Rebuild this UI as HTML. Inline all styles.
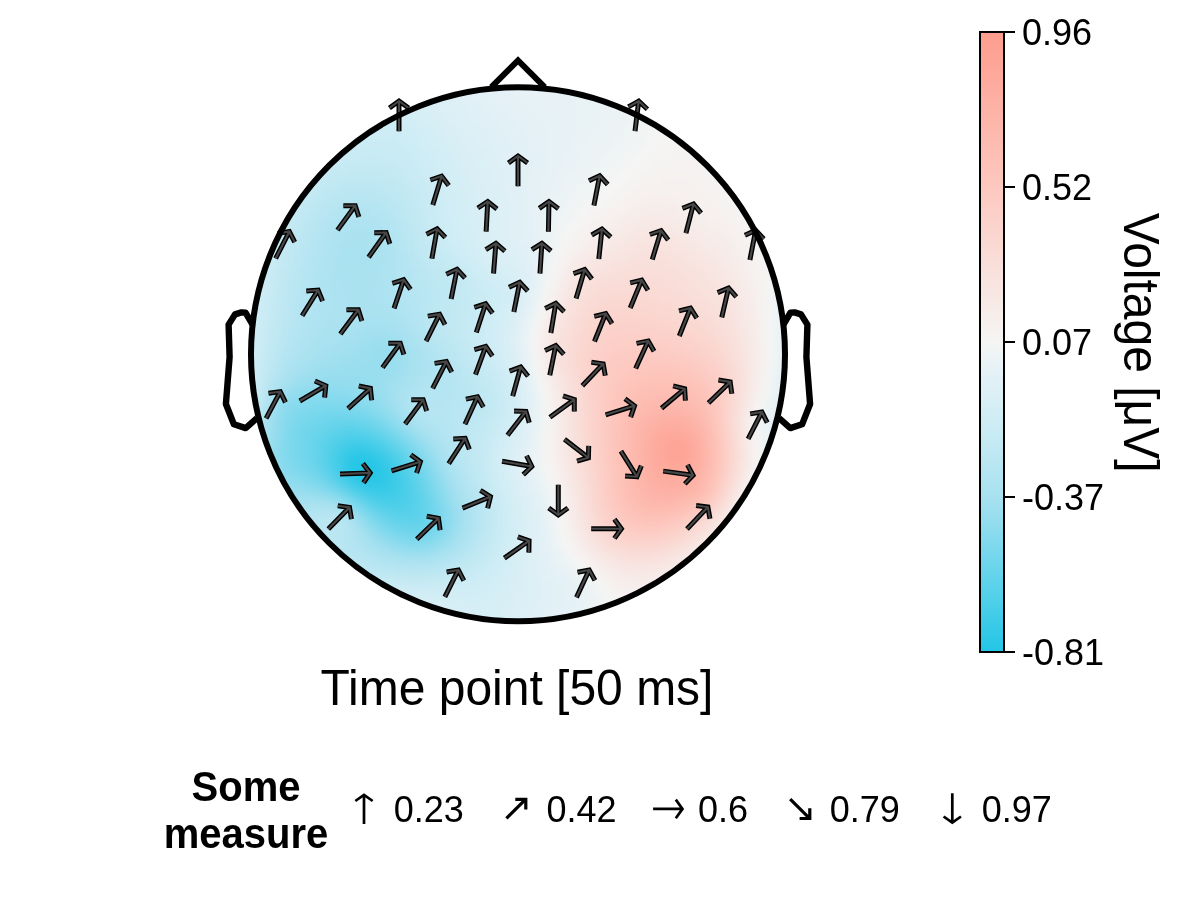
<!DOCTYPE html>
<html><head><meta charset="utf-8"><style>
html,body{margin:0;padding:0;background:#fff;width:1200px;height:900px;overflow:hidden}
#clip{position:absolute;left:251px;top:87.2px;width:534px;height:534px;border-radius:50%;overflow:hidden}
#field{position:absolute;left:-11px;top:-11.2px;width:570px;filter:blur(3px)}
svg{position:absolute;left:0;top:0;will-change:transform}
text{font-family:"Liberation Sans",sans-serif;fill:#000}
</style></head><body>
<div id="clip"><div id="field"><div style="height:6px;background:linear-gradient(90deg,#f5f4f3 3px,#f5f5f4 9px,#f2f4f4 15px,#f0f4f5 21px,#eef3f5 27px,#ecf3f5 33px,#eaf2f5 39px,#e8f2f5 45px,#e6f2f6 51px,#e5f1f6 57px,#e3f1f6 63px,#e2f1f6 69px,#e1f0f6 75px,#e0f0f6 81px,#dff0f6 87px,#def0f6 93px,#ddf0f6 99px,#dceff6 105px,#dceff6 111px,#dbeff6 117px,#daeff6 123px,#daeff6 129px,#daeff5 135px,#daeff5 141px,#daeff5 147px,#daeff5 153px,#daeff6 159px,#dbeff6 165px,#dbeff6 171px,#dceff6 177px,#ddf0f6 183px,#def0f6 189px,#def0f6 195px,#dff0f6 201px,#e0f0f6 207px,#e1f0f6 213px,#e2f1f6 219px,#e2f1f6 225px,#e3f1f6 231px,#e4f1f6 237px,#e4f1f6 243px,#e5f1f6 249px,#e6f1f6 255px,#e6f2f6 261px,#e7f2f6 267px,#e8f2f6 273px,#e8f2f6 279px,#e8f2f5 285px,#e9f2f5 291px,#e9f2f5 297px,#e9f2f5 303px,#e9f2f5 309px,#e9f2f5 315px,#e9f2f5 321px,#e9f2f5 327px,#e9f2f5 333px,#e9f2f5 339px,#e9f2f5 345px,#e9f2f5 351px,#e9f2f5 357px,#e9f2f5 363px,#eaf2f5 369px,#eaf2f5 375px,#eaf2f5 381px,#eaf3f5 387px,#ebf3f5 393px,#ebf3f5 399px,#ecf3f5 405px,#ecf3f5 411px,#ecf3f5 417px,#edf3f5 423px,#edf3f5 429px,#edf3f5 435px,#edf3f5 441px,#edf3f5 447px,#edf3f5 453px,#ecf3f5 459px,#ecf3f5 465px,#ebf3f5 471px,#eaf2f5 477px,#e9f2f5 483px,#e8f2f5 489px,#e7f2f6 495px,#e6f1f6 501px,#e4f1f6 507px,#e3f1f6 513px,#e2f1f6 519px,#e0f0f6 525px,#dff0f6 531px,#ddf0f6 537px,#dceff6 543px,#daeff5 549px,#d8eff5 555px,#d6eef5 561px,#d4eef5 567px)"></div><div style="height:6px;background:linear-gradient(90deg,#f5f5f4 3px,#f3f5f4 9px,#f1f4f4 15px,#eff4f5 21px,#edf3f5 27px,#ebf3f5 33px,#e9f2f5 39px,#e7f2f6 45px,#e5f1f6 51px,#e3f1f6 57px,#e2f1f6 63px,#e1f0f6 69px,#e0f0f6 75px,#dff0f6 81px,#def0f6 87px,#ddf0f6 93px,#dceff6 99px,#dbeff6 105px,#daeff6 111px,#daeff5 117px,#d9eff5 123px,#d9eff5 129px,#d8eff5 135px,#d8eff5 141px,#d8eff5 147px,#d8eff5 153px,#d9eff5 159px,#d9eff5 165px,#daeff5 171px,#dbeff6 177px,#dceff6 183px,#ddf0f6 189px,#ddf0f6 195px,#def0f6 201px,#dff0f6 207px,#e0f0f6 213px,#e1f0f6 219px,#e2f1f6 225px,#e2f1f6 231px,#e3f1f6 237px,#e4f1f6 243px,#e4f1f6 249px,#e5f1f6 255px,#e6f1f6 261px,#e7f2f6 267px,#e7f2f6 273px,#e8f2f6 279px,#e8f2f6 285px,#e8f2f6 291px,#e8f2f5 297px,#e9f2f5 303px,#e9f2f5 309px,#e9f2f5 315px,#e9f2f5 321px,#e9f2f5 327px,#e9f2f5 333px,#e9f2f5 339px,#e9f2f5 345px,#e9f2f5 351px,#e9f2f5 357px,#e9f2f5 363px,#eaf2f5 369px,#eaf2f5 375px,#eaf2f5 381px,#ebf3f5 387px,#ebf3f5 393px,#ecf3f5 399px,#ecf3f5 405px,#edf3f5 411px,#edf3f5 417px,#edf3f5 423px,#eef3f5 429px,#eef3f5 435px,#eef3f5 441px,#eef3f5 447px,#eef3f5 453px,#edf3f5 459px,#edf3f5 465px,#ecf3f5 471px,#ebf3f5 477px,#eaf2f5 483px,#e9f2f5 489px,#e8f2f6 495px,#e7f2f6 501px,#e5f1f6 507px,#e4f1f6 513px,#e2f1f6 519px,#e1f0f6 525px,#dff0f6 531px,#def0f6 537px,#dceff6 543px,#daeff6 549px,#d9eff5 555px,#d7eef5 561px,#d5eef5 567px)"></div><div style="height:6px;background:linear-gradient(90deg,#f4f5f4 3px,#f2f4f4 9px,#eff4f5 15px,#edf3f5 21px,#ebf3f5 27px,#e9f2f5 33px,#e7f2f6 39px,#e5f1f6 45px,#e3f1f6 51px,#e2f1f6 57px,#e1f0f6 63px,#e0f0f6 69px,#def0f6 75px,#ddf0f6 81px,#dceff6 87px,#dbeff6 93px,#daeff6 99px,#daeff5 105px,#d9eff5 111px,#d8eff5 117px,#d8eff5 123px,#d7eef5 129px,#d7eef5 135px,#d7eef5 141px,#d7eef5 147px,#d7eef5 153px,#d7eef5 159px,#d8eff5 165px,#d9eff5 171px,#daeff5 177px,#dbeff6 183px,#dceff6 189px,#ddf0f6 195px,#ddf0f6 201px,#def0f6 207px,#dff0f6 213px,#e0f0f6 219px,#e1f0f6 225px,#e2f1f6 231px,#e2f1f6 237px,#e3f1f6 243px,#e4f1f6 249px,#e4f1f6 255px,#e5f1f6 261px,#e6f1f6 267px,#e7f2f6 273px,#e7f2f6 279px,#e7f2f6 285px,#e8f2f6 291px,#e8f2f6 297px,#e8f2f6 303px,#e8f2f5 309px,#e8f2f5 315px,#e8f2f5 321px,#e9f2f5 327px,#e9f2f5 333px,#e9f2f5 339px,#e9f2f5 345px,#e9f2f5 351px,#e9f2f5 357px,#e9f2f5 363px,#eaf2f5 369px,#eaf2f5 375px,#eaf2f5 381px,#ebf3f5 387px,#ebf3f5 393px,#ecf3f5 399px,#edf3f5 405px,#edf3f5 411px,#eef3f5 417px,#eef3f5 423px,#eef3f5 429px,#eff4f5 435px,#eff4f5 441px,#eff4f5 447px,#eff3f5 453px,#eef3f5 459px,#eef3f5 465px,#edf3f5 471px,#ecf3f5 477px,#ebf3f5 483px,#eaf2f5 489px,#e9f2f5 495px,#e8f2f6 501px,#e6f1f6 507px,#e4f1f6 513px,#e3f1f6 519px,#e2f1f6 525px,#e0f0f6 531px,#def0f6 537px,#ddf0f6 543px,#dbeff6 549px,#d9eff5 555px,#d7eef5 561px,#d5eef5 567px)"></div><div style="height:6px;background:linear-gradient(90deg,#f3f4f4 3px,#f0f4f5 9px,#eef3f5 15px,#ecf3f5 21px,#eaf2f5 27px,#e7f2f6 33px,#e5f1f6 39px,#e4f1f6 45px,#e2f1f6 51px,#e1f0f6 57px,#dff0f6 63px,#def0f6 69px,#ddf0f6 75px,#dceff6 81px,#dbeff6 87px,#daeff5 93px,#d9eff5 99px,#d8eff5 105px,#d7eef5 111px,#d7eef5 117px,#d6eef5 123px,#d6eef5 129px,#d5eef5 135px,#d5eef5 141px,#d5eef5 147px,#d5eef5 153px,#d6eef5 159px,#d6eef5 165px,#d7eef5 171px,#d8eff5 177px,#d9eff5 183px,#dbeff6 189px,#dceff6 195px,#ddf0f6 201px,#ddf0f6 207px,#def0f6 213px,#dff0f6 219px,#e0f0f6 225px,#e1f0f6 231px,#e2f1f6 237px,#e2f1f6 243px,#e3f1f6 249px,#e4f1f6 255px,#e5f1f6 261px,#e5f1f6 267px,#e6f1f6 273px,#e7f2f6 279px,#e7f2f6 285px,#e7f2f6 291px,#e8f2f6 297px,#e8f2f6 303px,#e8f2f6 309px,#e8f2f6 315px,#e8f2f6 321px,#e8f2f5 327px,#e8f2f5 333px,#e9f2f5 339px,#e9f2f5 345px,#e9f2f5 351px,#e9f2f5 357px,#e9f2f5 363px,#eaf2f5 369px,#eaf2f5 375px,#ebf3f5 381px,#ebf3f5 387px,#ecf3f5 393px,#edf3f5 399px,#edf3f5 405px,#eef3f5 411px,#eef3f5 417px,#eff4f5 423px,#eff4f5 429px,#f0f4f5 435px,#f0f4f5 441px,#f0f4f5 447px,#f0f4f5 453px,#eff4f5 459px,#eff4f5 465px,#eef3f5 471px,#edf3f5 477px,#ecf3f5 483px,#ebf3f5 489px,#eaf2f5 495px,#e9f2f5 501px,#e7f2f6 507px,#e5f1f6 513px,#e4f1f6 519px,#e2f1f6 525px,#e1f0f6 531px,#dff0f6 537px,#ddf0f6 543px,#dbeff6 549px,#d9eff5 555px,#d8eff5 561px,#d6eef5 567px)"></div><div style="height:6px;background:linear-gradient(90deg,#f1f4f4 3px,#eff4f5 9px,#edf3f5 15px,#eaf2f5 21px,#e8f2f6 27px,#e6f1f6 33px,#e4f1f6 39px,#e2f1f6 45px,#e1f0f6 51px,#dff0f6 57px,#def0f6 63px,#ddf0f6 69px,#dceff6 75px,#dbeff6 81px,#daeff5 87px,#d9eff5 93px,#d8eff5 99px,#d7eef5 105px,#d6eef5 111px,#d5eef5 117px,#d5eef5 123px,#d4eef5 129px,#d4eef5 135px,#d4eef5 141px,#d4eef5 147px,#d4eef5 153px,#d4eef5 159px,#d5eef5 165px,#d6eef5 171px,#d7eef5 177px,#d8eff5 183px,#daeff5 189px,#dbeff6 195px,#dceff6 201px,#ddf0f6 207px,#ddf0f6 213px,#def0f6 219px,#dff0f6 225px,#e0f0f6 231px,#e1f0f6 237px,#e2f1f6 243px,#e2f1f6 249px,#e3f1f6 255px,#e4f1f6 261px,#e5f1f6 267px,#e5f1f6 273px,#e6f1f6 279px,#e6f2f6 285px,#e7f2f6 291px,#e7f2f6 297px,#e7f2f6 303px,#e8f2f6 309px,#e8f2f6 315px,#e8f2f6 321px,#e8f2f6 327px,#e8f2f5 333px,#e9f2f5 339px,#e9f2f5 345px,#e9f2f5 351px,#e9f2f5 357px,#e9f2f5 363px,#eaf2f5 369px,#eaf2f5 375px,#ebf3f5 381px,#ecf3f5 387px,#ecf3f5 393px,#edf3f5 399px,#eef3f5 405px,#eff3f5 411px,#eff4f5 417px,#f0f4f5 423px,#f0f4f5 429px,#f0f4f5 435px,#f1f4f5 441px,#f1f4f5 447px,#f1f4f5 453px,#f0f4f5 459px,#f0f4f5 465px,#eff4f5 471px,#eef3f5 477px,#edf3f5 483px,#ecf3f5 489px,#ebf3f5 495px,#e9f2f5 501px,#e8f2f6 507px,#e6f2f6 513px,#e4f1f6 519px,#e3f1f6 525px,#e1f0f6 531px,#dff0f6 537px,#def0f6 543px,#dceff6 549px,#daeff5 555px,#d8eff5 561px,#d6eef5 567px)"></div><div style="height:6px;background:linear-gradient(90deg,#f0f4f5 3px,#edf3f5 9px,#ebf3f5 15px,#e9f2f5 21px,#e6f2f6 27px,#e4f1f6 33px,#e3f1f6 39px,#e1f0f6 45px,#e0f0f6 51px,#def0f6 57px,#ddf0f6 63px,#dceff6 69px,#daeff6 75px,#d9eff5 81px,#d8eff5 87px,#d7eef5 93px,#d6eef5 99px,#d6eef5 105px,#d5eef5 111px,#d4eef5 117px,#d3eef5 123px,#d3eef5 129px,#d3eef5 135px,#d2edf5 141px,#d2edf5 147px,#d2edf5 153px,#d3eef5 159px,#d4eef5 165px,#d5eef5 171px,#d6eef5 177px,#d7eef5 183px,#d8eff5 189px,#daeff5 195px,#dbeff6 201px,#dceff6 207px,#ddf0f6 213px,#def0f6 219px,#def0f6 225px,#dff0f6 231px,#e0f0f6 237px,#e1f0f6 243px,#e2f1f6 249px,#e3f1f6 255px,#e3f1f6 261px,#e4f1f6 267px,#e5f1f6 273px,#e5f1f6 279px,#e6f1f6 285px,#e6f2f6 291px,#e7f2f6 297px,#e7f2f6 303px,#e7f2f6 309px,#e8f2f6 315px,#e8f2f6 321px,#e8f2f6 327px,#e8f2f5 333px,#e9f2f5 339px,#e9f2f5 345px,#e9f2f5 351px,#e9f2f5 357px,#eaf2f5 363px,#eaf2f5 369px,#ebf3f5 375px,#ebf3f5 381px,#ecf3f5 387px,#edf3f5 393px,#eef3f5 399px,#eff3f5 405px,#eff4f5 411px,#f0f4f5 417px,#f1f4f5 423px,#f1f4f4 429px,#f1f4f4 435px,#f2f4f4 441px,#f2f4f4 447px,#f2f4f4 453px,#f1f4f4 459px,#f1f4f4 465px,#f0f4f5 471px,#eff4f5 477px,#eef3f5 483px,#edf3f5 489px,#ecf3f5 495px,#eaf2f5 501px,#e9f2f5 507px,#e7f2f6 513px,#e5f1f6 519px,#e3f1f6 525px,#e2f1f6 531px,#e0f0f6 537px,#def0f6 543px,#dceff6 549px,#daeff6 555px,#d8eff5 561px,#d6eef5 567px)"></div><div style="height:6px;background:linear-gradient(90deg,#eff3f5 3px,#ecf3f5 9px,#eaf2f5 15px,#e7f2f6 21px,#e5f1f6 27px,#e3f1f6 33px,#e1f0f6 39px,#e0f0f6 45px,#def0f6 51px,#ddf0f6 57px,#dbeff6 63px,#daeff6 69px,#d9eff5 75px,#d8eff5 81px,#d7eef5 87px,#d6eef5 93px,#d5eef5 99px,#d4eef5 105px,#d4eef5 111px,#d3eef5 117px,#d2edf5 123px,#d2edf5 129px,#d1edf5 135px,#d1edf5 141px,#d1edf5 147px,#d1edf5 153px,#d1edf5 159px,#d2edf5 165px,#d3eef5 171px,#d5eef5 177px,#d6eef5 183px,#d7eef5 189px,#d8eff5 195px,#daeff5 201px,#dbeff6 207px,#dceff6 213px,#ddf0f6 219px,#def0f6 225px,#dff0f6 231px,#dff0f6 237px,#e0f0f6 243px,#e1f0f6 249px,#e2f1f6 255px,#e3f1f6 261px,#e3f1f6 267px,#e4f1f6 273px,#e5f1f6 279px,#e5f1f6 285px,#e6f1f6 291px,#e6f2f6 297px,#e7f2f6 303px,#e7f2f6 309px,#e7f2f6 315px,#e8f2f6 321px,#e8f2f6 327px,#e8f2f6 333px,#e9f2f5 339px,#e9f2f5 345px,#e9f2f5 351px,#eaf2f5 357px,#eaf2f5 363px,#ebf3f5 369px,#ebf3f5 375px,#ecf3f5 381px,#edf3f5 387px,#eef3f5 393px,#eef3f5 399px,#eff4f5 405px,#f0f4f5 411px,#f1f4f4 417px,#f1f4f4 423px,#f2f4f4 429px,#f2f4f4 435px,#f3f4f4 441px,#f3f4f4 447px,#f3f4f4 453px,#f2f4f4 459px,#f2f4f4 465px,#f1f4f4 471px,#f0f4f5 477px,#eff4f5 483px,#eef3f5 489px,#edf3f5 495px,#ebf3f5 501px,#eaf2f5 507px,#e8f2f6 513px,#e6f1f6 519px,#e4f1f6 525px,#e2f1f6 531px,#e0f0f6 537px,#dff0f6 543px,#ddf0f6 549px,#dbeff6 555px,#d9eff5 561px,#d7eef5 567px)"></div><div style="height:6px;background:linear-gradient(90deg,#edf3f5 3px,#ebf3f5 9px,#e8f2f6 15px,#e6f1f6 21px,#e3f1f6 27px,#e2f1f6 33px,#e0f0f6 39px,#def0f6 45px,#ddf0f6 51px,#dbeff6 57px,#daeff6 63px,#d9eff5 69px,#d8eff5 75px,#d7eef5 81px,#d6eef5 87px,#d5eef5 93px,#d4eef5 99px,#d3eef5 105px,#d2edf5 111px,#d2edf5 117px,#d1edf5 123px,#d0edf5 129px,#d0edf5 135px,#d0edf5 141px,#d0edf5 147px,#d0edf5 153px,#d0edf5 159px,#d1edf5 165px,#d2edf5 171px,#d3eef5 177px,#d5eef5 183px,#d6eef5 189px,#d7eef5 195px,#d8eff5 201px,#daeff5 207px,#dbeff6 213px,#dceff6 219px,#ddf0f6 225px,#def0f6 231px,#dff0f6 237px,#e0f0f6 243px,#e1f0f6 249px,#e1f0f6 255px,#e2f1f6 261px,#e3f1f6 267px,#e3f1f6 273px,#e4f1f6 279px,#e5f1f6 285px,#e5f1f6 291px,#e6f1f6 297px,#e6f2f6 303px,#e7f2f6 309px,#e7f2f6 315px,#e8f2f6 321px,#e8f2f6 327px,#e8f2f6 333px,#e9f2f5 339px,#e9f2f5 345px,#e9f2f5 351px,#eaf2f5 357px,#eaf3f5 363px,#ebf3f5 369px,#ecf3f5 375px,#ecf3f5 381px,#edf3f5 387px,#eef3f5 393px,#eff4f5 399px,#f0f4f5 405px,#f1f4f4 411px,#f2f4f4 417px,#f2f4f4 423px,#f3f5f4 429px,#f3f5f4 435px,#f4f5f4 441px,#f4f5f4 447px,#f4f5f4 453px,#f4f5f4 459px,#f3f5f4 465px,#f2f4f4 471px,#f1f4f4 477px,#f0f4f5 483px,#eff4f5 489px,#eef3f5 495px,#ecf3f5 501px,#eaf3f5 507px,#e9f2f5 513px,#e7f2f6 519px,#e5f1f6 525px,#e3f1f6 531px,#e1f0f6 537px,#dff0f6 543px,#ddf0f6 549px,#dbeff6 555px,#d9eff5 561px,#d7eef5 567px)"></div><div style="height:6px;background:linear-gradient(90deg,#ecf3f5 3px,#e9f2f5 9px,#e7f2f6 15px,#e4f1f6 21px,#e2f1f6 27px,#e0f0f6 33px,#dff0f6 39px,#ddf0f6 45px,#dceff6 51px,#daeff6 57px,#d9eff5 63px,#d8eff5 69px,#d6eef5 75px,#d5eef5 81px,#d4eef5 87px,#d3eef5 93px,#d3eef5 99px,#d2edf5 105px,#d1edf5 111px,#d0edf5 117px,#d0edf5 123px,#cfedf5 129px,#cfedf5 135px,#ceecf5 141px,#ceecf5 147px,#cfedf5 153px,#cfedf5 159px,#d0edf5 165px,#d1edf5 171px,#d2edf5 177px,#d4eef5 183px,#d5eef5 189px,#d6eef5 195px,#d7eef5 201px,#d9eff5 207px,#daeff5 213px,#dbeff6 219px,#dceff6 225px,#ddf0f6 231px,#def0f6 237px,#dff0f6 243px,#e0f0f6 249px,#e1f0f6 255px,#e2f1f6 261px,#e2f1f6 267px,#e3f1f6 273px,#e4f1f6 279px,#e4f1f6 285px,#e5f1f6 291px,#e5f1f6 297px,#e6f1f6 303px,#e7f2f6 309px,#e7f2f6 315px,#e7f2f6 321px,#e8f2f6 327px,#e8f2f5 333px,#e9f2f5 339px,#e9f2f5 345px,#eaf2f5 351px,#eaf2f5 357px,#ebf3f5 363px,#ecf3f5 369px,#ecf3f5 375px,#edf3f5 381px,#eef3f5 387px,#eff4f5 393px,#f0f4f5 399px,#f1f4f4 405px,#f2f4f4 411px,#f3f4f4 417px,#f3f5f4 423px,#f4f5f4 429px,#f4f5f4 435px,#f5f5f4 441px,#f5f5f4 447px,#f5f5f4 453px,#f5f5f4 459px,#f4f5f4 465px,#f3f5f4 471px,#f3f4f4 477px,#f1f4f4 483px,#f0f4f5 489px,#eff3f5 495px,#edf3f5 501px,#ebf3f5 507px,#e9f2f5 513px,#e7f2f6 519px,#e5f1f6 525px,#e3f1f6 531px,#e1f0f6 537px,#dff0f6 543px,#ddf0f6 549px,#dbeff6 555px,#d9eff5 561px,#d7eef5 567px)"></div><div style="height:6px;background:linear-gradient(90deg,#eaf3f5 3px,#e8f2f6 9px,#e5f1f6 15px,#e3f1f6 21px,#e1f0f6 27px,#dff0f6 33px,#ddf0f6 39px,#dceff6 45px,#daeff6 51px,#d9eff5 57px,#d7eef5 63px,#d6eef5 69px,#d5eef5 75px,#d4eef5 81px,#d3eef5 87px,#d2edf5 93px,#d1edf5 99px,#d0edf5 105px,#d0edf5 111px,#cfedf5 117px,#ceecf5 123px,#ceecf5 129px,#cdecf5 135px,#cdecf5 141px,#cdecf5 147px,#cdecf5 153px,#ceecf5 159px,#cfedf5 165px,#d0edf5 171px,#d1edf5 177px,#d2edf5 183px,#d4eef5 189px,#d5eef5 195px,#d6eef5 201px,#d8eff5 207px,#d9eff5 213px,#daeff6 219px,#dbeff6 225px,#dceff6 231px,#ddf0f6 237px,#def0f6 243px,#dff0f6 249px,#e0f0f6 255px,#e1f0f6 261px,#e2f1f6 267px,#e2f1f6 273px,#e3f1f6 279px,#e4f1f6 285px,#e4f1f6 291px,#e5f1f6 297px,#e6f1f6 303px,#e6f2f6 309px,#e7f2f6 315px,#e7f2f6 321px,#e8f2f6 327px,#e8f2f5 333px,#e9f2f5 339px,#e9f2f5 345px,#eaf2f5 351px,#ebf3f5 357px,#ebf3f5 363px,#ecf3f5 369px,#edf3f5 375px,#eef3f5 381px,#eff4f5 387px,#f0f4f5 393px,#f1f4f4 399px,#f2f4f4 405px,#f3f4f4 411px,#f3f5f4 417px,#f4f5f4 423px,#f5f5f4 429px,#f5f5f4 435px,#f5f5f4 441px,#f5f4f3 447px,#f5f4f3 453px,#f5f5f4 459px,#f5f5f4 465px,#f5f5f4 471px,#f4f5f4 477px,#f2f4f4 483px,#f1f4f4 489px,#eff4f5 495px,#eef3f5 501px,#ecf3f5 507px,#eaf2f5 513px,#e8f2f6 519px,#e6f1f6 525px,#e4f1f6 531px,#e2f1f6 537px,#e0f0f6 543px,#def0f6 549px,#dceff6 555px,#daeff5 561px,#d7eef5 567px)"></div><div style="height:6px;background:linear-gradient(90deg,#e9f2f5 3px,#e6f2f6 9px,#e4f1f6 15px,#e2f1f6 21px,#e0f0f6 27px,#def0f6 33px,#dceff6 39px,#daeff6 45px,#d9eff5 51px,#d7eef5 57px,#d6eef5 63px,#d5eef5 69px,#d3eef5 75px,#d2edf5 81px,#d1edf5 87px,#d1edf5 93px,#d0edf5 99px,#cfedf5 105px,#ceecf5 111px,#cdecf5 117px,#cdecf5 123px,#ccecf5 129px,#ccecf4 135px,#ccecf4 141px,#ccecf4 147px,#ccecf5 153px,#cdecf5 159px,#ceecf5 165px,#cfedf5 171px,#d0edf5 177px,#d2edf5 183px,#d3eef5 189px,#d4eef5 195px,#d5eef5 201px,#d7eef5 207px,#d8eff5 213px,#d9eff5 219px,#daeff6 225px,#dceff6 231px,#ddf0f6 237px,#def0f6 243px,#dff0f6 249px,#e0f0f6 255px,#e0f0f6 261px,#e1f0f6 267px,#e2f1f6 273px,#e3f1f6 279px,#e3f1f6 285px,#e4f1f6 291px,#e5f1f6 297px,#e6f1f6 303px,#e6f2f6 309px,#e7f2f6 315px,#e7f2f6 321px,#e8f2f6 327px,#e9f2f5 333px,#e9f2f5 339px,#eaf2f5 345px,#eaf3f5 351px,#ebf3f5 357px,#ecf3f5 363px,#edf3f5 369px,#eef3f5 375px,#eff3f5 381px,#f0f4f5 387px,#f1f4f5 393px,#f2f4f4 399px,#f3f4f4 405px,#f4f5f4 411px,#f4f5f4 417px,#f5f5f4 423px,#f5f5f4 429px,#f5f4f3 435px,#f5f4f3 441px,#f5f4f3 447px,#f5f4f3 453px,#f5f4f3 459px,#f5f4f3 465px,#f5f5f4 471px,#f4f5f4 477px,#f3f5f4 483px,#f2f4f4 489px,#f0f4f5 495px,#eef3f5 501px,#edf3f5 507px,#ebf3f5 513px,#e9f2f5 519px,#e6f2f6 525px,#e4f1f6 531px,#e2f1f6 537px,#e0f0f6 543px,#def0f6 549px,#dceff6 555px,#daeff5 561px,#d8eff5 567px)"></div><div style="height:6px;background:linear-gradient(90deg,#e8f2f6 3px,#e5f1f6 9px,#e3f1f6 15px,#e1f0f6 21px,#dff0f6 27px,#ddf0f6 33px,#dbeff6 39px,#d9eff5 45px,#d7eef5 51px,#d6eef5 57px,#d4eef5 63px,#d3eef5 69px,#d2edf5 75px,#d1edf5 81px,#d0edf5 87px,#cfedf5 93px,#ceecf5 99px,#cdecf5 105px,#cdecf5 111px,#ccecf4 117px,#cbecf4 123px,#cbebf4 129px,#caebf4 135px,#caebf4 141px,#caebf4 147px,#cbebf4 153px,#ccecf4 159px,#cdecf5 165px,#ceecf5 171px,#cfedf5 177px,#d1edf5 183px,#d2edf5 189px,#d3eef5 195px,#d5eef5 201px,#d6eef5 207px,#d7eef5 213px,#d8eff5 219px,#daeff5 225px,#dbeff6 231px,#dceff6 237px,#ddf0f6 243px,#def0f6 249px,#dff0f6 255px,#e0f0f6 261px,#e1f0f6 267px,#e2f1f6 273px,#e2f1f6 279px,#e3f1f6 285px,#e4f1f6 291px,#e5f1f6 297px,#e5f1f6 303px,#e6f2f6 309px,#e7f2f6 315px,#e7f2f6 321px,#e8f2f6 327px,#e9f2f5 333px,#e9f2f5 339px,#eaf2f5 345px,#ebf3f5 351px,#ecf3f5 357px,#ecf3f5 363px,#edf3f5 369px,#eef3f5 375px,#eff4f5 381px,#f0f4f5 387px,#f1f4f4 393px,#f2f4f4 399px,#f3f5f4 405px,#f4f5f4 411px,#f5f5f4 417px,#f5f4f3 423px,#f5f4f3 429px,#f5f4f3 435px,#f5f4f2 441px,#f5f3f2 447px,#f5f3f2 453px,#f5f4f2 459px,#f5f4f3 465px,#f5f4f3 471px,#f5f5f4 477px,#f4f5f4 483px,#f3f4f4 489px,#f1f4f4 495px,#eff4f5 501px,#edf3f5 507px,#ebf3f5 513px,#e9f2f5 519px,#e7f2f6 525px,#e5f1f6 531px,#e3f1f6 537px,#e1f0f6 543px,#dff0f6 549px,#dceff6 555px,#daeff6 561px,#d8eff5 567px)"></div><div style="height:6px;background:linear-gradient(90deg,#e6f2f6 3px,#e4f1f6 9px,#e1f0f6 15px,#dff0f6 21px,#ddf0f6 27px,#dbeff6 33px,#d9eff5 39px,#d8eff5 45px,#d6eef5 51px,#d4eef5 57px,#d3eef5 63px,#d2edf5 69px,#d0edf5 75px,#cfedf5 81px,#ceecf5 87px,#cdecf5 93px,#ccecf5 99px,#cbecf4 105px,#cbebf4 111px,#caebf4 117px,#c9ebf4 123px,#c9ebf4 129px,#c9ebf4 135px,#c9ebf4 141px,#c9ebf4 147px,#caebf4 153px,#caebf4 159px,#cbecf4 165px,#cdecf5 171px,#ceecf5 177px,#d0edf5 183px,#d1edf5 189px,#d2edf5 195px,#d4eef5 201px,#d5eef5 207px,#d6eef5 213px,#d8eff5 219px,#d9eff5 225px,#daeff6 231px,#dbeff6 237px,#dceff6 243px,#ddf0f6 249px,#dff0f6 255px,#dff0f6 261px,#e0f0f6 267px,#e1f0f6 273px,#e2f1f6 279px,#e3f1f6 285px,#e4f1f6 291px,#e5f1f6 297px,#e5f1f6 303px,#e6f2f6 309px,#e7f2f6 315px,#e8f2f6 321px,#e8f2f5 327px,#e9f2f5 333px,#eaf2f5 339px,#ebf3f5 345px,#ebf3f5 351px,#ecf3f5 357px,#edf3f5 363px,#eef3f5 369px,#eff4f5 375px,#f0f4f5 381px,#f1f4f4 387px,#f2f4f4 393px,#f3f5f4 399px,#f4f5f4 405px,#f5f5f4 411px,#f5f4f3 417px,#f5f4f3 423px,#f5f4f2 429px,#f5f3f2 435px,#f5f3f2 441px,#f5f3f2 447px,#f5f3f2 453px,#f5f3f2 459px,#f5f3f2 465px,#f5f4f3 471px,#f5f5f3 477px,#f5f5f4 483px,#f3f5f4 489px,#f2f4f4 495px,#f0f4f5 501px,#eef3f5 507px,#ecf3f5 513px,#eaf2f5 519px,#e8f2f6 525px,#e5f1f6 531px,#e3f1f6 537px,#e1f0f6 543px,#dff0f6 549px,#ddf0f6 555px,#daeff6 561px,#d8eff5 567px)"></div><div style="height:6px;background:linear-gradient(90deg,#e5f1f6 3px,#e3f1f6 9px,#e0f0f6 15px,#def0f6 21px,#dceff6 27px,#daeff6 33px,#d8eff5 39px,#d6eef5 45px,#d4eef5 51px,#d3eef5 57px,#d1edf5 63px,#d0edf5 69px,#ceedf5 75px,#cdecf5 81px,#ccecf4 87px,#cbebf4 93px,#caebf4 99px,#c9ebf4 105px,#c9ebf4 111px,#c8ebf4 117px,#c8eaf4 123px,#c7eaf4 129px,#c7eaf4 135px,#c7eaf4 141px,#c8eaf4 147px,#c8ebf4 153px,#c9ebf4 159px,#caebf4 165px,#ccecf4 171px,#cdecf5 177px,#cfedf5 183px,#d0edf5 189px,#d2edf5 195px,#d3eef5 201px,#d4eef5 207px,#d6eef5 213px,#d7eef5 219px,#d8eff5 225px,#daeff5 231px,#dbeff6 237px,#dceff6 243px,#ddf0f6 249px,#def0f6 255px,#dff0f6 261px,#e0f0f6 267px,#e1f0f6 273px,#e2f1f6 279px,#e3f1f6 285px,#e4f1f6 291px,#e4f1f6 297px,#e5f1f6 303px,#e6f2f6 309px,#e7f2f6 315px,#e8f2f6 321px,#e9f2f5 327px,#e9f2f5 333px,#eaf2f5 339px,#ebf3f5 345px,#ecf3f5 351px,#edf3f5 357px,#eef3f5 363px,#eff4f5 369px,#f0f4f5 375px,#f1f4f4 381px,#f2f4f4 387px,#f3f5f4 393px,#f4f5f4 399px,#f5f5f4 405px,#f5f4f3 411px,#f5f4f3 417px,#f5f4f2 423px,#f5f3f2 429px,#f5f3f2 435px,#f5f3f1 441px,#f5f3f1 447px,#f5f3f1 453px,#f5f3f1 459px,#f5f3f2 465px,#f5f4f2 471px,#f5f4f3 477px,#f5f5f4 483px,#f4f5f4 489px,#f2f4f4 495px,#f0f4f5 501px,#eef3f5 507px,#ecf3f5 513px,#eaf2f5 519px,#e8f2f6 525px,#e6f1f6 531px,#e3f1f6 537px,#e1f0f6 543px,#dff0f6 549px,#ddf0f6 555px,#dbeff6 561px,#d8eff5 567px)"></div><div style="height:6px;background:linear-gradient(90deg,#e4f1f6 3px,#e2f1f6 9px,#dff0f6 15px,#ddf0f6 21px,#dbeff6 27px,#d9eff5 33px,#d7eef5 39px,#d5eef5 45px,#d3eef5 51px,#d1edf5 57px,#d0edf5 63px,#ceecf5 69px,#ccecf5 75px,#cbecf4 81px,#caebf4 87px,#c9ebf4 93px,#c8ebf4 99px,#c7eaf4 105px,#c6eaf4 111px,#c6eaf4 117px,#c5eaf4 123px,#c5eaf4 129px,#c5eaf4 135px,#c5eaf4 141px,#c6eaf4 147px,#c7eaf4 153px,#c8ebf4 159px,#c9ebf4 165px,#caebf4 171px,#ccecf4 177px,#ceecf5 183px,#cfedf5 189px,#d1edf5 195px,#d2edf5 201px,#d4eef5 207px,#d5eef5 213px,#d6eef5 219px,#d8eff5 225px,#d9eff5 231px,#daeff6 237px,#dbeff6 243px,#ddf0f6 249px,#def0f6 255px,#dff0f6 261px,#e0f0f6 267px,#e1f0f6 273px,#e2f1f6 279px,#e3f1f6 285px,#e3f1f6 291px,#e4f1f6 297px,#e5f1f6 303px,#e6f2f6 309px,#e7f2f6 315px,#e8f2f6 321px,#e9f2f5 327px,#eaf2f5 333px,#ebf3f5 339px,#ecf3f5 345px,#ecf3f5 351px,#edf3f5 357px,#eef3f5 363px,#f0f4f5 369px,#f1f4f4 375px,#f2f4f4 381px,#f3f5f4 387px,#f4f5f4 393px,#f5f5f4 399px,#f5f4f3 405px,#f5f4f3 411px,#f5f3f2 417px,#f5f3f2 423px,#f5f3f1 429px,#f5f3f1 435px,#f5f2f1 441px,#f5f2f1 447px,#f5f2f1 453px,#f5f3f1 459px,#f5f3f2 465px,#f5f3f2 471px,#f5f4f3 477px,#f5f5f4 483px,#f4f5f4 489px,#f3f4f4 495px,#f1f4f4 501px,#eff4f5 507px,#edf3f5 513px,#ebf3f5 519px,#e9f2f5 525px,#e6f2f6 531px,#e4f1f6 537px,#e2f1f6 543px,#dff0f6 549px,#ddf0f6 555px,#dbeff6 561px,#d9eff5 567px)"></div><div style="height:6px;background:linear-gradient(90deg,#e3f1f6 3px,#e0f0f6 9px,#def0f6 15px,#dceff6 21px,#daeff5 27px,#d7eef5 33px,#d5eef5 39px,#d3eef5 45px,#d2edf5 51px,#d0edf5 57px,#ceecf5 63px,#ccecf5 69px,#caebf4 75px,#c9ebf4 81px,#c8eaf4 87px,#c6eaf4 93px,#c6eaf4 99px,#c5eaf4 105px,#c4e9f4 111px,#c4e9f3 117px,#c3e9f3 123px,#c3e9f3 129px,#c3e9f3 135px,#c4e9f3 141px,#c4e9f4 147px,#c5eaf4 153px,#c6eaf4 159px,#c8eaf4 165px,#c9ebf4 171px,#cbebf4 177px,#cdecf5 183px,#ceecf5 189px,#d0edf5 195px,#d2edf5 201px,#d3eef5 207px,#d4eef5 213px,#d6eef5 219px,#d7eef5 225px,#d8eff5 231px,#daeff5 237px,#dbeff6 243px,#dceff6 249px,#ddf0f6 255px,#def0f6 261px,#dff0f6 267px,#e0f0f6 273px,#e2f1f6 279px,#e3f1f6 285px,#e3f1f6 291px,#e5f1f6 297px,#e6f1f6 303px,#e7f2f6 309px,#e8f2f6 315px,#e9f2f5 321px,#e9f2f5 327px,#eaf2f5 333px,#ebf3f5 339px,#ecf3f5 345px,#edf3f5 351px,#eef3f5 357px,#eff4f5 363px,#f1f4f5 369px,#f2f4f4 375px,#f3f5f4 381px,#f4f5f4 387px,#f5f5f4 393px,#f5f4f3 399px,#f5f4f2 405px,#f5f3f2 411px,#f5f3f1 417px,#f5f3f1 423px,#f5f2f1 429px,#f6f2f1 435px,#f6f2f1 441px,#f6f2f1 447px,#f6f2f1 453px,#f5f2f1 459px,#f5f3f1 465px,#f5f3f2 471px,#f5f4f3 477px,#f5f4f3 483px,#f5f5f4 489px,#f3f5f4 495px,#f1f4f4 501px,#f0f4f5 507px,#eef3f5 513px,#ebf3f5 519px,#e9f2f5 525px,#e7f2f6 531px,#e4f1f6 537px,#e2f1f6 543px,#e0f0f6 549px,#ddf0f6 555px,#dbeff6 561px,#d9eff5 567px)"></div><div style="height:6px;background:linear-gradient(90deg,#e2f1f6 3px,#dff0f6 9px,#ddf0f6 15px,#dbeff6 21px,#d8eff5 27px,#d6eef5 33px,#d4eef5 39px,#d2edf5 45px,#d0edf5 51px,#ceecf5 57px,#ccecf4 63px,#caebf4 69px,#c8ebf4 75px,#c7eaf4 81px,#c5eaf4 87px,#c4e9f4 93px,#c3e9f3 99px,#c2e9f3 105px,#c2e9f3 111px,#c1e9f3 117px,#c1e9f3 123px,#c1e9f3 129px,#c1e9f3 135px,#c2e9f3 141px,#c3e9f3 147px,#c4e9f3 153px,#c5eaf4 159px,#c6eaf4 165px,#c8ebf4 171px,#caebf4 177px,#ccecf4 183px,#cdecf5 189px,#cfedf5 195px,#d1edf5 201px,#d2edf5 207px,#d4eef5 213px,#d5eef5 219px,#d7eef5 225px,#d8eff5 231px,#d9eff5 237px,#daeff6 243px,#dceff6 249px,#ddf0f6 255px,#def0f6 261px,#dff0f6 267px,#e0f0f6 273px,#e1f0f6 279px,#e2f1f6 285px,#e4f1f6 291px,#e5f1f6 297px,#e6f1f6 303px,#e7f2f6 309px,#e8f2f6 315px,#e9f2f5 321px,#eaf2f5 327px,#ebf3f5 333px,#ecf3f5 339px,#edf3f5 345px,#eef3f5 351px,#eff4f5 357px,#f0f4f5 363px,#f2f4f4 369px,#f3f4f4 375px,#f4f5f4 381px,#f5f5f4 387px,#f5f4f3 393px,#f5f4f2 399px,#f5f3f2 405px,#f5f3f1 411px,#f5f2f1 417px,#f6f2f0 423px,#f6f2f0 429px,#f6f2f0 435px,#f6f2f0 441px,#f6f2f0 447px,#f6f2f0 453px,#f6f2f1 459px,#f5f3f1 465px,#f5f3f2 471px,#f5f4f2 477px,#f5f4f3 483px,#f5f5f4 489px,#f4f5f4 495px,#f2f4f4 501px,#f0f4f5 507px,#eef3f5 513px,#ecf3f5 519px,#eaf2f5 525px,#e7f2f6 531px,#e4f1f6 537px,#e2f1f6 543px,#e0f0f6 549px,#def0f6 555px,#dbeff6 561px,#d9eff5 567px)"></div><div style="height:6px;background:linear-gradient(90deg,#e1f0f6 3px,#dff0f6 9px,#dceff6 15px,#daeff5 21px,#d7eef5 27px,#d5eef5 33px,#d3eef5 39px,#d1edf5 45px,#ceecf5 51px,#ccecf5 57px,#caebf4 63px,#c8ebf4 69px,#c6eaf4 75px,#c4eaf4 81px,#c3e9f3 87px,#c2e9f3 93px,#c1e8f3 99px,#c0e8f3 105px,#bfe8f3 111px,#bfe8f3 117px,#bfe8f3 123px,#bfe8f3 129px,#bfe8f3 135px,#c0e8f3 141px,#c1e8f3 147px,#c2e9f3 153px,#c3e9f3 159px,#c5eaf4 165px,#c7eaf4 171px,#c9ebf4 177px,#cbebf4 183px,#cdecf5 189px,#cfedf5 195px,#d0edf5 201px,#d2edf5 207px,#d3eef5 213px,#d5eef5 219px,#d6eef5 225px,#d8eff5 231px,#d9eff5 237px,#daeff6 243px,#dbeff6 249px,#ddf0f6 255px,#def0f6 261px,#dff0f6 267px,#e0f0f6 273px,#e1f0f6 279px,#e3f1f6 285px,#e4f1f6 291px,#e5f1f6 297px,#e6f2f6 303px,#e7f2f6 309px,#e9f2f5 315px,#eaf2f5 321px,#ebf3f5 327px,#ecf3f5 333px,#edf3f5 339px,#eef3f5 345px,#eff4f5 351px,#f0f4f5 357px,#f1f4f4 363px,#f3f4f4 369px,#f4f5f4 375px,#f5f5f4 381px,#f5f4f3 387px,#f5f3f2 393px,#f5f3f1 399px,#f5f2f1 405px,#f6f2f0 411px,#f6f2f0 417px,#f6f1f0 423px,#f6f1f0 429px,#f6f1f0 435px,#f6f1f0 441px,#f6f1f0 447px,#f6f2f0 453px,#f6f2f0 459px,#f5f2f1 465px,#f5f3f1 471px,#f5f3f2 477px,#f5f4f3 483px,#f5f5f4 489px,#f4f5f4 495px,#f3f4f4 501px,#f1f4f5 507px,#eff4f5 513px,#ecf3f5 519px,#eaf2f5 525px,#e8f2f6 531px,#e5f1f6 537px,#e3f1f6 543px,#e0f0f6 549px,#def0f6 555px,#dceff6 561px,#d9eff5 567px)"></div><div style="height:6px;background:linear-gradient(90deg,#e0f0f6 3px,#def0f6 9px,#dbeff6 15px,#d8eff5 21px,#d6eef5 27px,#d4eef5 33px,#d1edf5 39px,#cfedf5 45px,#cdecf5 51px,#caebf4 57px,#c8ebf4 63px,#c6eaf4 69px,#c4e9f3 75px,#c2e9f3 81px,#c1e8f3 87px,#bfe8f3 93px,#bee8f3 99px,#bde7f3 105px,#bde7f3 111px,#bce7f3 117px,#bce7f3 123px,#bce7f3 129px,#bde7f3 135px,#bee8f3 141px,#bfe8f3 147px,#c0e8f3 153px,#c2e9f3 159px,#c4e9f3 165px,#c5eaf4 171px,#c8eaf4 177px,#caebf4 183px,#ccecf4 189px,#ceecf5 195px,#d0edf5 201px,#d1edf5 207px,#d3eef5 213px,#d4eef5 219px,#d6eef5 225px,#d7eef5 231px,#d8eff5 237px,#daeff5 243px,#dbeff6 249px,#dceff6 255px,#def0f6 261px,#dff0f6 267px,#e0f0f6 273px,#e1f0f6 279px,#e3f1f6 285px,#e4f1f6 291px,#e5f1f6 297px,#e7f2f6 303px,#e8f2f6 309px,#e9f2f5 315px,#eaf2f5 321px,#ebf3f5 327px,#edf3f5 333px,#eef3f5 339px,#eff4f5 345px,#f0f4f5 351px,#f1f4f4 357px,#f3f4f4 363px,#f4f5f4 369px,#f5f5f4 375px,#f5f4f3 381px,#f5f3f2 387px,#f5f2f1 393px,#f6f2f0 399px,#f6f1f0 405px,#f6f1ef 411px,#f6f1ef 417px,#f6f1ef 423px,#f6f1ef 429px,#f6f1ef 435px,#f6f1ef 441px,#f6f1ef 447px,#f6f1f0 453px,#f6f2f0 459px,#f6f2f0 465px,#f5f2f1 471px,#f5f3f2 477px,#f5f4f2 483px,#f5f4f3 489px,#f5f5f4 495px,#f3f5f4 501px,#f1f4f4 507px,#eff4f5 513px,#edf3f5 519px,#ebf3f5 525px,#e8f2f6 531px,#e5f1f6 537px,#e3f1f6 543px,#e1f0f6 549px,#def0f6 555px,#dceff6 561px,#d9eff5 567px)"></div><div style="height:6px;background:linear-gradient(90deg,#dff0f6 3px,#ddf0f6 9px,#daeff6 15px,#d7eef5 21px,#d5eef5 27px,#d3eef5 33px,#d0edf5 39px,#cdecf5 45px,#cbebf4 51px,#c8ebf4 57px,#c6eaf4 63px,#c4e9f3 69px,#c2e9f3 75px,#c0e8f3 81px,#bee8f3 87px,#bde7f3 93px,#bce7f2 99px,#bbe7f2 105px,#bae6f2 111px,#bae6f2 117px,#bae6f2 123px,#bae6f2 129px,#bbe7f2 135px,#bce7f2 141px,#bde7f3 147px,#bee8f3 153px,#c0e8f3 159px,#c2e9f3 165px,#c4e9f4 171px,#c6eaf4 177px,#c9ebf4 183px,#cbebf4 189px,#cdecf5 195px,#cfedf5 201px,#d1edf5 207px,#d3eef5 213px,#d4eef5 219px,#d5eef5 225px,#d7eef5 231px,#d8eff5 237px,#d9eff5 243px,#dbeff6 249px,#dceff6 255px,#ddf0f6 261px,#dff0f6 267px,#e0f0f6 273px,#e1f0f6 279px,#e3f1f6 285px,#e4f1f6 291px,#e6f1f6 297px,#e7f2f6 303px,#e9f2f5 309px,#eaf2f5 315px,#ebf3f5 321px,#ecf3f5 327px,#eef3f5 333px,#eff4f5 339px,#f0f4f5 345px,#f1f4f4 351px,#f2f4f4 357px,#f4f5f4 363px,#f5f5f4 369px,#f5f4f3 375px,#f5f3f2 381px,#f5f2f1 387px,#f6f1f0 393px,#f6f1ef 399px,#f6f0ef 405px,#f6f0ee 411px,#f6f0ee 417px,#f6f0ee 423px,#f6f0ee 429px,#f6f0ee 435px,#f6f0ee 441px,#f6f1ef 447px,#f6f1ef 453px,#f6f1f0 459px,#f6f2f0 465px,#f6f2f1 471px,#f5f3f1 477px,#f5f3f2 483px,#f5f4f3 489px,#f5f5f4 495px,#f4f5f4 501px,#f2f4f4 507px,#f0f4f5 513px,#eef3f5 519px,#ebf3f5 525px,#e9f2f5 531px,#e6f1f6 537px,#e3f1f6 543px,#e1f0f6 549px,#def0f6 555px,#dceff6 561px,#d9eff5 567px)"></div><div style="height:6px;background:linear-gradient(90deg,#dff0f6 3px,#dceff6 9px,#d9eff5 15px,#d6eef5 21px,#d4eef5 27px,#d1edf5 33px,#cfedf5 39px,#ccecf4 45px,#c9ebf4 51px,#c7eaf4 57px,#c4e9f4 63px,#c2e9f3 69px,#c0e8f3 75px,#bee8f3 81px,#bce7f3 87px,#bbe7f2 93px,#bae6f2 99px,#b9e6f2 105px,#b8e6f2 111px,#b7e6f2 117px,#b7e6f2 123px,#b8e6f2 129px,#b9e6f2 135px,#bae6f2 141px,#bbe7f2 147px,#bde7f3 153px,#bfe8f3 159px,#c1e8f3 165px,#c3e9f3 171px,#c5eaf4 177px,#c8ebf4 183px,#caebf4 189px,#cdecf5 195px,#cfedf5 201px,#d1edf5 207px,#d2edf5 213px,#d4eef5 219px,#d5eef5 225px,#d6eef5 231px,#d8eff5 237px,#d9eff5 243px,#daeff6 249px,#dceff6 255px,#ddf0f6 261px,#dff0f6 267px,#e0f0f6 273px,#e1f0f6 279px,#e3f1f6 285px,#e4f1f6 291px,#e6f1f6 297px,#e8f2f6 303px,#e9f2f5 309px,#ebf3f5 315px,#ecf3f5 321px,#edf3f5 327px,#eff3f5 333px,#f0f4f5 339px,#f1f4f4 345px,#f3f4f4 351px,#f4f5f4 357px,#f5f5f4 363px,#f5f4f3 369px,#f5f3f1 375px,#f6f2f0 381px,#f6f1ef 387px,#f6f0ef 393px,#f6f0ee 399px,#f6efed 405px,#f6efed 411px,#f6efed 417px,#f6efed 423px,#f6efed 429px,#f6efed 435px,#f6f0ee 441px,#f6f0ee 447px,#f6f0ef 453px,#f6f1ef 459px,#f6f1f0 465px,#f6f2f0 471px,#f5f2f1 477px,#f5f3f1 483px,#f5f4f2 489px,#f5f4f3 495px,#f5f5f4 501px,#f3f4f4 507px,#f1f4f5 513px,#eef3f5 519px,#ecf3f5 525px,#e9f2f5 531px,#e6f2f6 537px,#e4f1f6 543px,#e1f0f6 549px,#dff0f6 555px,#dceff6 561px,#d9eff5 567px)"></div><div style="height:6px;background:linear-gradient(90deg,#def0f6 3px,#dbeff6 9px,#d8eff5 15px,#d6eef5 21px,#d3eef5 27px,#d0edf5 33px,#cdecf5 39px,#caebf4 45px,#c8ebf4 51px,#c5eaf4 57px,#c3e9f3 63px,#c0e8f3 69px,#bee8f3 75px,#bce7f2 81px,#bae6f2 87px,#b9e6f2 93px,#b7e6f2 99px,#b6e5f2 105px,#b5e5f2 111px,#b5e5f2 117px,#b5e5f2 123px,#b6e5f2 129px,#b6e5f2 135px,#b7e6f2 141px,#b9e6f2 147px,#bbe7f2 153px,#bde7f3 159px,#bfe8f3 165px,#c2e9f3 171px,#c4eaf4 177px,#c7eaf4 183px,#caebf4 189px,#ccecf4 195px,#ceecf5 201px,#d0edf5 207px,#d2edf5 213px,#d3eef5 219px,#d5eef5 225px,#d6eef5 231px,#d7eef5 237px,#d9eff5 243px,#daeff6 249px,#dceff6 255px,#ddf0f6 261px,#def0f6 267px,#e0f0f6 273px,#e1f0f6 279px,#e3f1f6 285px,#e4f1f6 291px,#e6f2f6 297px,#e8f2f6 303px,#eaf2f5 309px,#ebf3f5 315px,#edf3f5 321px,#eef3f5 327px,#f0f4f5 333px,#f1f4f4 339px,#f3f4f4 345px,#f4f5f4 351px,#f5f5f3 357px,#f5f4f2 363px,#f5f3f1 369px,#f6f2f0 375px,#f6f1ef 381px,#f6f0ee 387px,#f6efed 393px,#f6efec 399px,#f6eeec 405px,#f6eeeb 411px,#f6eeeb 417px,#f6eeeb 423px,#f6eeec 429px,#f6eeec 435px,#f6efed 441px,#f6efed 447px,#f6f0ee 453px,#f6f0ee 459px,#f6f1ef 465px,#f6f1ef 471px,#f6f2f0 477px,#f5f2f1 483px,#f5f3f2 489px,#f5f4f3 495px,#f5f5f4 501px,#f4f5f4 507px,#f1f4f4 513px,#eff4f5 519px,#ecf3f5 525px,#eaf2f5 531px,#e7f2f6 537px,#e4f1f6 543px,#e1f0f6 549px,#dff0f6 555px,#dceff6 561px,#d9eff5 567px)"></div><div style="height:6px;background:linear-gradient(90deg,#ddf0f6 3px,#daeff6 9px,#d7eef5 15px,#d5eef5 21px,#d2edf5 27px,#cfedf5 33px,#ccecf5 39px,#c9ebf4 45px,#c6eaf4 51px,#c4e9f3 57px,#c1e8f3 63px,#bee8f3 69px,#bce7f3 75px,#bae6f2 81px,#b8e6f2 87px,#b7e5f2 93px,#b5e5f2 99px,#b4e5f1 105px,#b3e4f1 111px,#b3e4f1 117px,#b3e4f1 123px,#b3e4f1 129px,#b4e5f2 135px,#b5e5f2 141px,#b7e6f2 147px,#b9e6f2 153px,#bbe7f2 159px,#bee8f3 165px,#c1e8f3 171px,#c3e9f3 177px,#c6eaf4 183px,#c9ebf4 189px,#cbecf4 195px,#ceecf5 201px,#d0edf5 207px,#d2edf5 213px,#d3eef5 219px,#d5eef5 225px,#d6eef5 231px,#d7eef5 237px,#d9eff5 243px,#daeff5 249px,#dbeff6 255px,#ddf0f6 261px,#def0f6 267px,#e0f0f6 273px,#e1f0f6 279px,#e3f1f6 285px,#e5f1f6 291px,#e7f2f6 297px,#e9f2f5 303px,#eaf3f5 309px,#ecf3f5 315px,#eef3f5 321px,#f0f4f5 327px,#f1f4f4 333px,#f3f4f4 339px,#f4f5f4 345px,#f5f4f3 351px,#f5f4f2 357px,#f5f3f1 363px,#f6f2f0 369px,#f6f1ef 375px,#f6f0ee 381px,#f6efed 387px,#f6eeec 393px,#f6edeb 399px,#f6edea 405px,#f7ecea 411px,#f7ecea 417px,#f7ecea 423px,#f6edea 429px,#f6edeb 435px,#f6eeec 441px,#f6efec 447px,#f6efed 453px,#f6f0ee 459px,#f6f0ee 465px,#f6f0ef 471px,#f6f1ef 477px,#f6f2f0 483px,#f5f2f1 489px,#f5f3f2 495px,#f5f4f3 501px,#f5f5f4 507px,#f2f4f4 513px,#f0f4f5 519px,#edf3f5 525px,#eaf3f5 531px,#e7f2f6 537px,#e4f1f6 543px,#e2f1f6 549px,#dff0f6 555px,#dceff6 561px,#daeff5 567px)"></div><div style="height:6px;background:linear-gradient(90deg,#ddf0f6 3px,#daeff5 9px,#d7eef5 15px,#d4eef5 21px,#d1edf5 27px,#ceecf5 33px,#cbebf4 39px,#c8ebf4 45px,#c5eaf4 51px,#c2e9f3 57px,#bfe8f3 63px,#bde7f3 69px,#bbe7f2 75px,#b8e6f2 81px,#b6e5f2 87px,#b5e5f2 93px,#b3e4f1 99px,#b2e4f1 105px,#b1e4f1 111px,#b1e4f1 117px,#b1e4f1 123px,#b1e4f1 129px,#b2e4f1 135px,#b3e4f1 141px,#b5e5f2 147px,#b7e6f2 153px,#bae6f2 159px,#bde7f3 165px,#c0e8f3 171px,#c3e9f3 177px,#c5eaf4 183px,#c8ebf4 189px,#cbebf4 195px,#cdecf5 201px,#d0edf5 207px,#d1edf5 213px,#d3eef5 219px,#d4eef5 225px,#d6eef5 231px,#d7eef5 237px,#d8eff5 243px,#daeff5 249px,#dbeff6 255px,#ddf0f6 261px,#def0f6 267px,#e0f0f6 273px,#e1f0f6 279px,#e3f1f6 285px,#e5f1f6 291px,#e7f2f6 297px,#e9f2f5 303px,#ebf3f5 309px,#edf3f5 315px,#eff4f5 321px,#f1f4f5 327px,#f2f4f4 333px,#f4f5f4 339px,#f5f4f3 345px,#f5f3f2 351px,#f5f2f1 357px,#f6f1f0 363px,#f6f0ef 369px,#f6efed 375px,#f6eeec 381px,#f6edeb 387px,#f7ecea 393px,#f7ece9 399px,#f7ebe8 405px,#f7ebe8 411px,#f7ebe8 417px,#f7ebe8 423px,#f7ebe9 429px,#f7ece9 435px,#f6edea 441px,#f6eeeb 447px,#f6eeec 453px,#f6efed 459px,#f6efed 465px,#f6f0ee 471px,#f6f0ee 477px,#f6f1ef 483px,#f6f2f0 489px,#f5f3f1 495px,#f5f4f2 501px,#f5f5f4 507px,#f3f5f4 513px,#f1f4f5 519px,#eef3f5 525px,#ebf3f5 531px,#e8f2f6 537px,#e5f1f6 543px,#e2f1f6 549px,#dff0f6 555px,#dceff6 561px,#daeff5 567px)"></div><div style="height:6px;background:linear-gradient(90deg,#dceff6 3px,#d9eff5 9px,#d6eef5 15px,#d3eef5 21px,#d0edf5 27px,#cdecf5 33px,#caebf4 39px,#c7eaf4 45px,#c4e9f3 51px,#c1e8f3 57px,#bee8f3 63px,#bce7f2 69px,#b9e6f2 75px,#b7e5f2 81px,#b5e5f2 87px,#b3e4f1 93px,#b1e4f1 99px,#b0e3f1 105px,#afe3f1 111px,#afe3f1 117px,#afe3f1 123px,#afe3f1 129px,#b0e3f1 135px,#b1e4f1 141px,#b3e4f1 147px,#b6e5f2 153px,#b8e6f2 159px,#bbe7f2 165px,#bfe8f3 171px,#c2e9f3 177px,#c5eaf4 183px,#c8ebf4 189px,#caebf4 195px,#cdecf5 201px,#cfedf5 207px,#d1edf5 213px,#d3eef5 219px,#d4eef5 225px,#d5eef5 231px,#d7eef5 237px,#d8eff5 243px,#daeff5 249px,#dbeff6 255px,#ddf0f6 261px,#def0f6 267px,#e0f0f6 273px,#e1f0f6 279px,#e3f1f6 285px,#e4f1f6 291px,#e7f2f6 297px,#e9f2f5 303px,#ebf3f5 309px,#eef3f5 315px,#f0f4f5 321px,#f2f4f4 327px,#f4f5f4 333px,#f5f5f3 339px,#f5f3f2 345px,#f5f2f1 351px,#f6f1f0 357px,#f6f0ee 363px,#f6efed 369px,#f6eeec 375px,#f6edea 381px,#f7ece9 387px,#f7ebe8 393px,#f7eae7 399px,#f7eae6 405px,#f7e9e6 411px,#f7e9e6 417px,#f7e9e6 423px,#f7eae7 429px,#f7ebe8 435px,#f7ebe9 441px,#f7ecea 447px,#f6edea 453px,#f6eeeb 459px,#f6eeec 465px,#f6efed 471px,#f6efed 477px,#f6f0ee 483px,#f6f1ef 489px,#f6f2f0 495px,#f5f3f2 501px,#f5f4f3 507px,#f4f5f4 513px,#f2f4f4 519px,#eff4f5 525px,#ecf3f5 531px,#e9f2f5 537px,#e5f1f6 543px,#e2f1f6 549px,#dff0f6 555px,#ddf0f6 561px,#daeff5 567px)"></div><div style="height:6px;background:linear-gradient(90deg,#dbeff6 3px,#d8eff5 9px,#d5eef5 15px,#d3eef5 21px,#d0edf5 27px,#ccecf5 33px,#c9ebf4 39px,#c6eaf4 45px,#c3e9f3 51px,#c0e8f3 57px,#bde7f3 63px,#bae6f2 69px,#b8e6f2 75px,#b5e5f2 81px,#b3e4f1 87px,#b2e4f1 93px,#b0e3f1 99px,#afe3f1 105px,#aee3f1 111px,#ade3f1 117px,#ade2f1 123px,#ade3f1 129px,#aee3f1 135px,#b0e3f1 141px,#b2e4f1 147px,#b4e5f2 153px,#b7e6f2 159px,#bae6f2 165px,#bde7f3 171px,#c1e8f3 177px,#c4e9f4 183px,#c7eaf4 189px,#caebf4 195px,#ccecf5 201px,#cfedf5 207px,#d1edf5 213px,#d2edf5 219px,#d4eef5 225px,#d5eef5 231px,#d7eef5 237px,#d8eff5 243px,#daeff5 249px,#dbeff6 255px,#ddf0f6 261px,#def0f6 267px,#e0f0f6 273px,#e1f0f6 279px,#e2f1f6 285px,#e4f1f6 291px,#e6f2f6 297px,#e9f2f5 303px,#ebf3f5 309px,#eef3f5 315px,#f1f4f5 321px,#f3f5f4 327px,#f5f5f4 333px,#f5f4f2 339px,#f5f2f1 345px,#f6f1f0 351px,#f6f0ee 357px,#f6efed 363px,#f6eeeb 369px,#f7edea 375px,#f7ebe9 381px,#f7eae7 387px,#f7e9e6 393px,#f7e8e5 399px,#f7e8e4 405px,#f7e7e4 411px,#f7e7e4 417px,#f7e8e4 423px,#f7e8e5 429px,#f7e9e6 435px,#f7eae7 441px,#f7ebe8 447px,#f7ebe9 453px,#f7ecea 459px,#f6edea 465px,#f6eeeb 471px,#f6eeec 477px,#f6efed 483px,#f6f0ee 489px,#f6f1ef 495px,#f6f2f1 501px,#f5f3f2 507px,#f5f5f4 513px,#f3f4f4 519px,#f0f4f5 525px,#ecf3f5 531px,#e9f2f5 537px,#e6f1f6 543px,#e2f1f6 549px,#e0f0f6 555px,#ddf0f6 561px,#daeff5 567px)"></div><div style="height:6px;background:linear-gradient(90deg,#dbeff6 3px,#d8eff5 9px,#d5eef5 15px,#d2edf5 21px,#cfedf5 27px,#cbecf4 33px,#c8ebf4 39px,#c5eaf4 45px,#c2e9f3 51px,#bfe8f3 57px,#bce7f2 63px,#b9e6f2 69px,#b7e5f2 75px,#b4e5f2 81px,#b2e4f1 87px,#b0e3f1 93px,#afe3f1 99px,#ade3f1 105px,#ace2f1 111px,#ace2f0 117px,#abe2f0 123px,#ace2f0 129px,#ace2f1 135px,#aee3f1 141px,#b0e3f1 147px,#b3e4f1 153px,#b6e5f2 159px,#b9e6f2 165px,#bce7f3 171px,#c0e8f3 177px,#c3e9f3 183px,#c6eaf4 189px,#c9ebf4 195px,#ccecf4 201px,#ceecf5 207px,#d0edf5 213px,#d2edf5 219px,#d3eef5 225px,#d5eef5 231px,#d6eef5 237px,#d8eff5 243px,#daeff5 249px,#dbeff6 255px,#ddf0f6 261px,#def0f6 267px,#dff0f6 273px,#e1f0f6 279px,#e2f1f6 285px,#e4f1f6 291px,#e6f1f6 297px,#e9f2f5 303px,#ecf3f5 309px,#eff4f5 315px,#f2f4f4 321px,#f5f5f4 327px,#f5f4f3 333px,#f5f2f1 339px,#f6f1ef 345px,#f6f0ee 351px,#f6efed 357px,#f6eeeb 363px,#f7ecea 369px,#f7ebe8 375px,#f7eae7 381px,#f7e9e5 387px,#f7e8e4 393px,#f8e7e3 399px,#f8e6e2 405px,#f8e6e2 411px,#f8e6e2 417px,#f8e6e2 423px,#f8e6e3 429px,#f7e7e4 435px,#f7e8e5 441px,#f7e9e6 447px,#f7eae7 453px,#f7ebe8 459px,#f7ece9 465px,#f7ecea 471px,#f6edeb 477px,#f6eeec 483px,#f6efed 489px,#f6f0ee 495px,#f6f1f0 501px,#f5f3f1 507px,#f5f4f3 513px,#f4f5f4 519px,#f1f4f5 525px,#edf3f5 531px,#eaf2f5 537px,#e6f1f6 543px,#e3f1f6 549px,#e0f0f6 555px,#ddf0f6 561px,#daeff5 567px)"></div><div style="height:6px;background:linear-gradient(90deg,#dbeff6 3px,#d7eef5 9px,#d4eef5 15px,#d1edf5 21px,#ceecf5 27px,#cbebf4 33px,#c7eaf4 39px,#c4e9f4 45px,#c1e8f3 51px,#bee8f3 57px,#bbe7f2 63px,#b8e6f2 69px,#b6e5f2 75px,#b3e4f1 81px,#b1e4f1 87px,#afe3f1 93px,#aee3f1 99px,#ace2f1 105px,#abe2f0 111px,#abe2f0 117px,#aae2f0 123px,#aae2f0 129px,#abe2f0 135px,#ade2f1 141px,#afe3f1 147px,#b2e4f1 153px,#b5e5f2 159px,#b8e6f2 165px,#bbe7f2 171px,#bfe8f3 177px,#c2e9f3 183px,#c6eaf4 189px,#c8ebf4 195px,#cbebf4 201px,#cdecf5 207px,#cfedf5 213px,#d1edf5 219px,#d2edf5 225px,#d4eef5 231px,#d6eef5 237px,#d8eff5 243px,#daeff5 249px,#dbeff6 255px,#dceff6 261px,#def0f6 267px,#dff0f6 273px,#e0f0f6 279px,#e2f1f6 285px,#e3f1f6 291px,#e6f1f6 297px,#e9f2f5 303px,#ecf3f5 309px,#eff4f5 315px,#f3f4f4 321px,#f5f4f3 327px,#f5f3f1 333px,#f6f1ef 339px,#f6f0ee 345px,#f6eeec 351px,#f6edeb 357px,#f7ece9 363px,#f7ebe8 369px,#f7e9e6 375px,#f7e8e5 381px,#f7e7e4 387px,#f8e6e2 393px,#f8e5e1 399px,#f8e4e0 405px,#f8e4e0 411px,#f8e4e0 417px,#f8e4e0 423px,#f8e5e1 429px,#f8e6e2 435px,#f8e7e3 441px,#f7e7e4 447px,#f7e8e5 453px,#f7e9e6 459px,#f7eae7 465px,#f7ebe8 471px,#f7ece9 477px,#f6edeb 483px,#f6eeec 489px,#f6efed 495px,#f6f1ef 501px,#f6f2f0 507px,#f5f4f2 513px,#f5f5f4 519px,#f1f4f4 525px,#eef3f5 531px,#eaf2f5 537px,#e7f2f6 543px,#e3f1f6 549px,#e0f0f6 555px,#ddf0f6 561px,#daeff5 567px)"></div><div style="height:6px;background:linear-gradient(90deg,#daeff6 3px,#d7eef5 9px,#d4eef5 15px,#d1edf5 21px,#ceecf5 27px,#caebf4 33px,#c7eaf4 39px,#c3e9f3 45px,#c0e8f3 51px,#bde7f3 57px,#bae6f2 63px,#b7e6f2 69px,#b5e5f2 75px,#b2e4f1 81px,#b0e4f1 87px,#afe3f1 93px,#ade2f1 99px,#ace2f0 105px,#abe2f0 111px,#aae2f0 117px,#aae1f0 123px,#aae2f0 129px,#aae2f0 135px,#ace2f0 141px,#aee3f1 147px,#b1e4f1 153px,#b4e5f1 159px,#b7e6f2 165px,#bae7f2 171px,#bee8f3 177px,#c1e9f3 183px,#c4e9f4 189px,#c7eaf4 195px,#c9ebf4 201px,#cbecf4 207px,#cdecf5 213px,#cfedf5 219px,#d1edf5 225px,#d3eef5 231px,#d5eef5 237px,#d7eef5 243px,#d9eff5 249px,#dbeff6 255px,#dceff6 261px,#ddf0f6 267px,#def0f6 273px,#e0f0f6 279px,#e1f0f6 285px,#e3f1f6 291px,#e5f1f6 297px,#e9f2f5 303px,#ecf3f5 309px,#f0f4f5 315px,#f4f5f4 321px,#f5f3f2 327px,#f6f1f0 333px,#f6f0ee 339px,#f6eeec 345px,#f6edea 351px,#f7ebe9 357px,#f7eae7 363px,#f7e9e6 369px,#f7e8e4 375px,#f8e6e3 381px,#f8e5e2 387px,#f8e4e0 393px,#f8e4df 399px,#f8e3df 405px,#f8e2de 411px,#f8e2de 417px,#f8e3de 423px,#f8e3df 429px,#f8e4e0 435px,#f8e5e1 441px,#f8e6e2 447px,#f7e7e3 453px,#f7e8e5 459px,#f7e9e6 465px,#f7eae7 471px,#f7ebe8 477px,#f7ece9 483px,#f6edeb 489px,#f6eeec 495px,#f6f0ee 501px,#f6f1f0 507px,#f5f3f2 513px,#f5f5f4 519px,#f2f4f4 525px,#eff3f5 531px,#ebf3f5 537px,#e7f2f6 543px,#e3f1f6 549px,#e0f0f6 555px,#ddf0f6 561px,#daeff5 567px)"></div><div style="height:6px;background:linear-gradient(90deg,#daeff5 3px,#d7eef5 9px,#d4eef5 15px,#d0edf5 21px,#cdecf5 27px,#c9ebf4 33px,#c6eaf4 39px,#c3e9f3 45px,#bfe8f3 51px,#bce7f3 57px,#b9e6f2 63px,#b7e5f2 69px,#b4e5f2 75px,#b2e4f1 81px,#b0e3f1 87px,#aee3f1 93px,#ace2f1 99px,#abe2f0 105px,#aae2f0 111px,#aae1f0 117px,#a9e1f0 123px,#a9e1f0 129px,#aae2f0 135px,#ace2f0 141px,#aee3f1 147px,#b0e3f1 153px,#b3e4f1 159px,#b6e5f2 165px,#b9e6f2 171px,#bde7f3 177px,#c0e8f3 183px,#c3e9f3 189px,#c5eaf4 195px,#c7eaf4 201px,#c9ebf4 207px,#ccecf4 213px,#ceecf5 219px,#d0edf5 225px,#d2edf5 231px,#d4eef5 237px,#d6eef5 243px,#d8eff5 249px,#daeff6 255px,#dbeff6 261px,#dceff6 267px,#ddf0f6 273px,#dff0f6 279px,#e0f0f6 285px,#e2f1f6 291px,#e5f1f6 297px,#e9f2f5 303px,#edf3f5 309px,#f2f4f4 315px,#f5f4f3 321px,#f6f2f1 327px,#f6f0ee 333px,#f6eeec 339px,#f7ecea 345px,#f7ebe8 351px,#f7e9e6 357px,#f7e8e5 363px,#f7e7e3 369px,#f8e6e2 375px,#f8e5e1 381px,#f8e4e0 387px,#f8e3df 393px,#f8e2de 399px,#f8e2dd 405px,#f9e1dd 411px,#f9e1dd 417px,#f8e1dd 423px,#f8e2de 429px,#f8e3df 435px,#f8e4e0 441px,#f8e5e1 447px,#f8e6e2 453px,#f8e7e3 459px,#f7e8e4 465px,#f7e9e5 471px,#f7eae7 477px,#f7ebe8 483px,#f7ecea 489px,#f6eeeb 495px,#f6efed 501px,#f6f1ef 507px,#f5f2f1 513px,#f5f4f3 519px,#f3f5f4 525px,#eff4f5 531px,#ebf3f5 537px,#e7f2f6 543px,#e3f1f6 549px,#e0f0f6 555px,#ddf0f6 561px,#d9eff5 567px)"></div><div style="height:6px;background:linear-gradient(90deg,#daeff5 3px,#d6eef5 9px,#d3eef5 15px,#d0edf5 21px,#ccecf5 27px,#c9ebf4 33px,#c5eaf4 39px,#c2e9f3 45px,#bfe8f3 51px,#bbe7f2 57px,#b9e6f2 63px,#b6e5f2 69px,#b3e4f1 75px,#b1e4f1 81px,#afe3f1 87px,#aee3f1 93px,#ace2f1 99px,#abe2f0 105px,#aae2f0 111px,#aae1f0 117px,#a9e1f0 123px,#aae1f0 129px,#aae2f0 135px,#ace2f0 141px,#aee3f1 147px,#b0e3f1 153px,#b3e4f1 159px,#b6e5f2 165px,#b8e6f2 171px,#bbe7f2 177px,#bee8f3 183px,#c1e8f3 189px,#c3e9f3 195px,#c5eaf4 201px,#c7eaf4 207px,#c9ebf4 213px,#ccecf4 219px,#ceecf5 225px,#d0edf5 231px,#d3eef5 237px,#d5eef5 243px,#d7eef5 249px,#d9eff5 255px,#daeff6 261px,#dbeff6 267px,#dceff6 273px,#def0f6 279px,#e0f0f6 285px,#e2f1f6 291px,#e5f1f6 297px,#e9f2f5 303px,#eef3f5 309px,#f3f5f4 315px,#f5f3f2 321px,#f6f1ef 327px,#f6eeec 333px,#f7ece9 339px,#f7eae7 345px,#f7e9e5 351px,#f7e7e4 357px,#f8e6e2 363px,#f8e5e1 369px,#f8e4e0 375px,#f8e3df 381px,#f8e2de 387px,#f8e1dd 393px,#f9e1dc 399px,#f9e0dc 405px,#f9e0db 411px,#f9e0db 417px,#f9e0dc 423px,#f9e1dc 429px,#f8e2dd 435px,#f8e2de 441px,#f8e3df 447px,#f8e4e0 453px,#f8e5e1 459px,#f8e6e3 465px,#f7e7e4 471px,#f7e9e5 477px,#f7eae7 483px,#f7ebe8 489px,#f6edea 495px,#f6eeec 501px,#f6f0ee 507px,#f6f2f0 513px,#f5f4f2 519px,#f4f5f4 525px,#f0f4f5 531px,#ecf3f5 537px,#e8f2f6 543px,#e3f1f6 549px,#e0f0f6 555px,#ddf0f6 561px,#d9eff5 567px)"></div><div style="height:6px;background:linear-gradient(90deg,#d9eff5 3px,#d6eef5 9px,#d3eef5 15px,#d0edf5 21px,#ccecf4 27px,#c8ebf4 33px,#c5eaf4 39px,#c1e9f3 45px,#bee8f3 51px,#bbe7f2 57px,#b8e6f2 63px,#b5e5f2 69px,#b3e4f1 75px,#b1e4f1 81px,#afe3f1 87px,#ade3f1 93px,#ace2f0 99px,#abe2f0 105px,#aae2f0 111px,#aae2f0 117px,#aae1f0 123px,#aae2f0 129px,#abe2f0 135px,#ace2f1 141px,#aee3f1 147px,#b0e3f1 153px,#b2e4f1 159px,#b5e5f2 165px,#b8e6f2 171px,#bae6f2 177px,#bde7f3 183px,#bfe8f3 189px,#c1e9f3 195px,#c3e9f3 201px,#c5eaf4 207px,#c7eaf4 213px,#c9ebf4 219px,#ccecf4 225px,#ceecf5 231px,#d1edf5 237px,#d3eef5 243px,#d5eef5 249px,#d7eef5 255px,#d8eff5 261px,#daeff5 267px,#dbeff6 273px,#ddf0f6 279px,#dff0f6 285px,#e2f1f6 291px,#e5f1f6 297px,#eaf2f5 303px,#eff4f5 309px,#f5f5f4 315px,#f6f2f0 321px,#f6efed 327px,#f7ecea 333px,#f7eae7 339px,#f7e8e5 345px,#f8e6e3 351px,#f8e5e1 357px,#f8e4e0 363px,#f8e3df 369px,#f8e2de 375px,#f9e1dd 381px,#f9e1dc 387px,#f9e0db 393px,#f9dfdb 399px,#f9dfda 405px,#f9dfda 411px,#f9dfda 417px,#f9dfda 423px,#f9e0db 429px,#f9e0dc 435px,#f9e1dd 441px,#f8e2de 447px,#f8e3df 453px,#f8e4e0 459px,#f8e5e1 465px,#f8e6e3 471px,#f7e7e4 477px,#f7e9e5 483px,#f7eae7 489px,#f7ece9 495px,#f6edeb 501px,#f6efed 507px,#f6f1ef 513px,#f5f3f2 519px,#f5f5f4 525px,#f0f4f5 531px,#ecf3f5 537px,#e8f2f6 543px,#e4f1f6 549px,#e0f0f6 555px,#ddf0f6 561px,#d9eff5 567px)"></div><div style="height:6px;background:linear-gradient(90deg,#d9eff5 3px,#d6eef5 9px,#d3eef5 15px,#cfedf5 21px,#cbecf4 27px,#c8eaf4 33px,#c4e9f3 39px,#c0e8f3 45px,#bde7f3 51px,#bae6f2 57px,#b7e6f2 63px,#b5e5f2 69px,#b2e4f1 75px,#b0e4f1 81px,#afe3f1 87px,#ade3f1 93px,#ace2f0 99px,#abe2f0 105px,#aae2f0 111px,#aae2f0 117px,#aae2f0 123px,#aae2f0 129px,#abe2f0 135px,#ace2f1 141px,#aee3f1 147px,#b0e3f1 153px,#b2e4f1 159px,#b5e5f2 165px,#b7e5f2 171px,#b9e6f2 177px,#bce7f2 183px,#bee7f3 189px,#c0e8f3 195px,#c1e9f3 201px,#c3e9f3 207px,#c5eaf4 213px,#c7eaf4 219px,#c9ebf4 225px,#ccecf5 231px,#cfedf5 237px,#d1edf5 243px,#d3eef5 249px,#d5eef5 255px,#d6eef5 261px,#d8eff5 267px,#d9eff5 273px,#dbeff6 279px,#def0f6 285px,#e1f0f6 291px,#e6f1f6 297px,#ebf3f5 303px,#f1f4f4 309px,#f5f4f2 315px,#f6f0ef 321px,#f6edeb 327px,#f7eae7 333px,#f7e8e4 339px,#f8e6e2 345px,#f8e4e0 351px,#f8e3df 357px,#f8e2dd 363px,#f9e1dc 369px,#f9e0dc 375px,#f9e0db 381px,#f9dfda 387px,#f9dfda 393px,#f9ded9 399px,#f9ded9 405px,#f9ded9 411px,#f9ded9 417px,#f9ded9 423px,#f9dfda 429px,#f9dfdb 435px,#f9e0db 441px,#f9e1dc 447px,#f8e2dd 453px,#f8e3df 459px,#f8e4e0 465px,#f8e5e1 471px,#f8e6e3 477px,#f7e8e4 483px,#f7e9e6 489px,#f7ebe8 495px,#f7edea 501px,#f6eeec 507px,#f6f0ef 513px,#f5f3f1 519px,#f5f5f4 525px,#f1f4f4 531px,#ecf3f5 537px,#e8f2f6 543px,#e4f1f6 549px,#e0f0f6 555px,#dceff6 561px,#d9eff5 567px)"></div><div style="height:6px;background:linear-gradient(90deg,#d9eff5 3px,#d6eef5 9px,#d2edf5 15px,#cfedf5 21px,#cbebf4 27px,#c7eaf4 33px,#c3e9f3 39px,#c0e8f3 45px,#bde7f3 51px,#b9e6f2 57px,#b7e5f2 63px,#b4e5f2 69px,#b2e4f1 75px,#b0e3f1 81px,#aee3f1 87px,#ade3f1 93px,#ace2f1 99px,#abe2f0 105px,#abe2f0 111px,#aae2f0 117px,#aae2f0 123px,#abe2f0 129px,#ace2f0 135px,#ade2f1 141px,#aee3f1 147px,#b0e3f1 153px,#b2e4f1 159px,#b4e5f2 165px,#b6e5f2 171px,#b9e6f2 177px,#bbe7f2 183px,#bce7f3 189px,#bee8f3 195px,#c0e8f3 201px,#c1e9f3 207px,#c3e9f3 213px,#c5eaf4 219px,#c7eaf4 225px,#caebf4 231px,#cdecf5 237px,#cfedf5 243px,#d1edf5 249px,#d3eef5 255px,#d4eef5 261px,#d6eef5 267px,#d8eff5 273px,#daeff6 279px,#ddf0f6 285px,#e1f0f6 291px,#e6f2f6 297px,#edf3f5 303px,#f3f5f4 309px,#f5f2f1 315px,#f6efed 321px,#f7ebe9 327px,#f7e8e5 333px,#f8e6e2 339px,#f8e4df 345px,#f8e2de 351px,#f9e1dc 357px,#f9e0db 363px,#f9dfda 369px,#f9ded9 375px,#f9ded9 381px,#f9ded8 387px,#f9ddd8 393px,#f9ddd8 399px,#f9ddd8 405px,#f9ddd8 411px,#f9ddd8 417px,#f9ddd8 423px,#f9ded9 429px,#f9ded9 435px,#f9dfda 441px,#f9e0db 447px,#f9e1dc 453px,#f8e2dd 459px,#f8e3df 465px,#f8e4e0 471px,#f8e5e1 477px,#f8e7e3 483px,#f7e8e5 489px,#f7eae7 495px,#f7ece9 501px,#f6eeeb 507px,#f6f0ee 513px,#f6f2f1 519px,#f5f5f3 525px,#f1f4f4 531px,#edf3f5 537px,#e8f2f6 543px,#e4f1f6 549px,#e0f0f6 555px,#dceff6 561px,#d9eff5 567px)"></div><div style="height:6px;background:linear-gradient(90deg,#d9eff5 3px,#d5eef5 9px,#d2edf5 15px,#ceecf5 21px,#caebf4 27px,#c7eaf4 33px,#c3e9f3 39px,#bfe8f3 45px,#bce7f2 51px,#b9e6f2 57px,#b6e5f2 63px,#b4e5f1 69px,#b2e4f1 75px,#b0e3f1 81px,#aee3f1 87px,#ade3f1 93px,#ace2f1 99px,#ace2f0 105px,#abe2f0 111px,#abe2f0 117px,#abe2f0 123px,#abe2f0 129px,#ace2f0 135px,#ade2f1 141px,#aee3f1 147px,#b0e3f1 153px,#b2e4f1 159px,#b4e5f1 165px,#b6e5f2 171px,#b8e6f2 177px,#bae6f2 183px,#bbe7f2 189px,#bde7f3 195px,#bee8f3 201px,#c0e8f3 207px,#c1e9f3 213px,#c3e9f3 219px,#c6eaf4 225px,#c8ebf4 231px,#cbebf4 237px,#cdecf5 243px,#cfedf5 249px,#d1edf5 255px,#d2edf5 261px,#d4eef5 267px,#d6eef5 273px,#d9eff5 279px,#ddf0f6 285px,#e1f0f6 291px,#e7f2f6 297px,#eef3f5 303px,#f5f5f4 309px,#f6f1ef 315px,#f6edeb 321px,#f7eae7 327px,#f8e7e3 333px,#f8e4e0 339px,#f8e2dd 345px,#f9e0db 351px,#f9dfda 357px,#f9ded9 363px,#f9ddd8 369px,#f9ddd8 375px,#f9dcd7 381px,#f9dcd7 387px,#f9dcd7 393px,#f9dcd6 399px,#f9dcd6 405px,#f9dcd7 411px,#f9dcd7 417px,#f9dcd7 423px,#f9ddd8 429px,#f9ded8 435px,#f9ded9 441px,#f9dfda 447px,#f9e0db 453px,#f9e1dc 459px,#f8e2dd 465px,#f8e3df 471px,#f8e4e0 477px,#f8e5e2 483px,#f7e7e4 489px,#f7e9e6 495px,#f7ebe8 501px,#f6edeb 507px,#f6efed 513px,#f6f2f0 519px,#f5f4f3 525px,#f2f4f4 531px,#edf3f5 537px,#e8f2f6 543px,#e3f1f6 549px,#e0f0f6 555px,#dceff6 561px,#d8eff5 567px)"></div><div style="height:6px;background:linear-gradient(90deg,#d9eff5 3px,#d5eef5 9px,#d2edf5 15px,#ceecf5 21px,#caebf4 27px,#c6eaf4 33px,#c2e9f3 39px,#bfe8f3 45px,#bbe7f2 51px,#b8e6f2 57px,#b6e5f2 63px,#b3e4f1 69px,#b1e4f1 75px,#b0e3f1 81px,#aee3f1 87px,#ade3f1 93px,#ace2f1 99px,#ace2f0 105px,#abe2f0 111px,#abe2f0 117px,#abe2f0 123px,#abe2f0 129px,#ace2f1 135px,#ade3f1 141px,#aee3f1 147px,#b0e3f1 153px,#b2e4f1 159px,#b4e4f1 165px,#b6e5f2 171px,#b7e6f2 177px,#b9e6f2 183px,#bbe7f2 189px,#bce7f3 195px,#bee8f3 201px,#bfe8f3 207px,#c1e8f3 213px,#c3e9f3 219px,#c5eaf4 225px,#c7eaf4 231px,#caebf4 237px,#ccecf4 243px,#ceecf5 249px,#cfedf5 255px,#d1edf5 261px,#d3eef5 267px,#d5eef5 273px,#d8eff5 279px,#ddf0f6 285px,#e2f1f6 291px,#e8f2f6 297px,#f0f4f5 303px,#f5f4f3 309px,#f6f0ee 315px,#f7ece9 321px,#f7e8e5 327px,#f8e5e1 333px,#f8e2de 339px,#f9e0db 345px,#f9ded9 351px,#f9ddd8 357px,#f9dcd7 363px,#f9dcd6 369px,#fadbd6 375px,#fadbd5 381px,#fadbd5 387px,#fadbd5 393px,#fadbd5 399px,#fadbd5 405px,#fadbd5 411px,#fadbd6 417px,#fadcd6 423px,#f9dcd7 429px,#f9ddd7 435px,#f9ddd8 441px,#f9ded9 447px,#f9dfda 453px,#f9e0db 459px,#f9e1dc 465px,#f8e2dd 471px,#f8e3df 477px,#f8e4e0 483px,#f8e6e2 489px,#f7e8e5 495px,#f7eae7 501px,#f7ecea 507px,#f6efed 513px,#f6f1f0 519px,#f5f4f3 525px,#f2f4f4 531px,#edf3f5 537px,#e8f2f6 543px,#e3f1f6 549px,#e0f0f6 555px,#dceff6 561px,#d8eff5 567px)"></div><div style="height:6px;background:linear-gradient(90deg,#d9eff5 3px,#d5eef5 9px,#d2edf5 15px,#ceecf5 21px,#caebf4 27px,#c6eaf4 33px,#c2e9f3 39px,#bee8f3 45px,#bbe7f2 51px,#b8e6f2 57px,#b5e5f2 63px,#b3e4f1 69px,#b1e4f1 75px,#afe3f1 81px,#aee3f1 87px,#ade3f1 93px,#ade2f1 99px,#ace2f1 105px,#ace2f0 111px,#abe2f0 117px,#abe2f0 123px,#ace2f0 129px,#ace2f1 135px,#ade2f1 141px,#aee3f1 147px,#b0e3f1 153px,#b1e4f1 159px,#b3e4f1 165px,#b5e5f2 171px,#b7e5f2 177px,#b9e6f2 183px,#bbe7f2 189px,#bce7f3 195px,#bee7f3 201px,#bfe8f3 207px,#c1e8f3 213px,#c2e9f3 219px,#c5eaf4 225px,#c7eaf4 231px,#c9ebf4 237px,#cbebf4 243px,#cdecf5 249px,#cfedf5 255px,#d0edf5 261px,#d2edf5 267px,#d5eef5 273px,#d8eff5 279px,#ddf0f6 285px,#e3f1f6 291px,#eaf2f5 297px,#f2f4f4 303px,#f5f2f1 309px,#f6eeec 315px,#f7eae8 321px,#f8e7e3 327px,#f8e4df 333px,#f9e1dc 339px,#f9dfda 345px,#f9ddd8 351px,#f9dcd6 357px,#fadbd5 363px,#fadad4 369px,#fadad4 375px,#fadad4 381px,#fad9d4 387px,#fadad4 393px,#fadad4 399px,#fadad4 405px,#fadad4 411px,#fadad4 417px,#fadbd5 423px,#fadbd5 429px,#fadcd6 435px,#f9dcd7 441px,#f9ddd8 447px,#f9ded9 453px,#f9dfda 459px,#f9e0db 465px,#f9e1dc 471px,#f8e2de 477px,#f8e3df 483px,#f8e5e1 489px,#f7e7e4 495px,#f7e9e6 501px,#f7ece9 507px,#f6eeec 513px,#f6f1ef 519px,#f5f4f2 525px,#f3f4f4 531px,#edf3f5 537px,#e8f2f6 543px,#e3f1f6 549px,#dff0f6 555px,#dceff6 561px,#d8eff5 567px)"></div><div style="height:6px;background:linear-gradient(90deg,#d9eff5 3px,#d5eef5 9px,#d1edf5 15px,#cdecf5 21px,#c9ebf4 27px,#c5eaf4 33px,#c1e9f3 39px,#bee8f3 45px,#bae6f2 51px,#b7e6f2 57px,#b5e5f2 63px,#b2e4f1 69px,#b0e4f1 75px,#afe3f1 81px,#aee3f1 87px,#ade3f1 93px,#ade2f1 99px,#ace2f1 105px,#ace2f0 111px,#ace2f0 117px,#abe2f0 123px,#abe2f0 129px,#ace2f0 135px,#ace2f1 141px,#aee3f1 147px,#afe3f1 153px,#b1e4f1 159px,#b3e4f1 165px,#b5e5f2 171px,#b7e5f2 177px,#b9e6f2 183px,#bae7f2 189px,#bce7f3 195px,#bee8f3 201px,#bfe8f3 207px,#c1e8f3 213px,#c3e9f3 219px,#c5eaf4 225px,#c7eaf4 231px,#c9ebf4 237px,#cbebf4 243px,#cdecf5 249px,#ceedf5 255px,#d0edf5 261px,#d2edf5 267px,#d5eef5 273px,#d9eff5 279px,#def0f6 285px,#e4f1f6 291px,#ecf3f5 297px,#f4f5f4 303px,#f6f1ef 309px,#f6edeb 315px,#f7e9e6 321px,#f8e5e2 327px,#f8e2de 333px,#f9e0db 339px,#f9ddd8 345px,#fadcd6 351px,#fadad5 357px,#fad9d3 363px,#fad9d3 369px,#fad8d2 375px,#fad8d2 381px,#fad8d2 387px,#fad8d2 393px,#fad8d2 399px,#fad8d2 405px,#fad9d3 411px,#fad9d3 417px,#fadad4 423px,#fadad4 429px,#fadbd5 435px,#fadbd6 441px,#f9dcd7 447px,#f9ddd8 453px,#f9ded9 459px,#f9dfda 465px,#f9e0db 471px,#f9e1dc 477px,#f8e2de 483px,#f8e4e0 489px,#f8e6e3 495px,#f7e9e5 501px,#f7ebe8 507px,#f6eeeb 513px,#f6f0ef 519px,#f5f3f2 525px,#f3f4f4 531px,#edf3f5 537px,#e8f2f6 543px,#e3f1f6 549px,#dff0f6 555px,#dbeff6 561px,#d7eef5 567px)"></div><div style="height:6px;background:linear-gradient(90deg,#d8eff5 3px,#d5eef5 9px,#d1edf5 15px,#cdecf5 21px,#c9ebf4 27px,#c5eaf4 33px,#c1e8f3 39px,#bde7f3 45px,#bae6f2 51px,#b7e5f2 57px,#b4e5f2 63px,#b2e4f1 69px,#b0e3f1 75px,#afe3f1 81px,#aee3f1 87px,#ade3f1 93px,#ade2f1 99px,#ace2f1 105px,#ace2f0 111px,#abe2f0 117px,#abe2f0 123px,#abe2f0 129px,#abe2f0 135px,#ace2f0 141px,#ade2f1 147px,#aee3f1 153px,#b0e3f1 159px,#b2e4f1 165px,#b4e5f1 171px,#b6e5f2 177px,#b8e6f2 183px,#bae7f2 189px,#bce7f3 195px,#bee8f3 201px,#c0e8f3 207px,#c1e9f3 213px,#c3e9f3 219px,#c5eaf4 225px,#c7eaf4 231px,#c9ebf4 237px,#cbebf4 243px,#cdecf5 249px,#cfedf5 255px,#d1edf5 261px,#d3eef5 267px,#d7eef5 273px,#dbeff6 279px,#e0f0f6 285px,#e6f1f6 291px,#eef3f5 297px,#f5f4f3 303px,#f6f0ee 309px,#f7ebe9 315px,#f7e8e4 321px,#f8e4e0 327px,#f9e1dc 333px,#f9ded9 339px,#f9dcd7 345px,#fadad5 351px,#fad9d3 357px,#fad8d2 363px,#fad7d1 369px,#fad7d1 375px,#fad7d0 381px,#fad7d0 387px,#fad7d0 393px,#fad7d1 399px,#fad7d1 405px,#fad7d1 411px,#fad8d2 417px,#fad8d2 423px,#fad9d3 429px,#fadad4 435px,#fadad5 441px,#fadbd6 447px,#f9dcd6 453px,#f9ddd7 459px,#f9ded8 465px,#f9dfda 471px,#f9e0db 477px,#f8e2dd 483px,#f8e3df 489px,#f8e6e2 495px,#f7e8e5 501px,#f7ebe8 507px,#f6edeb 513px,#f6f0ee 519px,#f5f3f2 525px,#f3f5f4 531px,#eef3f5 537px,#e8f2f6 543px,#e3f1f6 549px,#dff0f6 555px,#dbeff6 561px,#d7eef5 567px)"></div><div style="height:6px;background:linear-gradient(90deg,#d8eff5 3px,#d5eef5 9px,#d1edf5 15px,#ccecf5 21px,#c8ebf4 27px,#c4e9f4 33px,#c0e8f3 39px,#bde7f3 45px,#b9e6f2 51px,#b6e5f2 57px,#b4e5f1 63px,#b2e4f1 69px,#b0e3f1 75px,#afe3f1 81px,#aee3f1 87px,#ade3f1 93px,#ade2f1 99px,#ace2f1 105px,#ace2f0 111px,#abe2f0 117px,#abe2f0 123px,#aae2f0 129px,#aae2f0 135px,#abe2f0 141px,#abe2f0 147px,#ade2f1 153px,#aee3f1 159px,#b0e4f1 165px,#b3e4f1 171px,#b5e5f2 177px,#b8e6f2 183px,#bae7f2 189px,#bde7f3 195px,#bee8f3 201px,#c0e8f3 207px,#c2e9f3 213px,#c3e9f3 219px,#c5eaf4 225px,#c7eaf4 231px,#c9ebf4 237px,#cbecf4 243px,#ceecf5 249px,#d0edf5 255px,#d2edf5 261px,#d5eef5 267px,#d8eff5 273px,#dceff6 279px,#e2f1f6 285px,#e9f2f5 291px,#f1f4f4 297px,#f5f3f1 303px,#f6eeec 309px,#f7eae7 315px,#f8e6e3 321px,#f8e3df 327px,#f9e0db 333px,#f9ddd8 339px,#fadbd5 345px,#fad9d3 351px,#fad8d2 357px,#fad7d0 363px,#fad6d0 369px,#fbd6cf 375px,#fbd5cf 381px,#fbd5cf 387px,#fbd5cf 393px,#fbd6cf 399px,#fbd6cf 405px,#fad6d0 411px,#fad7d0 417px,#fad7d1 423px,#fad8d2 429px,#fad9d2 435px,#fad9d3 441px,#fadad4 447px,#fadbd5 453px,#fadcd6 459px,#f9ddd7 465px,#f9ded9 471px,#f9dfda 477px,#f9e1dc 483px,#f8e3de 489px,#f8e5e1 495px,#f7e7e4 501px,#f7eae7 507px,#f6edea 513px,#f6f0ee 519px,#f5f3f1 525px,#f4f5f4 531px,#eef3f5 537px,#e8f2f6 543px,#e3f1f6 549px,#dff0f6 555px,#dbeff6 561px,#d6eef5 567px)"></div><div style="height:6px;background:linear-gradient(90deg,#d8eff5 3px,#d4eef5 9px,#d0edf5 15px,#ccecf5 21px,#c8ebf4 27px,#c4e9f3 33px,#c0e8f3 39px,#bce7f2 45px,#b9e6f2 51px,#b6e5f2 57px,#b3e4f1 63px,#b1e4f1 69px,#afe3f1 75px,#aee3f1 81px,#ade3f1 87px,#ade2f1 93px,#ace2f1 99px,#ace2f0 105px,#abe2f0 111px,#abe2f0 117px,#aae2f0 123px,#a9e1f0 129px,#a9e1f0 135px,#a9e1f0 141px,#aae2f0 147px,#abe2f0 153px,#ade2f1 159px,#afe3f1 165px,#b2e4f1 171px,#b4e5f2 177px,#b7e6f2 183px,#bae6f2 189px,#bde7f3 195px,#bee8f3 201px,#c0e8f3 207px,#c2e9f3 213px,#c4e9f3 219px,#c6eaf4 225px,#c8eaf4 231px,#caebf4 237px,#ccecf4 243px,#ceecf5 249px,#d1edf5 255px,#d3eef5 261px,#d6eef5 267px,#daeff5 273px,#def0f6 279px,#e4f1f6 285px,#ebf3f5 291px,#f3f5f4 297px,#f6f1f0 303px,#f6edeb 309px,#f7e9e6 315px,#f8e5e1 321px,#f8e2dd 327px,#f9dfda 333px,#f9dcd7 339px,#fadad4 345px,#fad8d2 351px,#fad7d0 357px,#fbd6cf 363px,#fbd5ce 369px,#fbd4ce 375px,#fbd4cd 381px,#fbd4cd 387px,#fbd4cd 393px,#fbd4cd 399px,#fbd4ce 405px,#fbd5ce 411px,#fbd5cf 417px,#fbd6cf 423px,#fad6d0 429px,#fad7d1 435px,#fad8d2 441px,#fad9d3 447px,#fadad4 453px,#fadad5 459px,#fadbd6 465px,#f9ddd7 471px,#f9ded9 477px,#f9e0db 483px,#f8e2dd 489px,#f8e4e0 495px,#f8e7e3 501px,#f7eae6 507px,#f7ecea 513px,#f6efed 519px,#f5f3f1 525px,#f4f5f4 531px,#eef3f5 537px,#e8f2f6 543px,#e3f1f6 549px,#def0f6 555px,#daeff6 561px,#d6eef5 567px)"></div><div style="height:6px;background:linear-gradient(90deg,#d8eff5 3px,#d4eef5 9px,#d0edf5 15px,#ccecf4 21px,#c7eaf4 27px,#c3e9f3 33px,#bfe8f3 39px,#bbe7f2 45px,#b8e6f2 51px,#b5e5f2 57px,#b3e4f1 63px,#b0e4f1 69px,#afe3f1 75px,#aee3f1 81px,#ade2f1 87px,#ace2f0 93px,#abe2f0 99px,#abe2f0 105px,#aae2f0 111px,#a9e1f0 117px,#a8e1f0 123px,#a7e1f0 129px,#a7e1f0 135px,#a7e1f0 141px,#a8e1f0 147px,#a9e1f0 153px,#abe2f0 159px,#ade3f1 165px,#b0e3f1 171px,#b3e4f1 177px,#b6e5f2 183px,#b9e6f2 189px,#bce7f3 195px,#bee8f3 201px,#c0e8f3 207px,#c2e9f3 213px,#c3e9f3 219px,#c5eaf4 225px,#c8eaf4 231px,#caebf4 237px,#ccecf5 243px,#cfedf5 249px,#d1edf5 255px,#d4eef5 261px,#d7eef5 267px,#dbeff6 273px,#e0f0f6 279px,#e6f1f6 285px,#edf3f5 291px,#f5f5f4 297px,#f6f0ee 303px,#f7ece9 309px,#f7e8e4 315px,#f8e4e0 321px,#f9e1dc 327px,#f9ded8 333px,#fadbd5 339px,#fad9d3 345px,#fad7d1 351px,#fbd6cf 357px,#fbd4ce 363px,#fbd4cd 369px,#fbd3cc 375px,#fbd3cc 381px,#fbd3cc 387px,#fbd3cc 393px,#fbd3cc 399px,#fbd3cc 405px,#fbd3cc 411px,#fbd4cd 417px,#fbd4ce 423px,#fbd5ce 429px,#fbd6cf 435px,#fad7d0 441px,#fad7d1 447px,#fad8d2 453px,#fad9d3 459px,#fadad4 465px,#fadbd6 471px,#f9ddd8 477px,#f9dfda 483px,#f9e1dc 489px,#f8e3df 495px,#f8e6e2 501px,#f7e9e6 507px,#f7ece9 513px,#f6efed 519px,#f5f2f1 525px,#f4f5f4 531px,#eef3f5 537px,#e8f2f6 543px,#e3f1f6 549px,#def0f6 555px,#daeff5 561px,#d6eef5 567px)"></div><div style="height:6px;background:linear-gradient(90deg,#d8eff5 3px,#d4eef5 9px,#d0edf5 15px,#cbecf4 21px,#c6eaf4 27px,#c2e9f3 33px,#bee8f3 39px,#bae7f2 45px,#b7e6f2 51px,#b4e5f2 57px,#b2e4f1 63px,#b0e3f1 69px,#aee3f1 75px,#ade2f1 81px,#ace2f0 87px,#abe2f0 93px,#aae2f0 99px,#aae1f0 105px,#a9e1f0 111px,#a8e1f0 117px,#a6e1f0 123px,#a4e0f0 129px,#a3e0f0 135px,#a3e0f0 141px,#a4e0f0 147px,#a6e1f0 153px,#a9e1f0 159px,#abe2f0 165px,#aee3f1 171px,#b1e4f1 177px,#b5e5f2 183px,#b8e6f2 189px,#bbe7f2 195px,#bde7f3 201px,#bfe8f3 207px,#c1e8f3 213px,#c3e9f3 219px,#c5eaf4 225px,#c7eaf4 231px,#caebf4 237px,#ccecf5 243px,#cfedf5 249px,#d2edf5 255px,#d5eef5 261px,#d8eff5 267px,#dceff6 273px,#e1f0f6 279px,#e7f2f6 285px,#eff4f5 291px,#f5f4f3 297px,#f6efed 303px,#f7ebe8 309px,#f8e7e3 315px,#f8e3df 321px,#f9e0db 327px,#f9ddd7 333px,#fadad4 339px,#fad8d2 345px,#fbd6cf 351px,#fbd4ce 357px,#fbd3cc 363px,#fbd2cb 369px,#fbd2cb 375px,#fbd1ca 381px,#fbd1ca 387px,#fbd1ca 393px,#fbd1ca 399px,#fbd2ca 405px,#fbd2cb 411px,#fbd2cb 417px,#fbd3cc 423px,#fbd3cc 429px,#fbd4cd 435px,#fbd5ce 441px,#fbd6cf 447px,#fad7d0 453px,#fad8d1 459px,#fad9d3 465px,#fadad4 471px,#f9dcd6 477px,#f9ded9 483px,#f9e0db 489px,#f8e3de 495px,#f8e5e2 501px,#f7e8e5 507px,#f7ece9 513px,#f6efed 519px,#f6f2f1 525px,#f4f5f4 531px,#eef3f5 537px,#e8f2f6 543px,#e2f1f6 549px,#def0f6 555px,#d9eff5 561px,#d5eef5 567px)"></div><div style="height:6px;background:linear-gradient(90deg,#d8eff5 3px,#d4eef5 9px,#cfedf5 15px,#cbebf4 21px,#c6eaf4 27px,#c1e9f3 33px,#bde7f3 39px,#b9e6f2 45px,#b6e5f2 51px,#b3e4f1 57px,#b1e4f1 63px,#afe3f1 69px,#ade2f1 75px,#ace2f0 81px,#aae2f0 87px,#aae1f0 93px,#a9e1f0 99px,#a8e1f0 105px,#a6e1f0 111px,#a5e0f0 117px,#a3e0f0 123px,#a1e0ef 129px,#a0dfef 135px,#a0dfef 141px,#a0dfef 147px,#a2e0f0 153px,#a5e0f0 159px,#a9e1f0 165px,#ace2f0 171px,#afe3f1 177px,#b3e4f1 183px,#b6e5f2 189px,#b9e6f2 195px,#bbe7f2 201px,#bee7f3 207px,#c0e8f3 213px,#c2e9f3 219px,#c4eaf4 225px,#c7eaf4 231px,#c9ebf4 237px,#ccecf5 243px,#cfedf5 249px,#d2edf5 255px,#d5eef5 261px,#d8eff5 267px,#ddf0f6 273px,#e2f1f6 279px,#e8f2f5 285px,#f0f4f5 291px,#f5f3f2 297px,#f6efed 303px,#f7eae7 309px,#f8e6e2 315px,#f8e2de 321px,#f9dfda 327px,#f9dcd6 333px,#fad9d3 339px,#fad7d1 345px,#fbd5ce 351px,#fbd3cd 357px,#fbd2cb 363px,#fbd1ca 369px,#fbd1c9 375px,#fcd0c9 381px,#fcd0c8 387px,#fcd0c8 393px,#fcd0c8 399px,#fcd0c8 405px,#fcd0c9 411px,#fbd1c9 417px,#fbd1ca 423px,#fbd2ca 429px,#fbd2cb 435px,#fbd3cc 441px,#fbd4cd 447px,#fbd5ce 453px,#fbd6cf 459px,#fad7d1 465px,#fad9d3 471px,#fadbd5 477px,#f9ddd7 483px,#f9dfda 489px,#f8e2dd 495px,#f8e5e1 501px,#f7e8e5 507px,#f7ebe8 513px,#f6efec 519px,#f6f2f0 525px,#f4f5f4 531px,#eef3f5 537px,#e8f2f6 543px,#e2f1f6 549px,#ddf0f6 555px,#d9eff5 561px,#d4eef5 567px)"></div><div style="height:6px;background:linear-gradient(90deg,#d8eff5 3px,#d4eef5 9px,#cfedf5 15px,#caebf4 21px,#c5eaf4 27px,#c0e8f3 33px,#bce7f3 39px,#b8e6f2 45px,#b5e5f2 51px,#b2e4f1 57px,#afe3f1 63px,#ade3f1 69px,#ace2f0 75px,#aae2f0 81px,#a9e1f0 87px,#a8e1f0 93px,#a7e1f0 99px,#a5e0f0 105px,#a4e0f0 111px,#a2e0f0 117px,#a0dfef 123px,#9edfef 129px,#9ddfef 135px,#9cdfef 141px,#9cdfef 147px,#9edfef 153px,#a1e0ef 159px,#a6e1f0 165px,#aae2f0 171px,#ade3f1 177px,#b1e4f1 183px,#b4e5f1 189px,#b7e5f2 195px,#b9e6f2 201px,#bce7f2 207px,#bee8f3 213px,#c1e8f3 219px,#c3e9f3 225px,#c6eaf4 231px,#c9ebf4 237px,#ccecf4 243px,#cfedf5 249px,#d2edf5 255px,#d5eef5 261px,#d8eff5 267px,#ddf0f6 273px,#e2f1f6 279px,#e9f2f5 285px,#f1f4f5 291px,#f5f3f1 297px,#f6eeec 303px,#f7eae7 309px,#f8e5e2 315px,#f8e2dd 321px,#f9ded9 327px,#fadbd6 333px,#fad8d2 339px,#fad6d0 345px,#fbd4cd 351px,#fbd3cb 357px,#fbd1ca 363px,#fcd0c9 369px,#fccfc8 375px,#fccfc7 381px,#fccfc7 387px,#fccec7 393px,#fccec7 399px,#fccec7 405px,#fccfc7 411px,#fccfc7 417px,#fccfc8 423px,#fcd0c8 429px,#fcd0c9 435px,#fbd1ca 441px,#fbd2cb 447px,#fbd3cc 453px,#fbd4cd 459px,#fbd5cf 465px,#fad7d1 471px,#fad9d3 477px,#fadbd6 483px,#f9ded9 489px,#f9e1dc 495px,#f8e4e0 501px,#f7e7e4 507px,#f7ebe8 513px,#f6eeec 519px,#f6f2f0 525px,#f4f5f4 531px,#eef3f5 537px,#e7f2f6 543px,#e2f1f6 549px,#ddf0f6 555px,#d8eff5 561px,#d4eef5 567px)"></div><div style="height:6px;background:linear-gradient(90deg,#d8eff5 3px,#d4eef5 9px,#cfedf5 15px,#caebf4 21px,#c4eaf4 27px,#bfe8f3 33px,#bbe7f2 39px,#b7e5f2 45px,#b3e4f1 51px,#b0e3f1 57px,#aee3f1 63px,#ace2f0 69px,#aae2f0 75px,#a9e1f0 81px,#a7e1f0 87px,#a6e0f0 93px,#a4e0f0 99px,#a3e0f0 105px,#a1e0ef 111px,#9fdfef 117px,#9edfef 123px,#9cdfef 129px,#9adeef 135px,#99deef 141px,#99deef 147px,#9bdeef 153px,#9edfef 159px,#a3e0f0 165px,#a8e1f0 171px,#abe2f0 177px,#afe3f1 183px,#b2e4f1 189px,#b5e5f2 195px,#b7e6f2 201px,#bae6f2 207px,#bde7f3 213px,#bfe8f3 219px,#c2e9f3 225px,#c5eaf4 231px,#c8ebf4 237px,#cbebf4 243px,#ceecf5 249px,#d1edf5 255px,#d4eef5 261px,#d8eff5 267px,#dceff6 273px,#e1f0f6 279px,#e8f2f6 285px,#f0f4f5 291px,#f5f3f1 297px,#f6eeec 303px,#f7e9e6 309px,#f8e5e1 315px,#f9e1dd 321px,#f9ded9 327px,#fadbd5 333px,#fad8d2 339px,#fbd6cf 345px,#fbd3cc 351px,#fbd2ca 357px,#fcd0c9 363px,#fccfc7 369px,#fccec6 375px,#fccec6 381px,#fccdc5 387px,#fccdc5 393px,#fccdc5 399px,#fccdc5 405px,#fccdc5 411px,#fccdc5 417px,#fccdc5 423px,#fccec6 429px,#fccec6 435px,#fccfc7 441px,#fcd0c8 447px,#fbd1c9 453px,#fbd2cb 459px,#fbd4cd 465px,#fbd5cf 471px,#fad7d1 477px,#fadad4 483px,#f9ddd8 489px,#f9e0db 495px,#f8e3df 501px,#f8e7e3 507px,#f7eae8 513px,#f6eeec 519px,#f6f2f0 525px,#f4f5f4 531px,#edf3f5 537px,#e7f2f6 543px,#e1f0f6 549px,#dceff6 555px,#d8eff5 561px,#d3eef5 567px)"></div><div style="height:6px;background:linear-gradient(90deg,#d9eff5 3px,#d4eef5 9px,#cfedf5 15px,#c9ebf4 21px,#c4e9f3 27px,#bee8f3 33px,#bae6f2 39px,#b5e5f2 45px,#b2e4f1 51px,#aee3f1 57px,#ace2f0 63px,#aae2f0 69px,#a8e1f0 75px,#a6e1f0 81px,#a4e0f0 87px,#a3e0f0 93px,#a1e0f0 99px,#a0dfef 105px,#9fdfef 111px,#9ddfef 117px,#9cdeef 123px,#9adeef 129px,#99deef 135px,#98deef 141px,#97deef 147px,#99deef 153px,#9cdfef 159px,#a1e0ef 165px,#a6e1f0 171px,#aae2f0 177px,#ade3f1 183px,#b0e3f1 189px,#b3e4f1 195px,#b6e5f2 201px,#b8e6f2 207px,#bbe7f2 213px,#bee8f3 219px,#c1e8f3 225px,#c4e9f3 231px,#c7eaf4 237px,#caebf4 243px,#cdecf5 249px,#d0edf5 255px,#d3eef5 261px,#d7eef5 267px,#dbeff6 273px,#e0f0f6 279px,#e7f2f6 285px,#f0f4f5 291px,#f5f3f2 297px,#f6eeec 303px,#f7e9e6 309px,#f8e5e1 315px,#f9e1dd 321px,#f9ded8 327px,#fadad5 333px,#fad8d1 339px,#fbd5ce 345px,#fbd3cc 351px,#fbd1ca 357px,#fccfc8 363px,#fccec6 369px,#fccdc5 375px,#fcccc4 381px,#fcccc4 387px,#fccbc3 393px,#fccbc3 399px,#fccbc3 405px,#fccbc3 411px,#fccbc3 417px,#fccbc3 423px,#fcccc3 429px,#fcccc4 435px,#fccdc5 441px,#fccec6 447px,#fccfc7 453px,#fcd0c8 459px,#fbd2ca 465px,#fbd3cd 471px,#fbd6cf 477px,#fad9d2 483px,#fadcd6 489px,#f9dfda 495px,#f8e3de 501px,#f8e6e3 507px,#f7eae7 513px,#f6eeec 519px,#f6f2f0 525px,#f4f5f4 531px,#edf3f5 537px,#e6f1f6 543px,#e1f0f6 549px,#dceff6 555px,#d7eef5 561px,#d3eef5 567px)"></div><div style="height:6px;background:linear-gradient(90deg,#d9eff5 3px,#d4eef5 9px,#cfedf5 15px,#c9ebf4 21px,#c3e9f3 27px,#bde7f3 33px,#b8e6f2 39px,#b3e4f1 45px,#afe3f1 51px,#ace2f1 57px,#aae2f0 63px,#a8e1f0 69px,#a5e0f0 75px,#a3e0f0 81px,#a1e0ef 87px,#a0dfef 93px,#9fdfef 99px,#9edfef 105px,#9ddfef 111px,#9bdeef 117px,#9adeef 123px,#99deef 129px,#98deef 135px,#97deef 141px,#97deef 147px,#99deef 153px,#9ddfef 159px,#a1e0ef 165px,#a6e1f0 171px,#aae1f0 177px,#ace2f1 183px,#afe3f1 189px,#b1e4f1 195px,#b4e5f1 201px,#b7e5f2 207px,#b9e6f2 213px,#bce7f3 219px,#bfe8f3 225px,#c2e9f3 231px,#c6eaf4 237px,#c9ebf4 243px,#cbecf4 249px,#ceedf5 255px,#d2edf5 261px,#d5eef5 267px,#daeff5 273px,#dff0f6 279px,#e5f1f6 285px,#eef3f5 291px,#f5f4f3 297px,#f6efed 303px,#f7eae7 309px,#f8e5e2 315px,#f8e1dd 321px,#f9ded9 327px,#fadbd5 333px,#fad8d1 339px,#fbd5ce 345px,#fbd2cb 351px,#fcd0c9 357px,#fccfc7 363px,#fccdc5 369px,#fcccc4 375px,#fccbc3 381px,#fdcac2 387px,#fdcac1 393px,#fdcac1 399px,#fdc9c1 405px,#fdc9c0 411px,#fdc9c0 417px,#fdc9c1 423px,#fdcac1 429px,#fdcac1 435px,#fdcbc2 441px,#fccbc3 447px,#fcccc4 453px,#fccec6 459px,#fccfc8 465px,#fbd2ca 471px,#fbd4cd 477px,#fad7d1 483px,#fadad5 489px,#f9ded9 495px,#f8e2dd 501px,#f8e6e2 507px,#f7eae7 513px,#f6eeec 519px,#f6f2f0 525px,#f3f5f4 531px,#ecf3f5 537px,#e5f1f6 543px,#e0f0f6 549px,#dbeff6 555px,#d6eef5 561px,#d2edf5 567px)"></div><div style="height:6px;background:linear-gradient(90deg,#daeff5 3px,#d4eef5 9px,#cfedf5 15px,#c8ebf4 21px,#c1e9f3 27px,#bbe7f2 33px,#b6e5f2 39px,#b1e4f1 45px,#ade2f1 51px,#aae2f0 57px,#a7e1f0 63px,#a4e0f0 69px,#a1e0ef 75px,#9fdfef 81px,#9edfef 87px,#9ddfef 93px,#9cdfef 99px,#9bdeef 105px,#9adeef 111px,#9adeef 117px,#99deef 123px,#98deef 129px,#98deef 135px,#98deef 141px,#99deef 147px,#9bdeef 153px,#9edfef 159px,#a2e0f0 165px,#a7e1f0 171px,#aae2f0 177px,#ace2f1 183px,#aee3f1 189px,#b0e4f1 195px,#b3e4f1 201px,#b5e5f2 207px,#b8e6f2 213px,#bbe7f2 219px,#bee8f3 225px,#c1e8f3 231px,#c4e9f3 237px,#c7eaf4 243px,#c9ebf4 249px,#cdecf5 255px,#d0edf5 261px,#d4eef5 267px,#d8eff5 273px,#ddf0f6 279px,#e3f1f6 285px,#ecf3f5 291px,#f5f5f4 297px,#f6f0ee 303px,#f7ebe8 309px,#f8e6e3 315px,#f8e2de 321px,#f9ded9 327px,#fadbd5 333px,#fad8d2 339px,#fbd5ce 345px,#fbd2cb 351px,#fcd0c8 357px,#fccec6 363px,#fcccc4 369px,#fccbc3 375px,#fdcac1 381px,#fdc9c0 387px,#fdc8bf 393px,#fdc8bf 399px,#fdc8be 405px,#fdc7be 411px,#fdc7be 417px,#fdc7be 423px,#fdc7be 429px,#fdc8bf 435px,#fdc8bf 441px,#fdc9c0 447px,#fdcac2 453px,#fcccc3 459px,#fccdc5 465px,#fcd0c8 471px,#fbd2cb 477px,#fbd5cf 483px,#fad9d3 489px,#f9ddd8 495px,#f9e1dd 501px,#f8e6e2 507px,#f7eae7 513px,#f6eeec 519px,#f6f2f1 525px,#f3f4f4 531px,#ecf3f5 537px,#e5f1f6 543px,#dff0f6 549px,#dbeff6 555px,#d6eef5 561px,#d1edf5 567px)"></div><div style="height:6px;background:linear-gradient(90deg,#daeff6 3px,#d5eef5 9px,#cfedf5 15px,#c7eaf4 21px,#c0e8f3 27px,#b9e6f2 33px,#b3e4f1 39px,#aee3f1 45px,#aae2f0 51px,#a6e1f0 57px,#a2e0f0 63px,#9fdfef 69px,#9ddfef 75px,#9cdeef 81px,#9bdeef 87px,#9adeef 93px,#99deef 99px,#99deef 105px,#98deef 111px,#98deef 117px,#98deef 123px,#98deef 129px,#98deef 135px,#99deef 141px,#9bdeef 147px,#9ddfef 153px,#a1dfef 159px,#a5e0f0 165px,#a8e1f0 171px,#abe2f0 177px,#ade2f1 183px,#afe3f1 189px,#b0e3f1 195px,#b2e4f1 201px,#b4e5f2 207px,#b7e5f2 213px,#bae6f2 219px,#bce7f3 225px,#bfe8f3 231px,#c2e9f3 237px,#c5eaf4 243px,#c7eaf4 249px,#caebf4 255px,#ceecf5 261px,#d2edf5 267px,#d6eef5 273px,#dbeff6 279px,#e1f0f6 285px,#e9f2f5 291px,#f2f4f4 297px,#f6f1f0 303px,#f7ecea 309px,#f7e8e4 315px,#f8e3df 321px,#f9dfdb 327px,#fadcd6 333px,#fad8d2 339px,#fbd5ce 345px,#fbd2cb 351px,#fcd0c8 357px,#fccdc5 363px,#fcccc3 369px,#fdcac1 375px,#fdc9c0 381px,#fdc8bf 387px,#fdc7be 393px,#fdc6bd 399px,#fdc6bc 405px,#fdc5bc 411px,#fdc5bc 417px,#fdc5bc 423px,#fdc5bc 429px,#fdc6bc 435px,#fdc6bd 441px,#fdc7be 447px,#fdc8bf 453px,#fdc9c1 459px,#fccbc3 465px,#fccec5 471px,#fcd0c9 477px,#fbd4cd 483px,#fad8d2 489px,#f9dcd7 495px,#f9e1dc 501px,#f8e5e2 507px,#f7eae7 513px,#f6eeec 519px,#f5f3f1 525px,#f2f4f4 531px,#ebf3f5 537px,#e4f1f6 543px,#dff0f6 549px,#daeff5 555px,#d5eef5 561px,#d1edf5 567px)"></div><div style="height:6px;background:linear-gradient(90deg,#daeff6 3px,#d5eef5 9px,#ceedf5 15px,#c6eaf4 21px,#bee8f3 27px,#b7e5f2 33px,#b0e3f1 39px,#abe2f0 45px,#a6e1f0 51px,#a1e0ef 57px,#9ddfef 63px,#9bdeef 69px,#99deef 75px,#98deef 81px,#97ddef 87px,#96ddef 93px,#96ddef 99px,#96ddef 105px,#96ddef 111px,#97ddef 117px,#97deef 123px,#98deef 129px,#99deef 135px,#9adeef 141px,#9ddfef 147px,#a0dfef 153px,#a3e0f0 159px,#a7e1f0 165px,#aae2f0 171px,#ace2f1 177px,#aee3f1 183px,#b0e3f1 189px,#b1e4f1 195px,#b2e4f1 201px,#b4e5f2 207px,#b6e5f2 213px,#b9e6f2 219px,#bbe7f2 225px,#bee7f3 231px,#c0e8f3 237px,#c3e9f3 243px,#c6eaf4 249px,#c9ebf4 255px,#ccecf4 261px,#d0edf5 267px,#d4eef5 273px,#d9eff5 279px,#dff0f6 285px,#e7f2f6 291px,#f0f4f5 297px,#f5f3f1 303px,#f6eeec 309px,#f7e9e6 315px,#f8e5e1 321px,#f9e0dc 327px,#f9ddd7 333px,#fad9d3 339px,#fbd5cf 345px,#fbd2cb 351px,#fcd0c8 357px,#fccdc5 363px,#fccbc3 369px,#fdc9c0 375px,#fdc8bf 381px,#fdc6bd 387px,#fdc5bc 393px,#fdc4bb 399px,#fdc4ba 405px,#fdc3ba 411px,#fdc3b9 417px,#fdc3b9 423px,#fdc3ba 429px,#fdc4ba 435px,#fdc4ba 441px,#fdc5bb 447px,#fdc6bc 453px,#fdc7be 459px,#fdc9c0 465px,#fccbc3 471px,#fccfc7 477px,#fbd2cb 483px,#fad7d0 489px,#fadbd6 495px,#f9e0dc 501px,#f8e5e2 507px,#f7eae7 513px,#f6efed 519px,#f5f3f2 525px,#f1f4f4 531px,#eaf2f5 537px,#e3f1f6 543px,#def0f6 549px,#d9eff5 555px,#d4eef5 561px,#d0edf5 567px)"></div><div style="height:6px;background:linear-gradient(90deg,#dbeff6 3px,#d5eef5 9px,#ceecf5 15px,#c5eaf4 21px,#bce7f2 27px,#b3e4f1 33px,#ace2f1 39px,#a6e1f0 45px,#a0dfef 51px,#9bdeef 57px,#98deef 63px,#96ddef 69px,#94ddee 75px,#93ddee 81px,#92ddee 87px,#92dcee 93px,#92ddee 99px,#93ddee 105px,#93ddee 111px,#94ddef 117px,#96ddef 123px,#97ddef 129px,#98deef 135px,#9bdeef 141px,#9edfef 147px,#a2e0f0 153px,#a6e1f0 159px,#a9e1f0 165px,#ace2f0 171px,#aee3f1 177px,#b0e3f1 183px,#b1e4f1 189px,#b2e4f1 195px,#b3e4f1 201px,#b5e5f2 207px,#b6e5f2 213px,#b8e6f2 219px,#bae6f2 225px,#bce7f3 231px,#bfe8f3 237px,#c1e9f3 243px,#c4e9f3 249px,#c7eaf4 255px,#caebf4 261px,#ceedf5 267px,#d3eef5 273px,#d8eff5 279px,#def0f6 285px,#e5f1f6 291px,#eef3f5 297px,#f5f4f3 303px,#f6efed 309px,#f7eae8 315px,#f8e6e2 321px,#f8e2dd 327px,#f9ddd8 333px,#fadad4 339px,#fbd6cf 345px,#fbd3cc 351px,#fcd0c8 357px,#fccdc5 363px,#fdcbc2 369px,#fdc8c0 375px,#fdc7bd 381px,#fdc5bc 387px,#fdc4ba 393px,#fdc3b9 399px,#fdc2b8 405px,#fdc1b7 411px,#fdc1b7 417px,#fdc1b7 423px,#fdc1b7 429px,#fdc1b7 435px,#fdc2b8 441px,#fdc2b9 447px,#fdc3ba 453px,#fdc5bc 459px,#fdc7be 465px,#fdcac1 471px,#fccdc5 477px,#fbd1ca 483px,#fbd6cf 489px,#fadbd5 495px,#f9e0dc 501px,#f8e6e2 507px,#f7ebe8 513px,#f6efed 519px,#f5f4f3 525px,#f0f4f5 531px,#e9f2f5 537px,#e2f1f6 543px,#ddf0f6 549px,#d8eff5 555px,#d4eef5 561px,#cfedf5 567px)"></div><div style="height:6px;background:linear-gradient(90deg,#daeff6 3px,#d5eef5 9px,#cdecf5 15px,#c3e9f3 21px,#b9e6f2 27px,#b0e3f1 33px,#a8e1f0 39px,#9fdfef 45px,#99deef 51px,#95ddef 57px,#92dcee 63px,#90dcee 69px,#8fdcee 75px,#8edcee 81px,#8ddcee 87px,#8ddbee 93px,#8ddcee 99px,#8edcee 105px,#90dcee 111px,#91dcee 117px,#93ddee 123px,#95ddef 129px,#97deef 135px,#9adeef 141px,#9edfef 147px,#a3e0f0 153px,#a8e1f0 159px,#abe2f0 165px,#aee3f1 171px,#b0e3f1 177px,#b2e4f1 183px,#b3e4f1 189px,#b4e4f1 195px,#b4e5f2 201px,#b5e5f2 207px,#b7e5f2 213px,#b8e6f2 219px,#bae6f2 225px,#bce7f2 231px,#bee8f3 237px,#c0e8f3 243px,#c3e9f3 249px,#c6eaf4 255px,#c9ebf4 261px,#ceecf5 267px,#d2edf5 273px,#d7eef5 279px,#ddf0f6 285px,#e3f1f6 291px,#ecf3f5 297px,#f5f5f4 303px,#f6f0ef 309px,#f7ece9 315px,#f7e7e4 321px,#f8e3df 327px,#f9ded9 333px,#fadad5 339px,#fad7d0 345px,#fbd3cc 351px,#fcd0c8 357px,#fccdc5 363px,#fdcac1 369px,#fdc8bf 375px,#fdc6bc 381px,#fdc4ba 387px,#fdc2b9 393px,#fdc1b7 399px,#fdc0b6 405px,#fdbfb5 411px,#fdbfb4 417px,#fdbfb4 423px,#fdbfb4 429px,#fdbfb5 435px,#fdbfb5 441px,#fdc0b6 447px,#fdc1b7 453px,#fdc3b9 459px,#fdc5bc 465px,#fdc8bf 471px,#fccbc3 477px,#fcd0c8 483px,#fbd5cf 489px,#fadbd5 495px,#f9e1dc 501px,#f8e6e3 507px,#f7ece9 513px,#f6f0ee 519px,#f5f5f4 525px,#eef3f5 531px,#e7f2f6 537px,#e1f0f6 543px,#dceff6 549px,#d8eff5 555px,#d3eef5 561px,#ceecf5 567px)"></div><div style="height:6px;background:linear-gradient(90deg,#daeff5 3px,#d4eef5 9px,#ccecf5 15px,#c1e9f3 21px,#b5e5f2 27px,#abe2f0 33px,#a0dfef 39px,#98deef 45px,#92ddee 51px,#8edcee 57px,#8cdbee 63px,#8adbee 69px,#89dbee 75px,#88daee 81px,#88daee 87px,#87daee 93px,#88daee 99px,#89dbee 105px,#8bdbee 111px,#8ddcee 117px,#8fdcee 123px,#92dcee 129px,#94ddef 135px,#98deef 141px,#9ddfef 147px,#a2e0f0 153px,#a8e1f0 159px,#ace2f0 165px,#afe3f1 171px,#b2e4f1 177px,#b3e4f1 183px,#b4e5f2 189px,#b5e5f2 195px,#b6e5f2 201px,#b6e5f2 207px,#b7e6f2 213px,#b8e6f2 219px,#b9e6f2 225px,#bbe7f2 231px,#bde7f3 237px,#bfe8f3 243px,#c2e9f3 249px,#c5eaf4 255px,#c9ebf4 261px,#cdecf5 267px,#d2edf5 273px,#d7eef5 279px,#dceff6 285px,#e2f1f6 291px,#eaf2f5 297px,#f3f4f4 303px,#f6f2f0 309px,#f6edea 315px,#f7e8e5 321px,#f8e4e0 327px,#f9dfdb 333px,#fadbd6 339px,#fad7d1 345px,#fbd3cc 351px,#fcd0c8 357px,#fccdc5 363px,#fdcac1 369px,#fdc7be 375px,#fdc5bb 381px,#fdc3b9 387px,#fdc1b7 393px,#fdbfb5 399px,#fdbeb4 405px,#fdbdb2 411px,#fdbcb2 417px,#fdbcb1 423px,#fdbcb1 429px,#fdbcb2 435px,#fdbdb2 441px,#fdbeb3 447px,#fdbfb5 453px,#fdc1b7 459px,#fdc3ba 465px,#fdc6bd 471px,#fdcac2 477px,#fccfc8 483px,#fbd5ce 489px,#fadbd6 495px,#f8e1dd 501px,#f7e7e4 507px,#f6edea 513px,#f6f1f0 519px,#f4f5f4 525px,#ecf3f5 531px,#e6f1f6 537px,#e0f0f6 543px,#dceff6 549px,#d7eef5 555px,#d2edf5 561px,#cdecf5 567px)"></div><div style="height:6px;background:linear-gradient(90deg,#d8eff5 3px,#d2edf5 9px,#c9ebf4 15px,#bee8f3 21px,#b2e4f1 27px,#a6e0f0 33px,#99deef 39px,#91dcee 45px,#8cdbee 51px,#88dbee 57px,#86daed 63px,#84daed 69px,#83d9ed 75px,#82d9ed 81px,#81d9ed 87px,#81d9ed 93px,#82d9ed 99px,#83d9ed 105px,#84daed 111px,#87daed 117px,#89dbee 123px,#8cdbee 129px,#90dcee 135px,#94ddef 141px,#9adeef 147px,#a1dfef 153px,#a8e1f0 159px,#ace2f1 165px,#b0e3f1 171px,#b3e4f1 177px,#b5e5f2 183px,#b5e5f2 189px,#b6e5f2 195px,#b6e5f2 201px,#b7e5f2 207px,#b8e6f2 213px,#b8e6f2 219px,#b9e6f2 225px,#bbe7f2 231px,#bde7f3 237px,#bfe8f3 243px,#c2e9f3 249px,#c5eaf4 255px,#c9ebf4 261px,#cdecf5 267px,#d2edf5 273px,#d6eef5 279px,#dceff6 285px,#e2f1f6 291px,#e9f2f5 297px,#f2f4f4 303px,#f5f2f1 309px,#f6eeec 315px,#f7e9e6 321px,#f8e5e1 327px,#f9e0dc 333px,#f9dcd6 339px,#fad8d2 345px,#fbd4cd 351px,#fcd0c8 357px,#fccdc4 363px,#fdc9c1 369px,#fdc6bd 375px,#fdc4ba 381px,#fdc1b8 387px,#fdbfb5 393px,#fdbdb3 399px,#fdbcb1 405px,#fdbbb0 411px,#fdbaaf 417px,#fdb9ae 423px,#fdb9ae 429px,#fdb9ae 435px,#fdbaaf 441px,#fdbbb0 447px,#fdbcb2 453px,#fdbfb4 459px,#fdc2b8 465px,#fdc5bc 471px,#fdcac1 477px,#fccfc7 483px,#fbd5cf 489px,#f9dcd6 495px,#f8e2de 501px,#f7e8e5 507px,#f6eeec 513px,#f5f3f1 519px,#f1f4f4 525px,#ebf3f5 531px,#e4f1f6 537px,#e0f0f6 543px,#dbeff6 549px,#d6eef5 555px,#d2edf5 561px,#ccecf5 567px)"></div><div style="height:6px;background:linear-gradient(90deg,#d5eef5 3px,#ceecf5 9px,#c5eaf4 15px,#bae6f2 21px,#aee3f1 27px,#a1e0ef 33px,#95ddef 39px,#8ddbee 45px,#87daee 51px,#83d9ed 57px,#80d9ed 63px,#7ed9ed 69px,#7dd8ed 75px,#7cd8ed 81px,#7bd8ed 87px,#7ad8ed 93px,#7ad8ed 99px,#7bd8ed 105px,#7cd8ed 111px,#7fd9ed 117px,#81d9ed 123px,#85daed 129px,#89dbee 135px,#8fdcee 141px,#95ddef 147px,#9cdfef 153px,#a5e0f0 159px,#abe2f0 165px,#b0e3f1 171px,#b3e4f1 177px,#b5e5f2 183px,#b6e5f2 189px,#b6e5f2 195px,#b7e5f2 201px,#b7e6f2 207px,#b8e6f2 213px,#b9e6f2 219px,#bae6f2 225px,#bbe7f2 231px,#bde7f3 237px,#c0e8f3 243px,#c2e9f3 249px,#c6eaf4 255px,#c9ebf4 261px,#ceecf5 267px,#d2edf5 273px,#d7eef5 279px,#dceff6 285px,#e2f1f6 291px,#e9f2f5 297px,#f1f4f4 303px,#f5f3f1 309px,#f6eeec 315px,#f7eae7 321px,#f8e5e2 327px,#f9e1dc 333px,#f9dcd7 339px,#fad8d2 345px,#fbd4cd 351px,#fcd0c9 357px,#fcccc4 363px,#fdc9c0 369px,#fdc6bd 375px,#fdc3b9 381px,#fdc0b6 387px,#fdbeb4 393px,#fdbcb1 399px,#fdbaaf 405px,#fdb8ad 411px,#fdb7ac 417px,#fdb6ab 423px,#fdb6ab 429px,#fdb6ab 435px,#fdb7ab 441px,#fdb8ad 447px,#fdbaaf 453px,#fdbcb2 459px,#fdc0b6 465px,#fdc4ba 471px,#fdc9c0 477px,#fccfc7 483px,#fbd6cf 489px,#f9dcd7 495px,#f8e3df 501px,#f7eae7 507px,#f6f0ee 513px,#f5f4f3 519px,#eff4f5 525px,#e9f2f5 531px,#e3f1f6 537px,#dff0f6 543px,#daeff6 549px,#d6eef5 555px,#d1edf5 561px,#cbecf4 567px)"></div><div style="height:6px;background:linear-gradient(90deg,#d1edf5 3px,#caebf4 9px,#c1e8f3 15px,#b6e5f2 21px,#ace2f0 27px,#9fdfef 33px,#93ddee 39px,#8adbee 45px,#84daed 51px,#7fd9ed 57px,#7cd8ed 63px,#79d7ec 69px,#77d7ec 75px,#75d7ec 81px,#74d6ec 87px,#73d6ec 93px,#72d6ec 99px,#72d6ec 105px,#73d6ec 111px,#75d7ec 117px,#78d7ec 123px,#7cd8ed 129px,#81d9ed 135px,#87daed 141px,#8edcee 147px,#96ddef 153px,#9fdfef 159px,#a8e1f0 165px,#ade3f1 171px,#b1e4f1 177px,#b3e4f1 183px,#b5e5f2 189px,#b6e5f2 195px,#b6e5f2 201px,#b7e6f2 207px,#b8e6f2 213px,#b9e6f2 219px,#bae6f2 225px,#bce7f2 231px,#bee8f3 237px,#c0e8f3 243px,#c3e9f3 249px,#c7eaf4 255px,#caebf4 261px,#ceecf5 267px,#d2edf5 273px,#d7eef5 279px,#dceff6 285px,#e2f1f6 291px,#e9f2f5 297px,#f0f4f5 303px,#f5f3f2 309px,#f6efed 315px,#f7eae7 321px,#f8e6e2 327px,#f8e1dd 333px,#f9ddd8 339px,#fad9d2 345px,#fbd4cd 351px,#fcd0c9 357px,#fcccc4 363px,#fdc9c0 369px,#fdc5bc 375px,#fdc2b8 381px,#fdbfb5 387px,#fdbdb2 393px,#fdbaaf 399px,#fdb8ad 405px,#fdb6aa 411px,#fdb4a9 417px,#fdb3a7 423px,#fdb3a7 429px,#fdb3a7 435px,#fdb3a8 441px,#fdb5a9 447px,#fdb7ac 453px,#fdbaaf 459px,#fdbeb4 465px,#fdc3b9 471px,#fdc8bf 477px,#fccfc7 483px,#fbd6cf 489px,#f9ddd8 495px,#f8e4e0 501px,#f7ebe8 507px,#f6f1ef 513px,#f4f5f4 519px,#edf3f5 525px,#e8f2f6 531px,#e3f1f6 537px,#def0f6 543px,#daeff5 549px,#d5eef5 555px,#d0edf5 561px,#caebf4 567px)"></div><div style="height:6px;background:linear-gradient(90deg,#ceecf5 3px,#c6eaf4 9px,#bde7f3 15px,#b3e4f1 21px,#aae2f0 27px,#9ddfef 33px,#91dcee 39px,#88daee 45px,#81d9ed 51px,#7cd8ed 57px,#78d7ec 63px,#75d7ec 69px,#72d6ec 75px,#70d5ec 81px,#6dd5ec 87px,#6bd5eb 93px,#6ad4eb 99px,#69d4eb 105px,#6ad4eb 111px,#6bd5eb 117px,#6ed5ec 123px,#72d6ec 129px,#77d7ec 135px,#7dd8ed 141px,#85daed 147px,#8edcee 153px,#97ddef 159px,#a0dfef 165px,#a8e1f0 171px,#ade2f1 177px,#b0e3f1 183px,#b2e4f1 189px,#b4e5f1 195px,#b6e5f2 201px,#b7e5f2 207px,#b8e6f2 213px,#bae6f2 219px,#bbe7f2 225px,#bde7f3 231px,#bfe8f3 237px,#c2e9f3 243px,#c4eaf4 249px,#c8ebf4 255px,#cbecf4 261px,#cfedf5 267px,#d3eef5 273px,#d8eff5 279px,#ddf0f6 285px,#e2f1f6 291px,#e9f2f5 297px,#f1f4f5 303px,#f5f3f2 309px,#f6efed 315px,#f7ebe8 321px,#f8e6e2 327px,#f8e2dd 333px,#f9ddd8 339px,#fad9d3 345px,#fbd4ce 351px,#fcd0c9 357px,#fcccc4 363px,#fdc9c0 369px,#fdc5bc 375px,#fdc2b8 381px,#fdbeb4 387px,#fdbbb1 393px,#fdb8ad 399px,#fdb6aa 405px,#fdb4a8 411px,#fdb2a6 417px,#fdb0a4 423px,#fdb0a3 429px,#fdafa3 435px,#fdb0a4 441px,#fdb2a6 447px,#fdb4a9 453px,#fdb8ac 459px,#fdbcb1 465px,#fdc1b7 471px,#fdc7be 477px,#fccec6 483px,#fbd6cf 489px,#f9ddd8 495px,#f8e5e1 501px,#f7ece9 507px,#f5f2f1 513px,#f1f4f4 519px,#ecf3f5 525px,#e7f2f6 531px,#e3f1f6 537px,#def0f6 543px,#d9eff5 549px,#d4eef5 555px,#cfedf5 561px,#c9ebf4 567px)"></div><div style="height:6px;background:linear-gradient(90deg,#caebf4 3px,#c2e9f3 9px,#b9e6f2 15px,#b1e4f1 21px,#a8e1f0 27px,#9bdeef 33px,#8fdcee 39px,#86daed 45px,#7fd9ed 51px,#7ad8ec 57px,#75d7ec 63px,#72d6ec 69px,#6ed5ec 75px,#6bd4eb 81px,#67d4eb 87px,#64d3eb 93px,#62d3eb 99px,#60d2eb 105px,#5fd2eb 111px,#60d2eb 117px,#62d3eb 123px,#66d4eb 129px,#6cd5eb 135px,#72d6ec 141px,#7ad8ed 147px,#83daed 153px,#8ddbee 159px,#97ddef 165px,#a0dfef 171px,#a7e1f0 177px,#ace2f0 183px,#afe3f1 189px,#b2e4f1 195px,#b4e5f2 201px,#b6e5f2 207px,#b8e6f2 213px,#bae6f2 219px,#bce7f3 225px,#bee8f3 231px,#c0e8f3 237px,#c3e9f3 243px,#c6eaf4 249px,#c9ebf4 255px,#cdecf5 261px,#d1edf5 267px,#d5eef5 273px,#d9eff5 279px,#def0f6 285px,#e3f1f6 291px,#eaf2f5 297px,#f1f4f4 303px,#f5f3f2 309px,#f6efed 315px,#f7ebe8 321px,#f8e6e3 327px,#f8e2dd 333px,#f9ddd8 339px,#fad9d3 345px,#fbd5ce 351px,#fcd0c9 357px,#fcccc4 363px,#fdc8bf 369px,#fdc5bb 375px,#fdc1b7 381px,#fdbeb3 387px,#fdbaaf 393px,#fdb7ac 399px,#fdb4a8 405px,#fdb2a5 411px,#fdafa3 417px,#fdaea1 423px,#fdada0 429px,#fdac9f 435px,#fdada0 441px,#fdafa2 447px,#fdb1a5 453px,#fdb5aa 459px,#fdbaaf 465px,#fdc0b6 471px,#fdc6bd 477px,#fccec5 483px,#fbd5cf 489px,#f9ddd8 495px,#f8e5e1 501px,#f7ecea 507px,#f5f3f1 513px,#f1f4f4 519px,#ebf3f5 525px,#e7f2f6 531px,#e3f1f6 537px,#def0f6 543px,#d9eff5 549px,#d4eef5 555px,#ceecf5 561px,#c8ebf4 567px)"></div><div style="height:6px;background:linear-gradient(90deg,#c7eaf4 3px,#bfe8f3 9px,#b6e5f2 15px,#aee3f1 21px,#a5e0f0 27px,#99deef 33px,#8edcee 39px,#85daed 45px,#7ed8ed 51px,#78d7ec 57px,#73d6ec 63px,#6fd5ec 69px,#6bd4eb 75px,#66d4eb 81px,#62d3eb 87px,#5dd2ea 93px,#59d1ea 99px,#57d0ea 105px,#55d0ea 111px,#55d0ea 117px,#57d0ea 123px,#5ad1ea 129px,#60d2eb 135px,#66d4eb 141px,#6fd5ec 147px,#78d7ec 153px,#82d9ed 159px,#8cdbee 165px,#95ddef 171px,#9edfef 177px,#a6e1f0 183px,#abe2f0 189px,#afe3f1 195px,#b2e4f1 201px,#b5e5f2 207px,#b8e6f2 213px,#bae6f2 219px,#bde7f3 225px,#bfe8f3 231px,#c2e9f3 237px,#c4eaf4 243px,#c7eaf4 249px,#cbebf4 255px,#cfedf5 261px,#d2edf5 267px,#d6eef5 273px,#daeff6 279px,#dff0f6 285px,#e4f1f6 291px,#eaf3f5 297px,#f2f4f4 303px,#f5f3f2 309px,#f6efed 315px,#f7ebe8 321px,#f8e6e3 327px,#f8e2de 333px,#f9ded8 339px,#fad9d3 345px,#fbd5ce 351px,#fbd1c9 357px,#fcccc4 363px,#fdc8bf 369px,#fdc4bb 375px,#fdc1b7 381px,#fdbdb2 387px,#fdb9ae 393px,#fdb6aa 399px,#fdb3a7 405px,#fdb0a3 411px,#fdada0 417px,#fdab9e 423px,#fdaa9d 429px,#fda99c 435px,#fdaa9d 441px,#fdac9f 447px,#fdafa2 453px,#fdb3a7 459px,#fdb8ad 465px,#fdbeb4 471px,#fdc5bc 477px,#fccdc4 483px,#fbd5ce 489px,#f9dcd7 495px,#f8e4e0 501px,#f7ece9 507px,#f6f2f0 513px,#f2f4f4 519px,#ecf3f5 525px,#e7f2f6 531px,#e2f1f6 537px,#ddf0f6 543px,#d8eff5 549px,#d3eef5 555px,#cdecf5 561px,#c7eaf4 567px)"></div><div style="height:6px;background:linear-gradient(90deg,#c4e9f3 3px,#bce7f2 9px,#b4e5f2 15px,#ace2f1 21px,#a2e0f0 27px,#97deef 33px,#8ddbee 39px,#84daed 45px,#7dd8ed 51px,#77d7ec 57px,#72d6ec 63px,#6dd5ec 69px,#68d4eb 75px,#63d3eb 81px,#5dd2ea 87px,#57d0ea 93px,#52cfe9 99px,#4dcee9 105px,#4acee9 111px,#49cee9 117px,#4bcee9 123px,#4ecfe9 129px,#53d0ea 135px,#5ad1ea 141px,#63d3eb 147px,#6cd5eb 153px,#76d7ec 159px,#81d9ed 165px,#8bdbee 171px,#95ddef 177px,#9edfef 183px,#a6e1f0 189px,#abe2f0 195px,#b0e3f1 201px,#b3e4f1 207px,#b7e6f2 213px,#bae6f2 219px,#bde7f3 225px,#c0e8f3 231px,#c3e9f3 237px,#c6eaf4 243px,#c9ebf4 249px,#ccecf5 255px,#d0edf5 261px,#d4eef5 267px,#d8eff5 273px,#dceff6 279px,#e0f0f6 285px,#e5f1f6 291px,#ebf3f5 297px,#f2f4f4 303px,#f5f3f1 309px,#f6efed 315px,#f7ebe8 321px,#f8e6e3 327px,#f8e2de 333px,#f9ded9 339px,#fad9d3 345px,#fbd5ce 351px,#fbd1c9 357px,#fcccc4 363px,#fdc8bf 369px,#fdc4bb 375px,#fdc1b6 381px,#fdbdb2 387px,#fdb9ae 393px,#fdb5aa 399px,#fdb2a6 405px,#fdaea2 411px,#fdac9f 417px,#fda99c 423px,#fda79a 429px,#fda799 435px,#fda79a 441px,#fda99c 447px,#fdada0 453px,#fdb1a5 459px,#fdb7ab 465px,#fdbdb3 471px,#fdc4bb 477px,#fcccc3 483px,#fbd4cd 489px,#f9dcd6 495px,#f8e3df 501px,#f7ebe8 507px,#f6f1ef 513px,#f4f5f4 519px,#ecf3f5 525px,#e6f2f6 531px,#e1f0f6 537px,#dceff6 543px,#d7eef5 549px,#d1edf5 555px,#cbecf4 561px,#c5eaf4 567px)"></div><div style="height:6px;background:linear-gradient(90deg,#c1e9f3 3px,#bae6f2 9px,#b2e4f1 15px,#abe2f0 21px,#a0dfef 27px,#96ddef 33px,#8cdbee 39px,#84daed 45px,#7dd8ed 51px,#77d7ec 57px,#72d6ec 63px,#6cd5eb 69px,#67d4eb 75px,#61d2eb 81px,#59d1ea 87px,#52cfe9 93px,#4bcee9 99px,#45cde8 105px,#40cce8 111px,#3ecbe8 117px,#3fcbe8 123px,#42cce8 129px,#47cde9 135px,#4ecfe9 141px,#57d0ea 147px,#60d2eb 153px,#6bd4eb 159px,#75d7ec 165px,#80d9ed 171px,#8bdbee 177px,#95ddef 183px,#9edfef 189px,#a7e1f0 195px,#ade2f1 201px,#b2e4f1 207px,#b6e5f2 213px,#bae6f2 219px,#bde7f3 225px,#c0e8f3 231px,#c3e9f3 237px,#c7eaf4 243px,#caebf4 249px,#ceecf5 255px,#d2edf5 261px,#d5eef5 267px,#d9eff5 273px,#ddf0f6 279px,#e1f0f6 285px,#e6f2f6 291px,#ecf3f5 297px,#f3f4f4 303px,#f5f3f1 309px,#f6efed 315px,#f7ebe8 321px,#f8e7e3 327px,#f8e2de 333px,#f9ded9 339px,#fadad4 345px,#fbd5cf 351px,#fbd1ca 357px,#fccdc5 363px,#fdc8c0 369px,#fdc4bb 375px,#fdc1b6 381px,#fdbdb2 387px,#fdb9ae 393px,#fdb5a9 399px,#fdb1a5 405px,#fdaea1 411px,#fdaa9d 417px,#fda89a 423px,#fda698 429px,#fda597 435px,#fda597 441px,#fda799 447px,#fdab9e 453px,#fdb0a3 459px,#fdb5aa 465px,#fdbcb1 471px,#fdc3ba 477px,#fccbc2 483px,#fbd3cc 489px,#fadbd5 495px,#f8e3de 501px,#f7eae7 507px,#f6f0ee 513px,#f5f5f4 519px,#ecf3f5 525px,#e5f1f6 531px,#e0f0f6 537px,#daeff6 543px,#d5eef5 549px,#cfedf5 555px,#c9ebf4 561px,#c3e9f3 567px)"></div><div style="height:6px;background:linear-gradient(90deg,#bfe8f3 3px,#b8e6f2 9px,#b1e4f1 15px,#a9e1f0 21px,#9fdfef 27px,#95ddef 33px,#8bdbee 39px,#83daed 45px,#7dd8ed 51px,#77d7ec 57px,#72d6ec 63px,#6dd5eb 69px,#67d4eb 75px,#5fd2eb 81px,#57d0ea 87px,#4ecfe9 93px,#45cde8 99px,#3dcbe8 105px,#37cae7 111px,#34c9e7 117px,#34c9e7 123px,#37cae7 129px,#3ccbe8 135px,#43cce8 141px,#4bcee9 147px,#55d0ea 153px,#60d2eb 159px,#6bd4eb 165px,#76d7ec 171px,#81d9ed 177px,#8cdbee 183px,#97deef 189px,#a1e0ef 195px,#aae2f0 201px,#afe3f1 207px,#b4e5f2 213px,#b9e6f2 219px,#bde7f3 225px,#c0e8f3 231px,#c4e9f3 237px,#c7eaf4 243px,#cbebf4 249px,#cfedf5 255px,#d3eef5 261px,#d6eef5 267px,#daeff6 273px,#def0f6 279px,#e2f1f6 285px,#e7f2f6 291px,#edf3f5 297px,#f3f4f4 303px,#f5f3f1 309px,#f6efed 315px,#f7ebe8 321px,#f7e7e3 327px,#f8e3de 333px,#f9ded9 339px,#fadad4 345px,#fbd6cf 351px,#fbd1ca 357px,#fccdc5 363px,#fdc9c0 369px,#fdc5bb 375px,#fdc1b7 381px,#fdbdb2 387px,#fdb9ae 393px,#fdb5a9 399px,#fdb1a5 405px,#fdada0 411px,#fdaa9d 417px,#fda79a 423px,#fda597 429px,#fda496 435px,#fda496 441px,#fda698 447px,#fdaa9d 453px,#fdafa2 459px,#fdb5a9 465px,#fdbbb1 471px,#fdc3b9 477px,#fdcac2 483px,#fbd3cb 489px,#fadad5 495px,#f8e2de 501px,#f7e9e6 507px,#f6f0ee 513px,#f5f5f4 519px,#ecf3f5 525px,#e4f1f6 531px,#def0f6 537px,#d9eff5 543px,#d3eef5 549px,#cdecf5 555px,#c7eaf4 561px,#c0e8f3 567px)"></div><div style="height:6px;background:linear-gradient(90deg,#bee8f3 3px,#b7e5f2 9px,#b0e3f1 15px,#a9e1f0 21px,#9edfef 27px,#94ddee 33px,#8bdbee 39px,#84daed 45px,#7ed8ed 51px,#78d7ec 57px,#73d6ec 63px,#6dd5ec 69px,#67d4eb 75px,#5fd2ea 81px,#56d0ea 87px,#4bcee9 93px,#41cce8 99px,#37cae7 105px,#30c8e7 111px,#2bc7e7 117px,#2ac7e6 123px,#2dc8e7 129px,#32c9e7 135px,#39cae8 141px,#42cce8 147px,#4bcee9 153px,#56d0ea 159px,#61d2eb 165px,#6dd5eb 171px,#78d7ec 177px,#84daed 183px,#90dcee 189px,#9bdeef 195px,#a6e1f0 201px,#ade2f1 207px,#b2e4f1 213px,#b7e6f2 219px,#bbe7f2 225px,#bfe8f3 231px,#c3e9f3 237px,#c7eaf4 243px,#cbecf4 249px,#cfedf5 255px,#d3eef5 261px,#d7eef5 267px,#dbeff6 273px,#dff0f6 279px,#e3f1f6 285px,#e8f2f6 291px,#edf3f5 297px,#f3f4f4 303px,#f5f3f2 309px,#f6efed 315px,#f7ece9 321px,#f7e7e4 327px,#f8e3df 333px,#f9dfda 339px,#fadad5 345px,#fbd6d0 351px,#fbd2ca 357px,#fccdc5 363px,#fdc9c0 369px,#fdc5bc 375px,#fdc1b7 381px,#fdbdb3 387px,#fdb9ae 393px,#fdb5a9 399px,#fdb1a5 405px,#fdada1 411px,#fdaa9d 417px,#fda89a 423px,#fda698 429px,#fda496 435px,#fda597 441px,#fda699 447px,#fdaa9d 453px,#fdafa2 459px,#fdb5a9 465px,#fdbbb1 471px,#fdc3b9 477px,#fdcac2 483px,#fbd2cb 489px,#fadad5 495px,#f8e2de 501px,#f7e9e6 507px,#f6f0ee 513px,#f4f5f4 519px,#ebf3f5 525px,#e3f1f6 531px,#dceff6 537px,#d7eef5 543px,#d1edf5 549px,#cbebf4 555px,#c4e9f4 561px,#bee8f3 567px)"></div><div style="height:6px;background:linear-gradient(90deg,#bde7f3 3px,#b6e5f2 9px,#afe3f1 15px,#a8e1f0 21px,#9edfef 27px,#95ddef 33px,#8cdbee 39px,#85daed 45px,#80d9ed 51px,#7ad8ed 57px,#75d7ec 63px,#70d5ec 69px,#69d4eb 75px,#60d2eb 81px,#56d0ea 87px,#4bcee9 93px,#3fcce8 99px,#34c9e7 105px,#2bc7e7 111px,#25c6e6 117px,#24c6e6 123px,#26c6e6 129px,#2bc7e7 135px,#32c9e7 141px,#3acae8 147px,#43cce8 153px,#4ecfe9 159px,#59d1ea 165px,#64d3eb 171px,#70d6ec 177px,#7dd8ed 183px,#89dbee 189px,#95ddef 195px,#a0dfef 201px,#aae2f0 207px,#b0e3f1 213px,#b5e5f2 219px,#bae6f2 225px,#bee8f3 231px,#c2e9f3 237px,#c7eaf4 243px,#cbebf4 249px,#cfedf5 255px,#d3eef5 261px,#d7eef5 267px,#dbeff6 273px,#dff0f6 279px,#e3f1f6 285px,#e7f2f6 291px,#ecf3f5 297px,#f2f4f4 303px,#f5f3f2 309px,#f6f0ee 315px,#f7ecea 321px,#f7e8e5 327px,#f8e4e0 333px,#f9dfdb 339px,#fadbd5 345px,#fad7d0 351px,#fbd2cb 357px,#fccec6 363px,#fdc9c1 369px,#fdc5bc 375px,#fdc1b7 381px,#fdbeb3 387px,#fdb9ae 393px,#fdb5aa 399px,#fdb1a5 405px,#fdaea1 411px,#fdab9e 417px,#fda99b 423px,#fda799 429px,#fda698 435px,#fda799 441px,#fda89b 447px,#fdab9e 453px,#fdb0a3 459px,#fdb5aa 465px,#fdbcb1 471px,#fdc3b9 477px,#fdcbc2 483px,#fbd3cc 489px,#fadbd5 495px,#f8e3de 501px,#f7eae7 507px,#f6f0ee 513px,#f3f5f4 519px,#e9f2f5 525px,#e1f0f6 531px,#daeff6 537px,#d4eef5 543px,#ceedf5 549px,#c8ebf4 555px,#c1e9f3 561px,#bbe7f2 567px)"></div><div style="height:6px;background:linear-gradient(90deg,#bce7f3 3px,#b6e5f2 9px,#afe3f1 15px,#a9e1f0 21px,#a0dfef 27px,#96ddef 33px,#8edcee 39px,#88daee 45px,#83d9ed 51px,#7ed8ed 57px,#79d7ec 63px,#74d6ec 69px,#6dd5ec 75px,#64d3eb 81px,#5ad1ea 87px,#4ecfe9 93px,#42cce8 99px,#35c9e7 105px,#29c7e6 111px,#24c6e6 117px,#24c6e6 123px,#24c6e6 129px,#27c7e6 135px,#2dc8e7 141px,#35c9e7 147px,#3ecbe8 153px,#47cde9 159px,#52cfe9 165px,#5ed2ea 171px,#6ad4eb 177px,#76d7ec 183px,#83d9ed 189px,#8fdcee 195px,#9bdeef 201px,#a6e1f0 207px,#ade3f1 213px,#b3e4f1 219px,#b8e6f2 225px,#bde7f3 231px,#c1e9f3 237px,#c6eaf4 243px,#caebf4 249px,#cfedf5 255px,#d3eef5 261px,#d7eef5 267px,#dbeff6 273px,#dff0f6 279px,#e2f1f6 285px,#e7f2f6 291px,#ebf3f5 297px,#f1f4f4 303px,#f5f4f3 309px,#f6f1ef 315px,#f6edeb 321px,#f7e9e6 327px,#f8e5e1 333px,#f9e0dc 339px,#f9dcd6 345px,#fad7d1 351px,#fbd3cb 357px,#fccec6 363px,#fdcac1 369px,#fdc6bc 375px,#fdc2b8 381px,#fdbeb3 387px,#fdbaaf 393px,#fdb6aa 399px,#fdb2a6 405px,#fdafa2 411px,#fdac9f 417px,#fdaa9d 423px,#fda99b 429px,#fda99b 435px,#fda99c 441px,#fdaa9d 447px,#fdada0 453px,#fdb1a5 459px,#fdb6ab 465px,#fdbdb2 471px,#fdc4ba 477px,#fcccc3 483px,#fbd4cd 489px,#f9dcd6 495px,#f8e3df 501px,#f7ebe8 507px,#f6f1f0 513px,#f1f4f5 519px,#e7f2f6 525px,#dff0f6 531px,#d8eff5 537px,#d2edf5 543px,#ccecf4 549px,#c5eaf4 555px,#bfe8f3 561px,#b8e6f2 567px)"></div><div style="height:6px;background:linear-gradient(90deg,#bde7f3 3px,#b6e5f2 9px,#b0e3f1 15px,#aae2f0 21px,#a2e0f0 27px,#9adeef 33px,#92ddee 39px,#8ddbee 45px,#88daee 51px,#84daed 57px,#7fd9ed 63px,#7ad8ec 69px,#73d6ec 75px,#6bd5eb 81px,#61d2eb 87px,#55d0ea 93px,#49cde9 99px,#3bcbe8 105px,#2ec8e7 111px,#25c6e6 117px,#24c6e6 123px,#24c6e6 129px,#27c7e6 135px,#2cc8e7 141px,#32c9e7 147px,#3acbe8 153px,#43cce8 159px,#4dcee9 165px,#58d1ea 171px,#64d3eb 177px,#71d6ec 183px,#7dd8ed 189px,#8adbee 195px,#96ddef 201px,#a2e0f0 207px,#abe2f0 213px,#b1e4f1 219px,#b6e5f2 225px,#bbe7f2 231px,#c0e8f3 237px,#c4eaf4 243px,#c9ebf4 249px,#ceecf5 255px,#d2edf5 261px,#d6eef5 267px,#daeff6 273px,#def0f6 279px,#e1f0f6 285px,#e5f1f6 291px,#eaf2f5 297px,#eff4f5 303px,#f5f5f4 309px,#f6f2f0 315px,#f6eeec 321px,#f7eae7 327px,#f8e6e2 333px,#f9e1dd 339px,#f9dcd7 345px,#fad8d2 351px,#fbd3cc 357px,#fccfc7 363px,#fdcac1 369px,#fdc6bd 375px,#fdc2b8 381px,#fdbeb3 387px,#fdbaaf 393px,#fdb6ab 399px,#fdb3a7 405px,#fdb0a3 411px,#fdada1 417px,#fdac9f 423px,#fdab9e 429px,#fdab9e 435px,#fdac9f 441px,#fdada0 447px,#fdafa3 453px,#fdb3a7 459px,#fdb8ad 465px,#fdbeb4 471px,#fdc5bc 477px,#fccdc5 483px,#fbd5cf 489px,#f9ddd8 495px,#f8e5e1 501px,#f7ecea 507px,#f5f3f2 513px,#eef3f5 519px,#e4f1f6 525px,#dceff6 531px,#d6eef5 537px,#cfedf5 543px,#c9ebf4 549px,#c2e9f3 555px,#bce7f2 561px,#b5e5f2 567px)"></div><div style="height:6px;background:linear-gradient(90deg,#bde7f3 3px,#b7e6f2 9px,#b2e4f1 15px,#ace2f1 21px,#a6e1f0 27px,#9fdfef 33px,#98deef 39px,#93ddee 45px,#8edcee 51px,#8bdbee 57px,#86daed 63px,#82d9ed 69px,#7cd8ed 75px,#75d6ec 81px,#6cd5eb 87px,#61d2eb 93px,#54d0ea 99px,#47cde9 105px,#3acbe8 111px,#31c9e7 117px,#2bc8e7 123px,#2ac7e6 129px,#2bc7e7 135px,#2ec8e7 141px,#33c9e7 147px,#3acae8 153px,#41cce8 159px,#4bcee9 165px,#55d0ea 171px,#60d2eb 177px,#6cd5eb 183px,#78d7ec 189px,#85daed 195px,#92dcee 201px,#9ddfef 207px,#a8e1f0 213px,#aee3f1 219px,#b4e5f1 225px,#b9e6f2 231px,#bee8f3 237px,#c3e9f3 243px,#c8ebf4 249px,#cdecf5 255px,#d1edf5 261px,#d5eef5 267px,#d9eff5 273px,#dceff6 279px,#e0f0f6 285px,#e4f1f6 291px,#e8f2f6 297px,#edf3f5 303px,#f3f4f4 309px,#f5f3f2 315px,#f6efed 321px,#f7ebe8 327px,#f8e7e3 333px,#f8e2de 339px,#f9ddd8 345px,#fad8d2 351px,#fbd4cd 357px,#fccfc7 363px,#fdcac2 369px,#fdc6bd 375px,#fdc2b8 381px,#fdbeb4 387px,#fdbaaf 393px,#fdb7ab 399px,#fdb4a8 405px,#fdb1a5 411px,#fdafa2 417px,#fdaea1 423px,#fdada0 429px,#fdada0 435px,#fdaea1 441px,#fdafa2 447px,#fdb1a5 453px,#fdb5a9 459px,#fdbaaf 465px,#fdc0b6 471px,#fdc7be 477px,#fccfc7 483px,#fad7d1 489px,#f9dfdb 495px,#f7e7e4 501px,#f6eeec 507px,#f5f5f4 513px,#eaf2f5 519px,#e1f0f6 525px,#daeff5 531px,#d3eef5 537px,#ccecf5 543px,#c5eaf4 549px,#bfe8f3 555px,#b9e6f2 561px,#b2e4f1 567px)"></div><div style="height:6px;background:linear-gradient(90deg,#bee8f3 3px,#b9e6f2 9px,#b4e4f1 15px,#afe3f1 21px,#aae2f0 27px,#a5e0f0 33px,#9fdfef 39px,#9adeef 45px,#96ddef 51px,#93ddee 57px,#8fdcee 63px,#8cdbee 69px,#87daed 75px,#81d9ed 81px,#79d7ec 87px,#70d5ec 93px,#64d3eb 99px,#58d1ea 105px,#4bcee9 111px,#41cce8 117px,#39cae8 123px,#34c9e7 129px,#33c9e7 135px,#33c9e7 141px,#36cae7 147px,#3bcbe8 153px,#42cce8 159px,#4acee9 165px,#53d0ea 171px,#5dd2ea 177px,#68d4eb 183px,#74d6ec 189px,#81d9ed 195px,#8ddcee 201px,#9adeef 207px,#a5e0f0 213px,#ace2f0 219px,#b2e4f1 225px,#b7e5f2 231px,#bce7f3 237px,#c1e9f3 243px,#c6eaf4 249px,#cbecf4 255px,#d0edf5 261px,#d4eef5 267px,#d7eef5 273px,#dbeff6 279px,#dff0f6 285px,#e2f1f6 291px,#e6f1f6 297px,#ebf3f5 303px,#f0f4f5 309px,#f5f4f3 315px,#f6f0ef 321px,#f7ecea 327px,#f7e8e4 333px,#f8e3df 339px,#f9ded9 345px,#fad9d3 351px,#fbd4cd 357px,#fccfc8 363px,#fccbc2 369px,#fdc6bd 375px,#fdc2b9 381px,#fdbfb4 387px,#fdbbb0 393px,#fdb8ac 399px,#fdb5a9 405px,#fdb2a6 411px,#fdb1a4 417px,#fdb0a3 423px,#fdafa3 429px,#fdafa3 435px,#fdb0a4 441px,#fdb1a5 447px,#fdb4a8 453px,#fdb7ac 459px,#fdbcb1 465px,#fdc2b9 471px,#fdcac1 477px,#fbd2cb 483px,#fadad4 489px,#f8e2de 495px,#f7eae7 501px,#f6f1ef 507px,#f1f4f5 513px,#e6f1f6 519px,#def0f6 525px,#d7eef5 531px,#d0edf5 537px,#c9ebf4 543px,#c2e9f3 549px,#bce7f2 555px,#b5e5f2 561px,#afe3f1 567px)"></div><div style="height:6px;background:linear-gradient(90deg,#c0e8f3 3px,#bbe7f2 9px,#b6e5f2 15px,#b1e4f1 21px,#ade3f1 27px,#aae1f0 33px,#a6e1f0 39px,#a2e0f0 45px,#9edfef 51px,#9cdeef 57px,#99deef 63px,#97ddef 69px,#93ddee 75px,#8fdcee 81px,#89dbee 87px,#81d9ed 93px,#77d7ec 99px,#6bd5eb 105px,#5fd2ea 111px,#53d0ea 117px,#49cee9 123px,#42cce8 129px,#3dcbe8 135px,#3bcbe8 141px,#3ccbe8 147px,#3fcce8 153px,#44cde8 159px,#4acee9 165px,#52cfe9 171px,#5bd1ea 177px,#65d3eb 183px,#70d6ec 189px,#7dd8ed 195px,#89dbee 201px,#95ddef 207px,#a0dfef 213px,#aae1f0 219px,#afe3f1 225px,#b5e5f2 231px,#bae6f2 237px,#bfe8f3 243px,#c5eaf4 249px,#c9ebf4 255px,#ceecf5 261px,#d2edf5 267px,#d6eef5 273px,#daeff5 279px,#ddf0f6 285px,#e1f0f6 291px,#e4f1f6 297px,#e9f2f5 303px,#eef3f5 309px,#f4f5f4 315px,#f6f2f0 321px,#f6edeb 327px,#f7e9e6 333px,#f8e4e0 339px,#f9dfda 345px,#fadad4 351px,#fbd5ce 357px,#fcd0c8 363px,#fccbc3 369px,#fdc7be 375px,#fdc3b9 381px,#fdbfb5 387px,#fdbcb1 393px,#fdb9ae 399px,#fdb6aa 405px,#fdb4a8 411px,#fdb3a7 417px,#fdb2a6 423px,#fdb2a6 429px,#fdb2a6 435px,#fdb3a7 441px,#fdb5a9 447px,#fdb7ab 453px,#fdbaaf 459px,#fdbfb5 465px,#fdc6bc 471px,#fccdc5 477px,#fbd5ce 483px,#f9ddd8 489px,#f8e5e1 495px,#f6edea 501px,#f5f4f3 507px,#ecf3f5 513px,#e2f1f6 519px,#dbeff6 525px,#d4eef5 531px,#cdecf5 537px,#c6eaf4 543px,#bfe8f3 549px,#b9e6f2 555px,#b2e4f1 561px,#ade2f1 567px)"></div><div style="height:6px;background:linear-gradient(90deg,#c1e9f3 3px,#bde7f3 9px,#b8e6f2 15px,#b4e5f2 21px,#b1e4f1 27px,#aee3f1 33px,#abe2f0 39px,#a9e1f0 45px,#a7e1f0 51px,#a5e0f0 57px,#a3e0f0 63px,#a2e0f0 69px,#a0dfef 75px,#9edfef 81px,#9adeef 87px,#94ddee 93px,#8cdbee 99px,#81d9ed 105px,#74d6ec 111px,#67d4eb 117px,#5bd1ea 123px,#51cfe9 129px,#4acee9 135px,#45cde9 141px,#44cde8 147px,#45cde8 153px,#48cde9 159px,#4ccee9 165px,#52cfea 171px,#5ad1ea 177px,#63d3eb 183px,#6dd5ec 189px,#79d7ec 195px,#85daed 201px,#91dcee 207px,#9cdfef 213px,#a7e1f0 219px,#ade3f1 225px,#b3e4f1 231px,#b8e6f2 237px,#bee8f3 243px,#c3e9f3 249px,#c8ebf4 255px,#cdecf5 261px,#d1edf5 267px,#d5eef5 273px,#d8eff5 279px,#dceff6 285px,#dff0f6 291px,#e3f1f6 297px,#e7f2f6 303px,#ecf3f5 309px,#f2f4f4 315px,#f5f3f2 321px,#f6eeec 327px,#f7eae7 333px,#f8e5e1 339px,#f9e0db 345px,#fadad5 351px,#fbd5cf 357px,#fbd1c9 363px,#fcccc4 369px,#fdc8bf 375px,#fdc4ba 381px,#fdc0b6 387px,#fdbdb3 393px,#fdbaaf 399px,#fdb8ad 405px,#fdb6ab 411px,#fdb5aa 417px,#fdb5a9 423px,#fdb5aa 429px,#fdb6ab 435px,#fdb7ac 441px,#fdb9ae 447px,#fdbbb0 453px,#fdbfb4 459px,#fdc4ba 465px,#fdcac1 471px,#fbd1ca 477px,#fad9d3 483px,#f9e1dc 489px,#f7e8e5 495px,#f6f0ee 501px,#f2f4f4 507px,#e7f2f6 513px,#def0f6 519px,#d7eef5 525px,#d1edf5 531px,#c9ebf4 537px,#c2e9f3 543px,#bce7f2 549px,#b5e5f2 555px,#afe3f1 561px,#aae1f0 567px)"></div><div style="height:6px;background:linear-gradient(90deg,#c3e9f3 3px,#bfe8f3 9px,#bbe7f2 15px,#b7e6f2 21px,#b4e5f2 27px,#b1e4f1 33px,#afe3f1 39px,#ade3f1 45px,#ace2f1 51px,#abe2f0 57px,#abe2f0 63px,#abe2f0 69px,#abe2f0 75px,#aae2f0 81px,#aae1f0 87px,#a7e1f0 93px,#a0dfef 99px,#96ddef 105px,#88dbee 111px,#7ad8ed 117px,#6dd5ec 123px,#61d2eb 129px,#57d1ea 135px,#51cfe9 141px,#4ecfe9 147px,#4ccee9 153px,#4dcee9 159px,#50cfe9 165px,#54d0ea 171px,#5ad1ea 177px,#62d3eb 183px,#6bd4eb 189px,#75d7ec 195px,#81d9ed 201px,#8ddbee 207px,#98deef 213px,#a3e0f0 219px,#abe2f0 225px,#b1e4f1 231px,#b7e5f2 237px,#bce7f3 243px,#c2e9f3 249px,#c7eaf4 255px,#ccecf4 261px,#d0edf5 267px,#d4eef5 273px,#d7eef5 279px,#dbeff6 285px,#def0f6 291px,#e2f1f6 297px,#e6f1f6 303px,#ebf3f5 309px,#f1f4f5 315px,#f5f4f2 321px,#f6efed 327px,#f7eae8 333px,#f8e5e2 339px,#f9e0dc 345px,#fadbd6 351px,#fad6d0 357px,#fbd1ca 363px,#fccdc5 369px,#fdc9c0 375px,#fdc5bc 381px,#fdc2b8 387px,#fdbfb5 393px,#fdbdb2 399px,#fdbab0 405px,#fdb9ae 411px,#fdb9ad 417px,#fdb9ad 423px,#fdb9ae 429px,#fdbaaf 435px,#fdbcb1 441px,#fdbeb4 447px,#fdc1b7 453px,#fdc5bb 459px,#fdc9c1 465px,#fccfc8 471px,#fbd6cf 477px,#f9ddd8 483px,#f8e4e0 489px,#f7ece9 495px,#f5f3f1 501px,#edf3f5 507px,#e3f1f6 513px,#dbeff6 519px,#d4eef5 525px,#cdecf5 531px,#c6eaf4 537px,#bfe8f3 543px,#b9e6f2 549px,#b2e4f1 555px,#ace2f1 561px,#a6e1f0 567px)"></div><div style="height:6px;background:linear-gradient(90deg,#c5eaf4 3px,#c1e9f3 9px,#bee8f3 15px,#bae7f2 21px,#b7e6f2 27px,#b5e5f2 33px,#b3e4f1 39px,#b2e4f1 45px,#b1e4f1 51px,#b0e3f1 57px,#b0e3f1 63px,#b1e4f1 69px,#b1e4f1 75px,#b2e4f1 81px,#b2e4f1 87px,#b2e4f1 93px,#afe3f1 99px,#a9e1f0 105px,#9bdeef 111px,#8cdbee 117px,#7dd8ed 123px,#70d6ec 129px,#66d3eb 135px,#5ed2ea 141px,#58d1ea 147px,#55d0ea 153px,#54d0ea 159px,#55d0ea 165px,#57d0ea 171px,#5bd1ea 177px,#61d3eb 183px,#69d4eb 189px,#73d6ec 195px,#7ed8ed 201px,#8adbee 207px,#95ddef 213px,#a0dfef 219px,#aae2f0 225px,#b0e3f1 231px,#b6e5f2 237px,#bbe7f2 243px,#c1e8f3 249px,#c6eaf4 255px,#cbebf4 261px,#cfedf5 267px,#d3eef5 273px,#d7eef5 279px,#daeff6 285px,#def0f6 291px,#e1f0f6 297px,#e5f1f6 303px,#eaf2f5 309px,#f0f4f5 315px,#f5f4f3 321px,#f6f0ee 327px,#f7ebe8 333px,#f8e6e3 339px,#f9e1dd 345px,#f9dcd7 351px,#fad7d1 357px,#fbd3cb 363px,#fccec6 369px,#fdcac2 375px,#fdc7be 381px,#fdc4ba 387px,#fdc1b7 393px,#fdbfb5 399px,#fdbeb3 405px,#fdbdb2 411px,#fdbcb2 417px,#fdbdb2 423px,#fdbeb3 429px,#fdbfb5 435px,#fdc1b7 441px,#fdc4ba 447px,#fdc7be 453px,#fccbc2 459px,#fcd0c8 465px,#fbd5ce 471px,#fadbd5 477px,#f8e2dd 483px,#f7e8e5 489px,#f6efed 495px,#f4f5f4 501px,#e9f2f5 507px,#dff0f6 513px,#d8eff5 519px,#d1edf5 525px,#caebf4 531px,#c3e9f3 537px,#bce7f2 543px,#b6e5f2 549px,#afe3f1 555px,#aae1f0 561px,#a1e0ef 567px)"></div><div style="height:6px;background:linear-gradient(90deg,#c8eaf4 3px,#c4e9f3 9px,#c0e8f3 15px,#bde7f3 21px,#bbe7f2 27px,#b8e6f2 33px,#b7e5f2 39px,#b5e5f2 45px,#b5e5f2 51px,#b4e5f2 57px,#b4e5f2 63px,#b5e5f2 69px,#b6e5f2 75px,#b7e6f2 81px,#b9e6f2 87px,#b9e6f2 93px,#b8e6f2 99px,#b2e4f1 105px,#a9e1f0 111px,#9bdeef 117px,#8cdbee 123px,#7fd9ed 129px,#73d6ec 135px,#6ad4eb 141px,#64d3eb 147px,#5fd2ea 153px,#5cd1ea 159px,#5bd1ea 165px,#5cd1ea 171px,#5ed2ea 177px,#63d3eb 183px,#69d4eb 189px,#72d6ec 195px,#7dd8ed 201px,#88dbee 207px,#94ddee 213px,#9fdfef 219px,#a9e1f0 225px,#afe3f1 231px,#b5e5f2 237px,#bbe7f2 243px,#c0e8f3 249px,#c5eaf4 255px,#caebf4 261px,#cfedf5 267px,#d3eef5 273px,#d6eef5 279px,#daeff5 285px,#ddf0f6 291px,#e1f0f6 297px,#e4f1f6 303px,#eaf2f5 309px,#f0f4f5 315px,#f5f4f3 321px,#f6f0ee 327px,#f7ece9 333px,#f7e7e4 339px,#f8e2de 345px,#f9ddd8 351px,#fad8d2 357px,#fbd4cd 363px,#fcd0c8 369px,#fcccc4 375px,#fdc9c0 381px,#fdc6bd 387px,#fdc4bb 393px,#fdc2b9 399px,#fdc1b7 405px,#fdc1b7 411px,#fdc1b7 417px,#fdc1b7 423px,#fdc2b9 429px,#fdc4bb 435px,#fdc6bd 441px,#fdc9c1 447px,#fccdc5 453px,#fbd1ca 459px,#fbd6cf 465px,#fadbd5 471px,#f9e0db 477px,#f8e6e2 483px,#f7ece9 489px,#f5f2f1 495px,#eff4f5 501px,#e4f1f6 507px,#dceff6 513px,#d5eef5 519px,#ceecf5 525px,#c7eaf4 531px,#c0e8f3 537px,#b9e6f2 543px,#b3e4f1 549px,#ade2f1 555px,#a6e1f0 561px,#9ddfef 567px)"></div><div style="height:6px;background:linear-gradient(90deg,#caebf4 3px,#c6eaf4 9px,#c3e9f3 15px,#c0e8f3 21px,#bee8f3 27px,#bce7f2 33px,#bae6f2 39px,#b9e6f2 45px,#b8e6f2 51px,#b8e6f2 57px,#b8e6f2 63px,#b8e6f2 69px,#b9e6f2 75px,#bae7f2 81px,#bce7f2 87px,#bce7f3 93px,#bbe7f2 99px,#b6e5f2 105px,#afe3f1 111px,#a5e0f0 117px,#98deef 123px,#8bdbee 129px,#80d9ed 135px,#76d7ec 141px,#6fd5ec 147px,#69d4eb 153px,#65d3eb 159px,#63d3eb 165px,#62d3eb 171px,#63d3eb 177px,#66d3eb 183px,#6bd5eb 189px,#73d6ec 195px,#7ed8ed 201px,#89dbee 207px,#94ddef 213px,#a0dfef 219px,#a9e1f0 225px,#b0e3f1 231px,#b5e5f2 237px,#bbe7f2 243px,#c0e8f3 249px,#c5eaf4 255px,#caebf4 261px,#cfedf5 267px,#d3eef5 273px,#d6eef5 279px,#d9eff5 285px,#ddf0f6 291px,#e0f0f6 297px,#e4f1f6 303px,#e9f2f5 309px,#eff4f5 315px,#f5f5f4 321px,#f6f1ef 327px,#f6edea 333px,#f7e8e5 339px,#f8e3df 345px,#f9dfda 351px,#fadad4 357px,#fbd5cf 363px,#fbd1ca 369px,#fccec6 375px,#fccbc3 381px,#fdc9c0 387px,#fdc7be 393px,#fdc6bd 399px,#fdc5bc 405px,#fdc5bb 411px,#fdc5bc 417px,#fdc6bd 423px,#fdc7be 429px,#fdc9c0 435px,#fcccc3 441px,#fccfc7 447px,#fbd3cc 453px,#fad7d1 459px,#fadbd6 465px,#f9e0db 471px,#f8e5e1 477px,#f7eae7 483px,#f6f0ee 489px,#f4f5f4 495px,#eaf2f5 501px,#e1f0f6 507px,#d9eff5 513px,#d2edf5 519px,#cbebf4 525px,#c4e9f3 531px,#bde7f3 537px,#b6e5f2 543px,#b0e3f1 549px,#aae2f0 555px,#a2e0f0 561px,#99deef 567px)"></div><div style="height:6px;background:linear-gradient(90deg,#ccecf4 3px,#c9ebf4 9px,#c6eaf4 15px,#c3e9f3 21px,#c1e8f3 27px,#bfe8f3 33px,#bde7f3 39px,#bce7f2 45px,#bbe7f2 51px,#bae6f2 57px,#bae6f2 63px,#bae6f2 69px,#bbe7f2 75px,#bbe7f2 81px,#bce7f3 87px,#bce7f3 93px,#bbe7f2 99px,#b7e6f2 105px,#b2e4f1 111px,#abe2f0 117px,#a1e0ef 123px,#96ddef 129px,#8bdbee 135px,#82d9ed 141px,#7ad8ed 147px,#74d6ec 153px,#6fd5ec 159px,#6cd5eb 165px,#6ad4eb 171px,#6ad4eb 177px,#6cd5eb 183px,#70d5ec 189px,#78d7ec 195px,#81d9ed 201px,#8cdbee 207px,#97deef 213px,#a2e0f0 219px,#aae2f0 225px,#b0e4f1 231px,#b6e5f2 237px,#bce7f2 243px,#c1e8f3 249px,#c6eaf4 255px,#cbebf4 261px,#cfedf5 267px,#d3eef5 273px,#d6eef5 279px,#d9eff5 285px,#ddf0f6 291px,#e0f0f6 297px,#e4f1f6 303px,#e9f2f5 309px,#eef3f5 315px,#f5f5f4 321px,#f6f2f0 327px,#f6eeeb 333px,#f7e9e6 339px,#f8e5e1 345px,#f9e0dc 351px,#f9dcd6 357px,#fad8d1 363px,#fbd4cd 369px,#fbd1c9 375px,#fccec7 381px,#fccdc4 387px,#fccbc3 393px,#fdcac1 399px,#fdc9c1 405px,#fdc9c0 411px,#fdcac1 417px,#fdcbc2 423px,#fcccc4 429px,#fccec7 435px,#fbd1ca 441px,#fbd4ce 447px,#fad8d2 453px,#f9dcd6 459px,#f9e0db 465px,#f8e4e0 471px,#f7e9e6 477px,#f6eeec 483px,#f5f3f2 489px,#eff3f5 495px,#e5f1f6 501px,#ddf0f6 507px,#d6eef5 513px,#cfedf5 519px,#c8ebf4 525px,#c1e8f3 531px,#bae6f2 537px,#b3e4f1 543px,#ade3f1 549px,#a7e1f0 555px,#9edfef 561px,#95ddef 567px)"></div><div style="height:6px;background:linear-gradient(90deg,#ceecf5 3px,#cbecf4 9px,#c8ebf4 15px,#c6eaf4 21px,#c3e9f3 27px,#c1e9f3 33px,#bfe8f3 39px,#bee8f3 45px,#bde7f3 51px,#bce7f3 57px,#bce7f2 63px,#bbe7f2 69px,#bbe7f2 75px,#bbe7f2 81px,#bbe7f2 87px,#bbe7f2 93px,#bae6f2 99px,#b7e6f2 105px,#b3e4f1 111px,#aee3f1 117px,#a8e1f0 123px,#9edfef 129px,#95ddef 135px,#8ddbee 141px,#85daed 147px,#7fd9ed 153px,#7ad8ed 159px,#77d7ec 165px,#75d6ec 171px,#74d6ec 177px,#75d7ec 183px,#79d7ec 189px,#7fd9ed 195px,#88daee 201px,#92dcee 207px,#9cdeef 213px,#a6e1f0 219px,#ace2f1 225px,#b2e4f1 231px,#b8e6f2 237px,#bde7f3 243px,#c2e9f3 249px,#c7eaf4 255px,#cbecf4 261px,#d0edf5 267px,#d3eef5 273px,#d6eef5 279px,#daeff5 285px,#ddf0f6 291px,#e0f0f6 297px,#e4f1f6 303px,#e8f2f6 309px,#edf3f5 315px,#f3f5f4 321px,#f5f3f1 327px,#f6efed 333px,#f7ebe8 339px,#f8e7e3 345px,#f8e2de 351px,#f9ded9 357px,#fadad5 363px,#fad7d1 369px,#fbd4cd 375px,#fbd2cb 381px,#fcd0c9 387px,#fccfc7 393px,#fccec6 399px,#fccec6 405px,#fccec6 411px,#fccfc7 417px,#fcd0c8 423px,#fbd1ca 429px,#fbd4cd 435px,#fad6d0 441px,#fad9d3 447px,#f9ddd7 453px,#f9e0dc 459px,#f8e4e1 465px,#f7e9e5 471px,#f6edeb 477px,#f6f2f0 483px,#f2f4f4 489px,#e9f2f5 495px,#e1f0f6 501px,#daeff5 507px,#d3eef5 513px,#ccecf4 519px,#c5eaf4 525px,#bee7f3 531px,#b7e5f2 537px,#b1e4f1 543px,#abe2f0 549px,#a3e0f0 555px,#99deef 561px,#91dcee 567px)"></div><div style="height:6px;background:linear-gradient(90deg,#d0edf5 3px,#cdecf5 9px,#cbebf4 15px,#c8ebf4 21px,#c6eaf4 27px,#c4e9f3 33px,#c2e9f3 39px,#c0e8f3 45px,#bfe8f3 51px,#bee8f3 57px,#bde7f3 63px,#bce7f3 69px,#bbe7f2 75px,#bae6f2 81px,#b9e6f2 87px,#b9e6f2 93px,#b8e6f2 99px,#b7e5f2 105px,#b4e5f2 111px,#b0e3f1 117px,#ace2f0 123px,#a6e1f0 129px,#9edfef 135px,#97deef 141px,#91dcee 147px,#8bdbee 153px,#86daed 159px,#83d9ed 165px,#80d9ed 171px,#7fd9ed 177px,#81d9ed 183px,#84daed 189px,#89dbee 195px,#91dcee 201px,#99deef 207px,#a2e0f0 213px,#aae2f0 219px,#afe3f1 225px,#b5e5f2 231px,#bae6f2 237px,#bfe8f3 243px,#c3e9f3 249px,#c8ebf4 255px,#ccecf5 261px,#d0edf5 267px,#d4eef5 273px,#d7eef5 279px,#daeff5 285px,#ddf0f6 291px,#e0f0f6 297px,#e3f1f6 303px,#e7f2f6 309px,#ecf3f5 315px,#f2f4f4 321px,#f5f4f2 327px,#f6f0ef 333px,#f6edea 339px,#f7e9e6 345px,#f8e5e1 351px,#f9e1dd 357px,#f9ded8 363px,#fadad5 369px,#fad8d2 375px,#fbd6cf 381px,#fbd4cd 387px,#fbd3cc 393px,#fbd3cb 399px,#fbd2cb 405px,#fbd3cc 411px,#fbd3cc 417px,#fbd5ce 423px,#fad6d0 429px,#fad8d2 435px,#fadbd5 441px,#f9ded9 447px,#f9e1dd 453px,#f8e5e1 459px,#f7e9e5 465px,#f6edea 471px,#f6f1ef 477px,#f5f5f4 483px,#ecf3f5 489px,#e4f1f6 495px,#ddf0f6 501px,#d6eef5 507px,#d0edf5 513px,#c9ebf4 519px,#c2e9f3 525px,#bbe7f2 531px,#b4e5f2 537px,#aee3f1 543px,#a8e1f0 549px,#9fdfef 555px,#96ddef 561px,#8ddbee 567px)"></div><div style="height:6px;background:linear-gradient(90deg,#d2edf5 3px,#d0edf5 9px,#cdecf5 15px,#caebf4 21px,#c8ebf4 27px,#c6eaf4 33px,#c4e9f4 39px,#c3e9f3 45px,#c1e9f3 51px,#c0e8f3 57px,#bee8f3 63px,#bde7f3 69px,#bce7f2 75px,#bae6f2 81px,#b9e6f2 87px,#b8e6f2 93px,#b8e6f2 99px,#b7e5f2 105px,#b5e5f2 111px,#b3e4f1 117px,#afe3f1 123px,#abe2f0 129px,#a7e1f0 135px,#a1e0ef 141px,#9cdeef 147px,#97ddef 153px,#92ddee 159px,#8fdcee 165px,#8ddcee 171px,#8cdbee 177px,#8ddcee 183px,#90dcee 189px,#95ddef 195px,#9bdeef 201px,#a2e0f0 207px,#a9e1f0 213px,#aee3f1 219px,#b3e4f1 225px,#b8e6f2 231px,#bce7f3 237px,#c1e8f3 243px,#c5eaf4 249px,#c9ebf4 255px,#cdecf5 261px,#d1edf5 267px,#d4eef5 273px,#d7eef5 279px,#daeff6 285px,#ddf0f6 291px,#e0f0f6 297px,#e3f1f6 303px,#e6f2f6 309px,#ebf3f5 315px,#f0f4f5 321px,#f5f5f4 327px,#f6f2f1 333px,#f6efed 339px,#f7ebe9 345px,#f7e8e4 351px,#f8e4e0 357px,#f9e1dd 363px,#f9ded9 369px,#f9dcd6 375px,#fadad4 381px,#fad8d2 387px,#fad7d1 393px,#fad7d1 399px,#fad7d1 405px,#fad7d1 411px,#fad8d2 417px,#fad9d3 423px,#fadbd5 429px,#f9ddd8 435px,#f9e0db 441px,#f8e2de 447px,#f8e5e2 453px,#f7e9e6 459px,#f7edea 465px,#f6f0ee 471px,#f5f4f3 477px,#eff3f5 483px,#e7f2f6 489px,#e0f0f6 495px,#d9eff5 501px,#d3eef5 507px,#cdecf5 513px,#c5eaf4 519px,#bfe8f3 525px,#b8e6f2 531px,#b2e4f1 537px,#ace2f0 543px,#a4e0f0 549px,#9bdeef 555px,#92dcee 561px,#89dbee 567px)"></div><div style="height:6px;background:linear-gradient(90deg,#d4eef5 3px,#d2edf5 9px,#cfedf5 15px,#cdecf5 21px,#caebf4 27px,#c8ebf4 33px,#c6eaf4 39px,#c5eaf4 45px,#c3e9f3 51px,#c1e9f3 57px,#c0e8f3 63px,#bee8f3 69px,#bde7f3 75px,#bbe7f2 81px,#bae6f2 87px,#b9e6f2 93px,#b9e6f2 99px,#b8e6f2 105px,#b7e5f2 111px,#b5e5f2 117px,#b3e4f1 123px,#b0e3f1 129px,#ade3f1 135px,#aae2f0 141px,#a7e1f0 147px,#a3e0f0 153px,#9fdfef 159px,#9cdfef 165px,#9bdeef 171px,#9adeef 177px,#9bdeef 183px,#9ddfef 189px,#a1e0f0 195px,#a7e1f0 201px,#abe2f0 207px,#afe3f1 213px,#b3e4f1 219px,#b7e6f2 225px,#bbe7f2 231px,#bfe8f3 237px,#c3e9f3 243px,#c7eaf4 249px,#cbebf4 255px,#cfedf5 261px,#d2edf5 267px,#d5eef5 273px,#d8eff5 279px,#daeff6 285px,#ddf0f6 291px,#e0f0f6 297px,#e2f1f6 303px,#e5f1f6 309px,#e9f2f5 315px,#edf3f5 321px,#f2f4f4 327px,#f5f4f3 333px,#f6f1ef 339px,#f6eeec 345px,#f7ebe8 351px,#f7e8e4 357px,#f8e5e1 363px,#f8e2de 369px,#f9e0db 375px,#f9ded9 381px,#f9ddd7 387px,#f9dcd6 393px,#fadbd6 399px,#fadbd6 405px,#f9dcd6 411px,#f9ddd7 417px,#f9ded9 423px,#f9e0db 429px,#f8e1dd 435px,#f8e4e0 441px,#f8e7e3 447px,#f7e9e6 453px,#f6edea 459px,#f6f0ee 465px,#f5f4f3 471px,#f0f4f5 477px,#e9f2f5 483px,#e2f1f6 489px,#dceff6 495px,#d6eef5 501px,#d0edf5 507px,#c9ebf4 513px,#c2e9f3 519px,#bce7f2 525px,#b5e5f2 531px,#afe3f1 537px,#a9e1f0 543px,#a0dfef 549px,#97deef 555px,#8edcee 561px,#86daed 567px)"></div><div style="height:6px;background:linear-gradient(90deg,#d6eef5 3px,#d3eef5 9px,#d1edf5 15px,#cfedf5 21px,#cdecf5 27px,#cbebf4 33px,#c9ebf4 39px,#c7eaf4 45px,#c5eaf4 51px,#c3e9f3 57px,#c2e9f3 63px,#c0e8f3 69px,#bfe8f3 75px,#bde7f3 81px,#bce7f2 87px,#bbe7f2 93px,#bbe7f2 99px,#bae6f2 105px,#b9e6f2 111px,#b8e6f2 117px,#b7e5f2 123px,#b5e5f2 129px,#b2e4f1 135px,#b0e3f1 141px,#aee3f1 147px,#ace2f0 153px,#aae2f0 159px,#a9e1f0 165px,#a8e1f0 171px,#a8e1f0 177px,#a8e1f0 183px,#aae2f0 189px,#ace2f0 195px,#aee3f1 201px,#b2e4f1 207px,#b5e5f2 213px,#b8e6f2 219px,#bce7f2 225px,#bfe8f3 231px,#c2e9f3 237px,#c6eaf4 243px,#c9ebf4 249px,#cdecf5 255px,#d0edf5 261px,#d3eef5 267px,#d5eef5 273px,#d8eff5 279px,#daeff6 285px,#ddf0f6 291px,#dff0f6 297px,#e2f1f6 303px,#e4f1f6 309px,#e8f2f6 315px,#ebf3f5 321px,#eff4f5 327px,#f3f5f4 333px,#f5f3f2 339px,#f6f1ef 345px,#f6eeec 351px,#f7ebe8 357px,#f7e8e5 363px,#f8e6e2 369px,#f8e3df 375px,#f8e2dd 381px,#f9e1dc 387px,#f9e0db 393px,#f9e0db 399px,#f9e0db 405px,#f9e0dc 411px,#f9e1dd 417px,#f8e2de 423px,#f8e4e0 429px,#f8e6e2 435px,#f7e8e5 441px,#f7eae8 447px,#f6edeb 453px,#f6f0ee 459px,#f5f4f2 465px,#f1f4f4 471px,#ebf3f5 477px,#e4f1f6 483px,#def0f6 489px,#d8eff5 495px,#d3eef5 501px,#ccecf5 507px,#c6eaf4 513px,#bfe8f3 519px,#b9e6f2 525px,#b3e4f1 531px,#ade2f1 537px,#a6e1f0 543px,#9ddfef 549px,#94ddee 555px,#8bdbee 561px,#82d9ed 567px)"></div><div style="height:6px;background:linear-gradient(90deg,#d7eef5 3px,#d5eef5 9px,#d3eef5 15px,#d1edf5 21px,#cfedf5 27px,#cdecf5 33px,#cbebf4 39px,#c9ebf4 45px,#c7eaf4 51px,#c6eaf4 57px,#c4e9f3 63px,#c2e9f3 69px,#c1e8f3 75px,#c0e8f3 81px,#bfe8f3 87px,#bee8f3 93px,#bde7f3 99px,#bde7f3 105px,#bde7f3 111px,#bce7f2 117px,#bbe7f2 123px,#b9e6f2 129px,#b8e6f2 135px,#b6e5f2 141px,#b5e5f2 147px,#b3e4f1 153px,#b2e4f1 159px,#b1e4f1 165px,#b0e4f1 171px,#b0e3f1 177px,#b1e4f1 183px,#b2e4f1 189px,#b3e4f1 195px,#b6e5f2 201px,#b8e6f2 207px,#bbe7f2 213px,#bee8f3 219px,#c0e8f3 225px,#c3e9f3 231px,#c6eaf4 237px,#c9ebf4 243px,#cbecf4 249px,#ceecf5 255px,#d1edf5 261px,#d3eef5 267px,#d6eef5 273px,#d8eff5 279px,#dbeff6 285px,#ddf0f6 291px,#dff0f6 297px,#e1f0f6 303px,#e3f1f6 309px,#e6f1f6 315px,#e9f2f5 321px,#ecf3f5 327px,#f0f4f5 333px,#f4f5f4 339px,#f5f3f2 345px,#f6f1ef 351px,#f6eeec 357px,#f7ebe9 363px,#f7e9e6 369px,#f7e7e4 375px,#f8e5e2 381px,#f8e4e0 387px,#f8e4e0 393px,#f8e4df 399px,#f8e4e0 405px,#f8e4e0 411px,#f8e5e1 417px,#f8e6e3 423px,#f7e8e4 429px,#f7eae6 435px,#f7ece9 441px,#f6eeec 447px,#f6f1ef 453px,#f5f4f2 459px,#f2f4f4 465px,#ecf3f5 471px,#e5f1f6 477px,#e0f0f6 483px,#daeff6 489px,#d5eef5 495px,#d0edf5 501px,#c9ebf4 507px,#c3e9f3 513px,#bce7f3 519px,#b6e5f2 525px,#b0e3f1 531px,#aae2f0 537px,#a2e0f0 543px,#99deef 549px,#90dcee 555px,#87daee 561px,#7fd9ed 567px)"></div><div style="height:6px;background:linear-gradient(90deg,#d9eff5 3px,#d7eef5 9px,#d5eef5 15px,#d3eef5 21px,#d1edf5 27px,#cfedf5 33px,#cdecf5 39px,#ccecf4 45px,#caebf4 51px,#c8ebf4 57px,#c6eaf4 63px,#c5eaf4 69px,#c4e9f3 75px,#c3e9f3 81px,#c2e9f3 87px,#c1e9f3 93px,#c1e8f3 99px,#c0e8f3 105px,#c0e8f3 111px,#c0e8f3 117px,#bfe8f3 123px,#bee8f3 129px,#bde7f3 135px,#bce7f3 141px,#bbe7f2 147px,#bae7f2 153px,#bae6f2 159px,#b9e6f2 165px,#b8e6f2 171px,#b8e6f2 177px,#b9e6f2 183px,#bae6f2 189px,#bbe7f2 195px,#bde7f3 201px,#bfe8f3 207px,#c1e9f3 213px,#c3e9f3 219px,#c5eaf4 225px,#c7eaf4 231px,#c9ebf4 237px,#cbecf4 243px,#ceecf5 249px,#d0edf5 255px,#d2edf5 261px,#d4eef5 267px,#d6eef5 273px,#d9eff5 279px,#dbeff6 285px,#ddf0f6 291px,#dff0f6 297px,#e1f0f6 303px,#e2f1f6 309px,#e4f1f6 315px,#e7f2f6 321px,#e9f2f5 327px,#ecf3f5 333px,#eff4f5 339px,#f3f5f4 345px,#f5f3f2 351px,#f6f1ef 357px,#f6eeec 363px,#f7ecea 369px,#f7eae7 375px,#f7e9e5 381px,#f7e8e4 387px,#f7e7e4 393px,#f7e7e4 399px,#f7e7e4 405px,#f7e8e5 411px,#f7e9e6 417px,#f7eae7 423px,#f7ebe9 429px,#f6edeb 435px,#f6efed 441px,#f6f1f0 447px,#f5f4f3 453px,#f2f4f4 459px,#ecf3f5 465px,#e6f2f6 471px,#e1f0f6 477px,#dceff6 483px,#d7eef5 489px,#d2edf5 495px,#ccecf4 501px,#c6eaf4 507px,#c0e8f3 513px,#b9e6f2 519px,#b3e4f1 525px,#aee3f1 531px,#a8e1f0 537px,#9edfef 543px,#95ddef 549px,#8ddbee 555px,#84daed 561px,#7cd8ed 567px)"></div><div style="height:6px;background:linear-gradient(90deg,#dbeff6 3px,#d9eff5 9px,#d7eef5 15px,#d5eef5 21px,#d3eef5 27px,#d2edf5 33px,#d0edf5 39px,#ceecf5 45px,#ccecf5 51px,#cbebf4 57px,#c9ebf4 63px,#c8ebf4 69px,#c7eaf4 75px,#c6eaf4 81px,#c5eaf4 87px,#c4eaf4 93px,#c4e9f4 99px,#c4e9f3 105px,#c4e9f3 111px,#c4e9f3 117px,#c3e9f3 123px,#c3e9f3 129px,#c3e9f3 135px,#c2e9f3 141px,#c2e9f3 147px,#c1e9f3 153px,#c1e8f3 159px,#c0e8f3 165px,#c0e8f3 171px,#c0e8f3 177px,#c0e8f3 183px,#c1e8f3 189px,#c2e9f3 195px,#c3e9f3 201px,#c5eaf4 207px,#c7eaf4 213px,#c8ebf4 219px,#c9ebf4 225px,#cbebf4 231px,#ccecf5 237px,#ceecf5 243px,#d0edf5 249px,#d1edf5 255px,#d3eef5 261px,#d5eef5 267px,#d7eef5 273px,#d9eff5 279px,#dbeff6 285px,#ddf0f6 291px,#def0f6 297px,#e0f0f6 303px,#e2f1f6 309px,#e3f1f6 315px,#e5f1f6 321px,#e7f2f6 327px,#e9f2f5 333px,#ecf3f5 339px,#eff4f5 345px,#f3f5f4 351px,#f5f3f2 357px,#f6f1ef 363px,#f6efed 369px,#f6edeb 375px,#f7ece9 381px,#f7ebe8 387px,#f7eae7 393px,#f7eae7 399px,#f7ebe8 405px,#f7ebe9 411px,#f7ecea 417px,#f6edeb 423px,#f6efec 429px,#f6f0ee 435px,#f5f2f1 441px,#f5f4f3 447px,#f1f4f4 453px,#ecf3f5 459px,#e7f2f6 465px,#e2f1f6 471px,#ddf0f6 477px,#d9eff5 483px,#d4eef5 489px,#cfedf5 495px,#c9ebf4 501px,#c3e9f3 507px,#bde7f3 513px,#b7e5f2 519px,#b1e4f1 525px,#abe2f0 531px,#a4e0f0 537px,#9bdeef 543px,#92ddee 549px,#89dbee 555px,#81d9ed 561px,#79d7ec 567px)"></div><div style="height:6px;background:linear-gradient(90deg,#ddf0f6 3px,#dbeff6 9px,#d9eff5 15px,#d7eef5 21px,#d5eef5 27px,#d4eef5 33px,#d2edf5 39px,#d1edf5 45px,#cfedf5 51px,#ceecf5 57px,#ccecf5 63px,#cbebf4 69px,#caebf4 75px,#c9ebf4 81px,#c8ebf4 87px,#c8ebf4 93px,#c8ebf4 99px,#c8ebf4 105px,#c8ebf4 111px,#c8ebf4 117px,#c8ebf4 123px,#c8ebf4 129px,#c8ebf4 135px,#c8ebf4 141px,#c8ebf4 147px,#c8ebf4 153px,#c8eaf4 159px,#c7eaf4 165px,#c7eaf4 171px,#c7eaf4 177px,#c7eaf4 183px,#c7eaf4 189px,#c8ebf4 195px,#c9ebf4 201px,#cbebf4 207px,#ccecf4 213px,#ccecf5 219px,#cdecf5 225px,#ceecf5 231px,#cfedf5 237px,#d0edf5 243px,#d1edf5 249px,#d3eef5 255px,#d4eef5 261px,#d6eef5 267px,#d7eef5 273px,#d9eff5 279px,#dbeff6 285px,#ddf0f6 291px,#def0f6 297px,#e0f0f6 303px,#e1f0f6 309px,#e2f1f6 315px,#e4f1f6 321px,#e5f1f6 327px,#e7f2f6 333px,#e9f2f5 339px,#ecf3f5 345px,#f0f4f5 351px,#f4f5f4 357px,#f5f3f2 363px,#f6f1ef 369px,#f6efed 375px,#f6eeec 381px,#f6edeb 387px,#f6edea 393px,#f6edea 399px,#f6edeb 405px,#f6eeec 411px,#f6efed 417px,#f6f0ee 423px,#f6f1f0 429px,#f5f3f2 435px,#f5f5f4 441px,#f1f4f4 447px,#ecf3f5 453px,#e7f2f6 459px,#e3f1f6 465px,#def0f6 471px,#daeff5 477px,#d5eef5 483px,#d1edf5 489px,#cbecf4 495px,#c5eaf4 501px,#c0e8f3 507px,#bae6f2 513px,#b4e5f2 519px,#aee3f1 525px,#a9e1f0 531px,#a0dfef 537px,#97deef 543px,#8fdcee 549px,#86daed 555px,#7ed8ed 561px,#76d7ec 567px)"></div><div style="height:6px;background:linear-gradient(90deg,#dff0f6 3px,#ddf0f6 9px,#dbeff6 15px,#d9eff5 21px,#d7eef5 27px,#d6eef5 33px,#d4eef5 39px,#d3eef5 45px,#d2edf5 51px,#d0edf5 57px,#cfedf5 63px,#ceecf5 69px,#cdecf5 75px,#ccecf5 81px,#ccecf4 87px,#ccecf4 93px,#ccecf4 99px,#ccecf4 105px,#ccecf4 111px,#ccecf4 117px,#ccecf5 123px,#cdecf5 129px,#cdecf5 135px,#cdecf5 141px,#cdecf5 147px,#ceecf5 153px,#ceecf5 159px,#ceecf5 165px,#cdecf5 171px,#cdecf5 177px,#cdecf5 183px,#cdecf5 189px,#cdecf5 195px,#ceecf5 201px,#cfedf5 207px,#d0edf5 213px,#d0edf5 219px,#d0edf5 225px,#d0edf5 231px,#d1edf5 237px,#d2edf5 243px,#d3eef5 249px,#d4eef5 255px,#d5eef5 261px,#d7eef5 267px,#d8eff5 273px,#daeff5 279px,#dbeff6 285px,#ddf0f6 291px,#def0f6 297px,#dff0f6 303px,#e1f0f6 309px,#e2f1f6 315px,#e3f1f6 321px,#e4f1f6 327px,#e5f1f6 333px,#e7f2f6 339px,#eaf2f5 345px,#edf3f5 351px,#f1f4f4 357px,#f5f5f4 363px,#f5f3f2 369px,#f6f1f0 375px,#f6f0ee 381px,#f6efed 387px,#f6efed 393px,#f6efed 399px,#f6efee 405px,#f6f0ee 411px,#f6f1f0 417px,#f5f3f1 423px,#f5f4f3 429px,#f4f5f4 435px,#f0f4f5 441px,#ecf3f5 447px,#e8f2f6 453px,#e3f1f6 459px,#dff0f6 465px,#dbeff6 471px,#d7eef5 477px,#d2edf5 483px,#cdecf5 489px,#c8ebf4 495px,#c2e9f3 501px,#bde7f3 507px,#b7e6f2 513px,#b2e4f1 519px,#ace2f1 525px,#a6e1f0 531px,#9ddfef 537px,#94ddee 543px,#8cdbee 549px,#83d9ed 555px,#7bd8ed 561px,#73d6ec 567px)"></div><div style="height:6px;background:linear-gradient(90deg,#e1f0f6 3px,#dff0f6 9px,#ddf0f6 15px,#dbeff6 21px,#d9eff5 27px,#d8eff5 33px,#d6eef5 39px,#d5eef5 45px,#d4eef5 51px,#d3eef5 57px,#d2edf5 63px,#d1edf5 69px,#d0edf5 75px,#d0edf5 81px,#cfedf5 87px,#cfedf5 93px,#cfedf5 99px,#cfedf5 105px,#d0edf5 111px,#d0edf5 117px,#d0edf5 123px,#d1edf5 129px,#d1edf5 135px,#d2edf5 141px,#d2edf5 147px,#d2edf5 153px,#d3eef5 159px,#d3eef5 165px,#d2edf5 171px,#d2edf5 177px,#d2edf5 183px,#d2edf5 189px,#d2edf5 195px,#d2edf5 201px,#d2edf5 207px,#d2edf5 213px,#d2edf5 219px,#d2edf5 225px,#d2edf5 231px,#d3eef5 237px,#d3eef5 243px,#d4eef5 249px,#d5eef5 255px,#d6eef5 261px,#d7eef5 267px,#d9eff5 273px,#daeff6 279px,#dbeff6 285px,#ddf0f6 291px,#def0f6 297px,#dff0f6 303px,#e1f0f6 309px,#e2f1f6 315px,#e3f1f6 321px,#e4f1f6 327px,#e5f1f6 333px,#e7f2f6 339px,#e9f2f5 345px,#ecf3f5 351px,#eff4f5 357px,#f3f5f4 363px,#f5f4f3 369px,#f5f3f1 375px,#f6f2f0 381px,#f6f1ef 387px,#f6f1ef 393px,#f6f1ef 399px,#f6f1f0 405px,#f5f2f1 411px,#f5f3f2 417px,#f5f5f4 423px,#f2f4f4 429px,#eff4f5 435px,#ecf3f5 441px,#e8f2f6 447px,#e3f1f6 453px,#e0f0f6 459px,#dceff6 465px,#d8eff5 471px,#d4eef5 477px,#cfedf5 483px,#caebf4 489px,#c5eaf4 495px,#bfe8f3 501px,#bae6f2 507px,#b5e5f2 513px,#afe3f1 519px,#aae2f0 525px,#a2e0f0 531px,#99deef 537px,#91dcee 543px,#88dbee 549px,#80d9ed 555px,#78d7ec 561px,#70d6ec 567px)"></div><div style="height:6px;background:linear-gradient(90deg,#e3f1f6 3px,#e1f0f6 9px,#dff0f6 15px,#ddf0f6 21px,#dceff6 27px,#daeff6 33px,#d9eff5 39px,#d7eef5 45px,#d6eef5 51px,#d5eef5 57px,#d4eef5 63px,#d4eef5 69px,#d3eef5 75px,#d3eef5 81px,#d2edf5 87px,#d2edf5 93px,#d2edf5 99px,#d3eef5 105px,#d3eef5 111px,#d3eef5 117px,#d4eef5 123px,#d4eef5 129px,#d5eef5 135px,#d5eef5 141px,#d6eef5 147px,#d6eef5 153px,#d6eef5 159px,#d6eef5 165px,#d6eef5 171px,#d6eef5 177px,#d5eef5 183px,#d5eef5 189px,#d5eef5 195px,#d5eef5 201px,#d5eef5 207px,#d4eef5 213px,#d4eef5 219px,#d4eef5 225px,#d4eef5 231px,#d4eef5 237px,#d4eef5 243px,#d5eef5 249px,#d6eef5 255px,#d7eef5 261px,#d8eff5 267px,#d9eff5 273px,#daeff6 279px,#dceff6 285px,#ddf0f6 291px,#def0f6 297px,#e0f0f6 303px,#e1f0f6 309px,#e2f1f6 315px,#e3f1f6 321px,#e4f1f6 327px,#e5f1f6 333px,#e7f2f6 339px,#e9f2f5 345px,#ebf3f5 351px,#eef3f5 357px,#f1f4f4 363px,#f4f5f4 369px,#f5f4f3 375px,#f5f3f2 381px,#f5f2f1 387px,#f6f2f1 393px,#f5f3f1 399px,#f5f3f2 405px,#f5f4f3 411px,#f4f5f4 417px,#f1f4f4 423px,#eef3f5 429px,#ebf3f5 435px,#e7f2f6 441px,#e4f1f6 447px,#e0f0f6 453px,#ddf0f6 459px,#d9eff5 465px,#d5eef5 471px,#d1edf5 477px,#ccecf5 483px,#c7eaf4 489px,#c2e9f3 495px,#bde7f3 501px,#b7e6f2 507px,#b2e4f1 513px,#ade2f1 519px,#a7e1f0 525px,#9fdfef 531px,#96ddef 537px,#8edcee 543px,#85daed 549px,#7dd8ed 555px,#75d7ec 561px,#6dd5ec 567px)"></div><div style="height:6px;background:linear-gradient(90deg,#e4f1f6 3px,#e3f1f6 9px,#e1f0f6 15px,#dff0f6 21px,#def0f6 27px,#dceff6 33px,#dbeff6 39px,#daeff5 45px,#d9eff5 51px,#d8eff5 57px,#d7eef5 63px,#d6eef5 69px,#d6eef5 75px,#d5eef5 81px,#d5eef5 87px,#d5eef5 93px,#d5eef5 99px,#d5eef5 105px,#d6eef5 111px,#d6eef5 117px,#d7eef5 123px,#d7eef5 129px,#d8eff5 135px,#d8eff5 141px,#d9eff5 147px,#d9eff5 153px,#d9eff5 159px,#d9eff5 165px,#d9eff5 171px,#d9eff5 177px,#d8eff5 183px,#d8eff5 189px,#d7eef5 195px,#d7eef5 201px,#d7eef5 207px,#d6eef5 213px,#d6eef5 219px,#d5eef5 225px,#d5eef5 231px,#d5eef5 237px,#d5eef5 243px,#d6eef5 249px,#d6eef5 255px,#d7eef5 261px,#d8eff5 267px,#daeff5 273px,#dbeff6 279px,#dceff6 285px,#def0f6 291px,#dff0f6 297px,#e0f0f6 303px,#e1f0f6 309px,#e2f1f6 315px,#e3f1f6 321px,#e4f1f6 327px,#e5f1f6 333px,#e7f2f6 339px,#e9f2f5 345px,#ebf3f5 351px,#edf3f5 357px,#f0f4f5 363px,#f2f4f4 369px,#f4f5f4 375px,#f5f4f3 381px,#f5f4f3 387px,#f5f4f3 393px,#f5f4f3 399px,#f5f5f4 405px,#f3f5f4 411px,#f1f4f5 417px,#eef3f5 423px,#ebf3f5 429px,#e7f2f6 435px,#e4f1f6 441px,#e1f0f6 447px,#ddf0f6 453px,#daeff5 459px,#d6eef5 465px,#d2edf5 471px,#ceecf5 477px,#c9ebf4 483px,#c4e9f4 489px,#bfe8f3 495px,#bae6f2 501px,#b5e5f2 507px,#b0e3f1 513px,#abe2f0 519px,#a4e0f0 525px,#9bdeef 531px,#93ddee 537px,#8bdbee 543px,#83d9ed 549px,#7bd8ed 555px,#73d6ec 561px,#6bd4eb 567px)"></div><div style="height:6px;background:linear-gradient(90deg,#e7f2f6 3px,#e5f1f6 9px,#e3f1f6 15px,#e1f0f6 21px,#e0f0f6 27px,#dff0f6 33px,#ddf0f6 39px,#dceff6 45px,#dbeff6 51px,#daeff6 57px,#daeff5 63px,#d9eff5 69px,#d8eff5 75px,#d8eff5 81px,#d8eff5 87px,#d8eff5 93px,#d8eff5 99px,#d8eff5 105px,#d9eff5 111px,#d9eff5 117px,#daeff5 123px,#daeff6 129px,#dbeff6 135px,#dbeff6 141px,#dbeff6 147px,#dceff6 153px,#dceff6 159px,#dceff6 165px,#dceff6 171px,#dbeff6 177px,#dbeff6 183px,#daeff6 189px,#daeff5 195px,#d9eff5 201px,#d9eff5 207px,#d8eff5 213px,#d7eef5 219px,#d7eef5 225px,#d6eef5 231px,#d6eef5 237px,#d6eef5 243px,#d6eef5 249px,#d7eef5 255px,#d8eff5 261px,#d9eff5 267px,#daeff6 273px,#dceff6 279px,#ddf0f6 285px,#def0f6 291px,#dff0f6 297px,#e0f0f6 303px,#e2f1f6 309px,#e3f1f6 315px,#e4f1f6 321px,#e5f1f6 327px,#e6f1f6 333px,#e7f2f6 339px,#e8f2f5 345px,#eaf2f5 351px,#ecf3f5 357px,#eef3f5 363px,#f0f4f5 369px,#f2f4f4 375px,#f3f5f4 381px,#f4f5f4 387px,#f4f5f4 393px,#f3f5f4 399px,#f2f4f4 405px,#f0f4f5 411px,#edf3f5 417px,#eaf2f5 423px,#e7f2f6 429px,#e4f1f6 435px,#e1f0f6 441px,#def0f6 447px,#dbeff6 453px,#d7eef5 459px,#d4eef5 465px,#d0edf5 471px,#cbecf4 477px,#c6eaf4 483px,#c1e9f3 489px,#bce7f3 495px,#b7e6f2 501px,#b2e4f1 507px,#ade3f1 513px,#a8e1f0 519px,#a0dfef 525px,#98deef 531px,#90dcee 537px,#88daee 543px,#80d9ed 549px,#78d7ec 555px,#70d6ec 561px,#68d4eb 567px)"></div><div style="height:6px;background:linear-gradient(90deg,#e9f2f5 3px,#e7f2f6 9px,#e5f1f6 15px,#e3f1f6 21px,#e2f1f6 27px,#e1f0f6 33px,#e0f0f6 39px,#def0f6 45px,#def0f6 51px,#ddf0f6 57px,#dceff6 63px,#dbeff6 69px,#dbeff6 75px,#dbeff6 81px,#dbeff6 87px,#dbeff6 93px,#dbeff6 99px,#dbeff6 105px,#dbeff6 111px,#dceff6 117px,#dceff6 123px,#ddf0f6 129px,#ddf0f6 135px,#ddf0f6 141px,#def0f6 147px,#def0f6 153px,#def0f6 159px,#def0f6 165px,#def0f6 171px,#ddf0f6 177px,#ddf0f6 183px,#dceff6 189px,#dceff6 195px,#dbeff6 201px,#daeff6 207px,#daeff5 213px,#d9eff5 219px,#d8eff5 225px,#d7eef5 231px,#d7eef5 237px,#d7eef5 243px,#d7eef5 249px,#d8eff5 255px,#d9eff5 261px,#daeff5 267px,#dbeff6 273px,#dceff6 279px,#ddf0f6 285px,#def0f6 291px,#e0f0f6 297px,#e1f0f6 303px,#e2f1f6 309px,#e3f1f6 315px,#e4f1f6 321px,#e5f1f6 327px,#e6f1f6 333px,#e7f2f6 339px,#e8f2f6 345px,#eaf2f5 351px,#ebf3f5 357px,#edf3f5 363px,#eef3f5 369px,#f0f4f5 375px,#f1f4f5 381px,#f1f4f4 387px,#f1f4f4 393px,#f0f4f5 399px,#eef3f5 405px,#ecf3f5 411px,#eaf2f5 417px,#e7f2f6 423px,#e4f1f6 429px,#e1f0f6 435px,#def0f6 441px,#dbeff6 447px,#d8eff5 453px,#d5eef5 459px,#d1edf5 465px,#cdecf5 471px,#c8ebf4 477px,#c4e9f3 483px,#bfe8f3 489px,#bae6f2 495px,#b5e5f2 501px,#b0e3f1 507px,#abe2f0 513px,#a5e0f0 519px,#9ddfef 525px,#95ddef 531px,#8ddbee 537px,#85daed 543px,#7dd8ed 549px,#75d7ec 555px,#6dd5ec 561px,#66d3eb 567px)"></div><div style="height:6px;background:linear-gradient(90deg,#ecf3f5 3px,#eaf2f5 9px,#e8f2f6 15px,#e6f1f6 21px,#e4f1f6 27px,#e3f1f6 33px,#e2f1f6 39px,#e1f0f6 45px,#e0f0f6 51px,#dff0f6 57px,#def0f6 63px,#def0f6 69px,#def0f6 75px,#ddf0f6 81px,#ddf0f6 87px,#ddf0f6 93px,#ddf0f6 99px,#ddf0f6 105px,#def0f6 111px,#def0f6 117px,#dff0f6 123px,#dff0f6 129px,#dff0f6 135px,#e0f0f6 141px,#e0f0f6 147px,#e0f0f6 153px,#e0f0f6 159px,#e0f0f6 165px,#e0f0f6 171px,#dff0f6 177px,#dff0f6 183px,#def0f6 189px,#ddf0f6 195px,#ddf0f6 201px,#dceff6 207px,#dbeff6 213px,#daeff6 219px,#d9eff5 225px,#d9eff5 231px,#d8eff5 237px,#d8eff5 243px,#d8eff5 249px,#d9eff5 255px,#daeff5 261px,#dbeff6 267px,#dceff6 273px,#ddf0f6 279px,#def0f6 285px,#dff0f6 291px,#e0f0f6 297px,#e1f0f6 303px,#e2f1f6 309px,#e3f1f6 315px,#e4f1f6 321px,#e5f1f6 327px,#e6f1f6 333px,#e7f2f6 339px,#e8f2f6 345px,#e9f2f5 351px,#eaf2f5 357px,#ebf3f5 363px,#edf3f5 369px,#edf3f5 375px,#eef3f5 381px,#eef3f5 387px,#eef3f5 393px,#edf3f5 399px,#ebf3f5 405px,#e9f2f5 411px,#e7f2f6 417px,#e4f1f6 423px,#e1f0f6 429px,#dff0f6 435px,#dceff6 441px,#d9eff5 447px,#d6eef5 453px,#d2edf5 459px,#ceedf5 465px,#caebf4 471px,#c6eaf4 477px,#c1e9f3 483px,#bce7f3 489px,#b8e6f2 495px,#b3e4f1 501px,#aee3f1 507px,#a9e1f0 513px,#a2e0f0 519px,#9adeef 525px,#92dcee 531px,#8adbee 537px,#82d9ed 543px,#7ad8ed 549px,#73d6ec 555px,#6bd5eb 561px,#64d3eb 567px)"></div><div style="height:6px;background:linear-gradient(90deg,#eef3f5 3px,#ecf3f5 9px,#eaf2f5 15px,#e8f2f5 21px,#e7f2f6 27px,#e5f1f6 33px,#e4f1f6 39px,#e3f1f6 45px,#e2f1f6 51px,#e1f0f6 57px,#e1f0f6 63px,#e0f0f6 69px,#e0f0f6 75px,#e0f0f6 81px,#e0f0f6 87px,#e0f0f6 93px,#e0f0f6 99px,#e0f0f6 105px,#e0f0f6 111px,#e0f0f6 117px,#e1f0f6 123px,#e1f0f6 129px,#e1f0f6 135px,#e2f1f6 141px,#e2f1f6 147px,#e2f1f6 153px,#e2f1f6 159px,#e2f1f6 165px,#e1f0f6 171px,#e1f0f6 177px,#e0f0f6 183px,#e0f0f6 189px,#dff0f6 195px,#def0f6 201px,#ddf0f6 207px,#dceff6 213px,#dceff6 219px,#dbeff6 225px,#daeff6 231px,#daeff5 237px,#daeff5 243px,#daeff5 249px,#daeff6 255px,#dbeff6 261px,#dceff6 267px,#dceff6 273px,#ddf0f6 279px,#def0f6 285px,#dff0f6 291px,#e0f0f6 297px,#e1f0f6 303px,#e2f1f6 309px,#e3f1f6 315px,#e4f1f6 321px,#e5f1f6 327px,#e6f1f6 333px,#e7f2f6 339px,#e7f2f6 345px,#e8f2f6 351px,#e9f2f5 357px,#eaf2f5 363px,#ebf3f5 369px,#ebf3f5 375px,#ecf3f5 381px,#ebf3f5 387px,#ebf3f5 393px,#eaf2f5 399px,#e8f2f6 405px,#e6f1f6 411px,#e3f1f6 417px,#e1f0f6 423px,#dff0f6 429px,#dceff6 435px,#d9eff5 441px,#d6eef5 447px,#d3eef5 453px,#d0edf5 459px,#ccecf4 465px,#c7eaf4 471px,#c3e9f3 477px,#bfe8f3 483px,#bae6f2 489px,#b5e5f2 495px,#b1e4f1 501px,#ace2f0 507px,#a7e1f0 513px,#9fdfef 519px,#97ddef 525px,#8fdcee 531px,#87daee 537px,#7fd9ed 543px,#78d7ec 549px,#70d6ec 555px,#69d4eb 561px,#61d3eb 567px)"></div><div style="height:6px;background:linear-gradient(90deg,#f0f4f5 3px,#eef3f5 9px,#edf3f5 15px,#ebf3f5 21px,#e9f2f5 27px,#e8f2f6 33px,#e7f2f6 39px,#e5f1f6 45px,#e4f1f6 51px,#e4f1f6 57px,#e3f1f6 63px,#e3f1f6 69px,#e2f1f6 75px,#e2f1f6 81px,#e2f1f6 87px,#e2f1f6 93px,#e2f1f6 99px,#e2f1f6 105px,#e2f1f6 111px,#e2f1f6 117px,#e3f1f6 123px,#e3f1f6 129px,#e3f1f6 135px,#e3f1f6 141px,#e4f1f6 147px,#e4f1f6 153px,#e3f1f6 159px,#e3f1f6 165px,#e3f1f6 171px,#e2f1f6 177px,#e2f1f6 183px,#e1f0f6 189px,#e0f0f6 195px,#e0f0f6 201px,#dff0f6 207px,#def0f6 213px,#ddf0f6 219px,#dceff6 225px,#dceff6 231px,#dbeff6 237px,#dbeff6 243px,#dbeff6 249px,#dbeff6 255px,#dceff6 261px,#dceff6 267px,#ddf0f6 273px,#def0f6 279px,#dff0f6 285px,#e0f0f6 291px,#e1f0f6 297px,#e2f1f6 303px,#e2f1f6 309px,#e3f1f6 315px,#e4f1f6 321px,#e5f1f6 327px,#e5f1f6 333px,#e6f1f6 339px,#e7f2f6 345px,#e7f2f6 351px,#e8f2f6 357px,#e8f2f5 363px,#e9f2f5 369px,#e9f2f5 375px,#e9f2f5 381px,#e9f2f5 387px,#e8f2f6 393px,#e7f2f6 399px,#e5f1f6 405px,#e3f1f6 411px,#e1f0f6 417px,#dff0f6 423px,#dceff6 429px,#daeff5 435px,#d7eef5 441px,#d4eef5 447px,#d1edf5 453px,#cdecf5 459px,#c9ebf4 465px,#c5eaf4 471px,#c1e8f3 477px,#bce7f3 483px,#b8e6f2 489px,#b3e4f1 495px,#aee3f1 501px,#aae2f0 507px,#a3e0f0 513px,#9cdeef 519px,#94ddee 525px,#8cdbee 531px,#84daed 537px,#7dd8ed 543px,#75d7ec 549px,#6ed5ec 555px,#66d4eb 561px,#5fd2ea 567px)"></div><div style="height:6px;background:linear-gradient(90deg,#f3f4f4 3px,#f1f4f5 9px,#eff4f5 15px,#edf3f5 21px,#ecf3f5 27px,#eaf3f5 33px,#e9f2f5 39px,#e8f2f6 45px,#e7f2f6 51px,#e6f2f6 57px,#e5f1f6 63px,#e5f1f6 69px,#e4f1f6 75px,#e4f1f6 81px,#e4f1f6 87px,#e4f1f6 93px,#e4f1f6 99px,#e4f1f6 105px,#e4f1f6 111px,#e4f1f6 117px,#e5f1f6 123px,#e5f1f6 129px,#e5f1f6 135px,#e5f1f6 141px,#e5f1f6 147px,#e5f1f6 153px,#e5f1f6 159px,#e5f1f6 165px,#e4f1f6 171px,#e4f1f6 177px,#e3f1f6 183px,#e2f1f6 189px,#e2f1f6 195px,#e1f0f6 201px,#e0f0f6 207px,#dff0f6 213px,#def0f6 219px,#ddf0f6 225px,#ddf0f6 231px,#dceff6 237px,#dceff6 243px,#dceff6 249px,#dceff6 255px,#ddf0f6 261px,#ddf0f6 267px,#def0f6 273px,#dff0f6 279px,#dff0f6 285px,#e0f0f6 291px,#e1f0f6 297px,#e2f1f6 303px,#e2f1f6 309px,#e3f1f6 315px,#e4f1f6 321px,#e4f1f6 327px,#e5f1f6 333px,#e5f1f6 339px,#e6f1f6 345px,#e6f2f6 351px,#e7f2f6 357px,#e7f2f6 363px,#e7f2f6 369px,#e7f2f6 375px,#e7f2f6 381px,#e6f1f6 387px,#e5f1f6 393px,#e4f1f6 399px,#e2f1f6 405px,#e1f0f6 411px,#dff0f6 417px,#ddf0f6 423px,#daeff6 429px,#d8eff5 435px,#d5eef5 441px,#d2edf5 447px,#ceedf5 453px,#cbebf4 459px,#c7eaf4 465px,#c2e9f3 471px,#bee8f3 477px,#bae6f2 483px,#b5e5f2 489px,#b1e4f1 495px,#ace2f1 501px,#a8e1f0 507px,#a0dfef 513px,#99deef 519px,#91dcee 525px,#89dbee 531px,#82d9ed 537px,#7ad8ed 543px,#73d6ec 549px,#6bd5eb 555px,#64d3eb 561px,#5dd2ea 567px)"></div></div></div>
<svg width="1200" height="900" viewBox="0 0 1200 900">
<defs>
<g id="arr"><path d="M-9.6,-7L0,-14L9.6,-7M0,-14L0,16.2" fill="none" stroke="#000" stroke-width="5"/><path d="M-9.6,-7L0,-14L9.6,-7M0,-14L0,16.2" fill="none" stroke="#474747" stroke-width="2.1"/></g>
<linearGradient id="cb" x1="0" y1="0" x2="0" y2="1"><stop offset="0.000" stop-color="#fd9d8e"/><stop offset="0.050" stop-color="#fda698"/><stop offset="0.100" stop-color="#fdaea2"/><stop offset="0.150" stop-color="#fdb7ab"/><stop offset="0.200" stop-color="#fdbfb5"/><stop offset="0.250" stop-color="#fdc8bf"/><stop offset="0.300" stop-color="#fbd1ca"/><stop offset="0.350" stop-color="#fadad4"/><stop offset="0.400" stop-color="#f8e3df"/><stop offset="0.450" stop-color="#f7ece9"/><stop offset="0.500" stop-color="#f5f5f4"/><stop offset="0.550" stop-color="#e4f1f6"/><stop offset="0.600" stop-color="#d7eef5"/><stop offset="0.650" stop-color="#c8ebf4"/><stop offset="0.700" stop-color="#b8e6f2"/><stop offset="0.750" stop-color="#a8e1f0"/><stop offset="0.800" stop-color="#8edcee"/><stop offset="0.850" stop-color="#73d6ec"/><stop offset="0.900" stop-color="#59d1ea"/><stop offset="0.950" stop-color="#3ecbe8"/><stop offset="1.000" stop-color="#24c6e6"/></linearGradient>
</defs>
<g><use href="#arr" transform="translate(399.0 115.0) rotate(0.0)"/><use href="#arr" transform="translate(637.0 115.0) rotate(7.0)"/><use href="#arr" transform="translate(518.0 170.0) rotate(0.0)"/><use href="#arr" transform="translate(437.5 189.5) rotate(17.0)"/><use href="#arr" transform="translate(597.0 189.5) rotate(11.0)"/><use href="#arr" transform="translate(347.0 217.0) rotate(36.0)"/><use href="#arr" transform="translate(487.0 215.5) rotate(3.0)"/><use href="#arr" transform="translate(548.7 215.5) rotate(1.0)"/><use href="#arr" transform="translate(690.0 217.5) rotate(14.5)"/><use href="#arr" transform="translate(283.0 244.0) rotate(27.0)"/><use href="#arr" transform="translate(378.0 244.0) rotate(35.5)"/><use href="#arr" transform="translate(434.7 242.7) rotate(10.0)"/><use href="#arr" transform="translate(600.5 243.0) rotate(6.0)"/><use href="#arr" transform="translate(657.0 244.0) rotate(17.0)"/><use href="#arr" transform="translate(753.0 244.0) rotate(11.0)"/><use href="#arr" transform="translate(494.8 257.3) rotate(4.5)"/><use href="#arr" transform="translate(541.0 257.3) rotate(3.7)"/><use href="#arr" transform="translate(310.7 302.0) rotate(32.0)"/><use href="#arr" transform="translate(350.0 321.0) rotate(36.6)"/><use href="#arr" transform="translate(399.2 293.0) rotate(18.6)"/><use href="#arr" transform="translate(454.3 283.0) rotate(11.3)"/><use href="#arr" transform="translate(517.0 296.0) rotate(11.3)"/><use href="#arr" transform="translate(580.7 283.0) rotate(16.6)"/><use href="#arr" transform="translate(636.4 293.0) rotate(22.4)"/><use href="#arr" transform="translate(725.4 301.6) rotate(13.0)"/><use href="#arr" transform="translate(685.3 321.0) rotate(21.8)"/><use href="#arr" transform="translate(433.3 326.7) rotate(26.5)"/><use href="#arr" transform="translate(481.3 317.0) rotate(18.0)"/><use href="#arr" transform="translate(553.5 317.0) rotate(9.5)"/><use href="#arr" transform="translate(600.5 326.5) rotate(22.0)"/><use href="#arr" transform="translate(392.0 354.5) rotate(36.0)"/><use href="#arr" transform="translate(481.0 359.5) rotate(20.0)"/><use href="#arr" transform="translate(553.0 359.3) rotate(11.5)"/><use href="#arr" transform="translate(642.4 353.7) rotate(24.6)"/><use href="#arr" transform="translate(273.7 404.0) rotate(28.0)"/><use href="#arr" transform="translate(313.7 392.8) rotate(59.6)"/><use href="#arr" transform="translate(360.0 397.8) rotate(48.0)"/><use href="#arr" transform="translate(414.8 411.0) rotate(36.6)"/><use href="#arr" transform="translate(440.0 374.0) rotate(27.0)"/><use href="#arr" transform="translate(517.0 380.5) rotate(15.4)"/><use href="#arr" transform="translate(593.5 374.0) rotate(43.7)"/><use href="#arr" transform="translate(673.9 397.8) rotate(50.0)"/><use href="#arr" transform="translate(720.1 391.7) rotate(46.0)"/><use href="#arr" transform="translate(621.1 410.0) rotate(72.8)"/><use href="#arr" transform="translate(755.5 424.5) rotate(27.0)"/><use href="#arr" transform="translate(471.7 409.5) rotate(24.6)"/><use href="#arr" transform="translate(517.4 422.5) rotate(37.6)"/><use href="#arr" transform="translate(563.0 407.8) rotate(54.0)"/><use href="#arr" transform="translate(356.2 473.4) rotate(88.0)"/><use href="#arr" transform="translate(407.0 466.0) rotate(72.5)"/><use href="#arr" transform="translate(457.5 450.0) rotate(33.0)"/><use href="#arr" transform="translate(518.0 464.0) rotate(100.0)"/><use href="#arr" transform="translate(577.3 449.2) rotate(127.6)"/><use href="#arr" transform="translate(629.5 464.9) rotate(148.0)"/><use href="#arr" transform="translate(679.2 473.4) rotate(98.0)"/><use href="#arr" transform="translate(339.7 517.4) rotate(44.5)"/><use href="#arr" transform="translate(428.4 528.0) rotate(46.0)"/><use href="#arr" transform="translate(477.5 502.0) rotate(67.8)"/><use href="#arr" transform="translate(558.3 501.0) rotate(180.0)"/><use href="#arr" transform="translate(607.4 528.8) rotate(90.0)"/><use href="#arr" transform="translate(698.2 517.2) rotate(43.7)"/><use href="#arr" transform="translate(517.6 548.8) rotate(55.0)"/><use href="#arr" transform="translate(452.1 582.5) rotate(26.6)"/><use href="#arr" transform="translate(583.3 582.7) rotate(24.9)"/></g>
<g fill="none" stroke="#000" stroke-width="6" stroke-linejoin="round">
<circle cx="518" cy="354.2" r="267"/>
<polyline points="491.3,87.2 518.0,60.5 544.7,87.2" stroke-linejoin="miter"/>
<polyline points="783.4,324.6 790.3,312.8 794.6,312.4 801.0,314.4 807.4,324.6 806.4,357.1 810.1,404.0 802.1,424.3 790.3,428.1 779.1,418.2" stroke-width="6.4"/>
<polyline points="252.6,324.6 245.7,312.8 241.4,312.4 235.0,314.4 228.6,324.6 229.6,357.1 225.9,404.0 233.9,424.3 245.7,428.1 256.9,418.2" stroke-width="6.4"/>
</g>
<rect x="981" y="33" width="22" height="618" fill="url(#cb)"/>
<rect x="980" y="32" width="24" height="620" fill="none" stroke="#000" stroke-width="2"/>
<g stroke="#000" stroke-width="2"><line x1="1004" y1="32" x2="1015" y2="32"/><line x1="1004" y1="187" x2="1015" y2="187"/><line x1="1004" y1="342" x2="1015" y2="342"/><line x1="1004" y1="497" x2="1015" y2="497"/><line x1="1004" y1="652" x2="1015" y2="652"/></g>
<g font-size="36"><text x="1022" y="45.2">0.96</text><text x="1022" y="200.2">0.52</text><text x="1022" y="355.2">0.07</text><text x="1022" y="510.2">-0.37</text><text x="1022" y="665.2">-0.81</text></g>
<text transform="translate(1124.4 212.8) rotate(90) scale(1 1.045)" font-size="48">Voltage [μV]</text>
<text transform="translate(320.5 705.4) scale(1 1.055)" font-size="48">Time point [50 ms]</text>
<text transform="translate(246 800.8) scale(1 1.08)" font-size="40" font-weight="bold" text-anchor="middle">Some</text>
<text transform="translate(246 847.5) scale(1 1.08)" font-size="40" font-weight="bold" text-anchor="middle">measure</text>
<g font-size="36">
<text x="393.7" y="822.2">0.23</text>
<text x="546.5" y="822.2">0.42</text>
<text x="698" y="822.2">0.6</text>
<text x="829.8" y="822.2">0.79</text>
<text x="981.8" y="822.2">0.97</text>
</g>
<g fill="none" stroke="#000" stroke-width="2.7">
<path d="M364,824V795.5M355.3,801L364,795L372.7,801"/>
<path d="M506.4,818.4L525.5,799.3M515.3,799.3H525.8V809.6" stroke-width="3.2"/>
<path d="M653.1,808.9H682M675.8,799.6L682.5,808.9L675.8,818.2"/>
<path d="M790.2,799.1L809.3,818.2M799.6,818.5H809.8V808.2" stroke-width="3.2"/>
<path d="M952.3,793.3V822M943.6,816.5L952.3,822.5L961,816.5"/>
</g>
</svg>
</body></html>
